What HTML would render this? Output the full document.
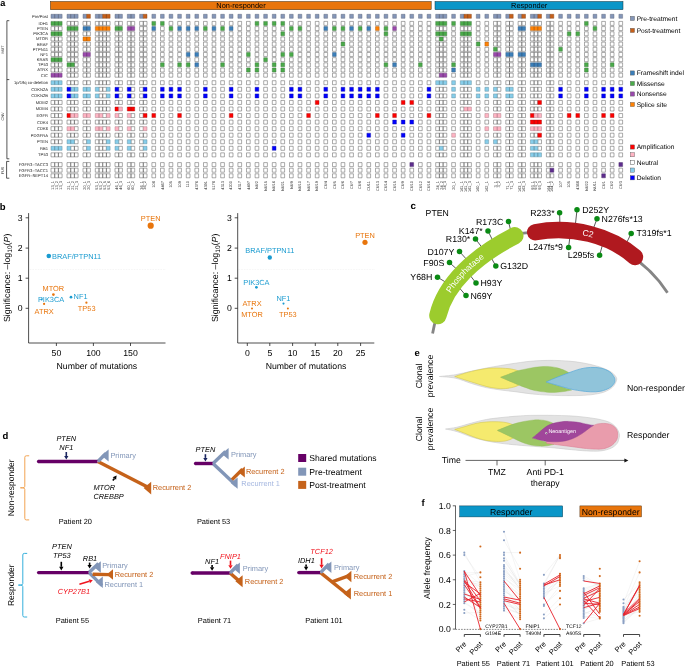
<!DOCTYPE html>
<html lang="en">
<head>
<meta charset="utf-8">
<title>Figure</title>
<style>
html,body{margin:0;padding:0;background:#fff;}
body{width:685px;height:666px;overflow:hidden;}
svg{display:block;font-family:"Liberation Sans",sans-serif;fill:#000;}
svg text{white-space:pre;}
</style>
</head>
<body>
<svg width="685" height="666" viewBox="0 0 685 666" text-rendering="geometricPrecision">
<rect x="0" y="0" width="685" height="666" fill="#fff"/>
<rect x="50.40" y="1.5" width="380.80" height="8.2" fill="#e8750c" stroke="#3a2a10" stroke-width="0.5"/>
<rect x="435.00" y="1.5" width="188.00" height="8.2" fill="#0a96c8" stroke="#10303a" stroke-width="0.5"/>
<text x="241.00" y="8.30" font-size="7.4" text-anchor="middle" fill="#000">Non-responder</text>
<text x="529.15" y="8.30" font-size="7.4" text-anchor="middle" fill="#000">Responder</text>
<text x="0.20" y="5.80" font-size="9.2" fill="#000" font-weight="bold">a</text>
<g stroke="#454545" stroke-width="0.45">
<path fill="#fff" d="M67,21.4h3.7v4.0h-3.7zM70.7,21.4h3.7v4.0h-3.7zM74.4,21.4h3.7v4.0h-3.7zM83,21.4h3.7v4.0h-3.7zM86.7,21.4h3.7v4.0h-3.7zM95.3,21.4h3.7v4.0h-3.7zM99,21.4h3.7v4.0h-3.7zM102.7,21.4h3.7v4.0h-3.7zM106.4,21.4h3.7v4.0h-3.7zM115,21.4h3.7v4.0h-3.7zM118.7,21.4h3.7v4.0h-3.7zM127.3,21.4h3.7v4.0h-3.7zM131,21.4h3.7v4.0h-3.7zM139.6,21.4h3.7v4.0h-3.7zM143.3,21.4h3.7v4.0h-3.7zM169.1,21.4h3.7v4.0h-3.7zM177.7,21.4h3.7v4.0h-3.7zM186.3,21.4h3.7v4.0h-3.7zM194.9,21.4h3.7v4.0h-3.7zM203.5,21.4h3.7v4.0h-3.7zM212.1,21.4h3.7v4.0h-3.7zM220.7,21.4h3.7v4.0h-3.7zM229.3,21.4h3.7v4.0h-3.7zM237.9,21.4h3.7v4.0h-3.7zM246.5,21.4h3.7v4.0h-3.7zM289.5,21.4h3.7v4.0h-3.7zM298.1,21.4h3.7v4.0h-3.7zM306.7,21.4h3.7v4.0h-3.7zM315.3,21.4h3.7v4.0h-3.7zM323.9,21.4h3.7v4.0h-3.7zM332.5,21.4h3.7v4.0h-3.7zM341.1,21.4h3.7v4.0h-3.7zM349.7,21.4h3.7v4.0h-3.7zM358.3,21.4h3.7v4.0h-3.7zM366.9,21.4h3.7v4.0h-3.7zM375.5,21.4h3.7v4.0h-3.7zM384.1,21.4h3.7v4.0h-3.7zM392.7,21.4h3.7v4.0h-3.7zM401.3,21.4h3.7v4.0h-3.7zM409.9,21.4h3.7v4.0h-3.7zM418.5,21.4h3.7v4.0h-3.7zM427.1,21.4h3.7v4.0h-3.7zM476.3,21.4h3.7v4.0h-3.7zM484.9,21.4h3.7v4.0h-3.7zM493.5,21.4h3.7v4.0h-3.7zM497.2,21.4h3.7v4.0h-3.7zM505.8,21.4h3.7v4.0h-3.7zM509.5,21.4h3.7v4.0h-3.7zM518.1,21.4h3.7v4.0h-3.7zM521.8,21.4h3.7v4.0h-3.7zM530.4,21.4h3.7v4.0h-3.7zM534.1,21.4h3.7v4.0h-3.7zM537.8,21.4h3.7v4.0h-3.7zM546.4,21.4h3.7v4.0h-3.7zM550.1,21.4h3.7v4.0h-3.7zM558.7,21.4h3.7v4.0h-3.7zM567.3,21.4h3.7v4.0h-3.7zM575.9,21.4h3.7v4.0h-3.7zM593.1,21.4h3.7v4.0h-3.7zM601.7,21.4h3.7v4.0h-3.7zM610.3,21.4h3.7v4.0h-3.7zM618.9,21.4h3.7v4.0h-3.7zM51,26.58h3.7v4.0h-3.7zM54.7,26.58h3.7v4.0h-3.7zM58.4,26.58h3.7v4.0h-3.7zM139.6,26.58h3.7v4.0h-3.7zM143.3,26.58h3.7v4.0h-3.7zM160.5,26.58h3.7v4.0h-3.7zM237.9,26.58h3.7v4.0h-3.7zM246.5,26.58h3.7v4.0h-3.7zM255.1,26.58h3.7v4.0h-3.7zM263.7,26.58h3.7v4.0h-3.7zM272.3,26.58h3.7v4.0h-3.7zM280.9,26.58h3.7v4.0h-3.7zM306.7,26.58h3.7v4.0h-3.7zM315.3,26.58h3.7v4.0h-3.7zM401.3,26.58h3.7v4.0h-3.7zM409.9,26.58h3.7v4.0h-3.7zM418.5,26.58h3.7v4.0h-3.7zM427.1,26.58h3.7v4.0h-3.7zM435.7,26.58h3.7v4.0h-3.7zM439.4,26.58h3.7v4.0h-3.7zM443.1,26.58h3.7v4.0h-3.7zM451.7,26.58h3.7v4.0h-3.7zM460.3,26.58h3.7v4.0h-3.7zM464,26.58h3.7v4.0h-3.7zM467.7,26.58h3.7v4.0h-3.7zM476.3,26.58h3.7v4.0h-3.7zM484.9,26.58h3.7v4.0h-3.7zM493.5,26.58h3.7v4.0h-3.7zM497.2,26.58h3.7v4.0h-3.7zM505.8,26.58h3.7v4.0h-3.7zM509.5,26.58h3.7v4.0h-3.7zM546.4,26.58h3.7v4.0h-3.7zM550.1,26.58h3.7v4.0h-3.7zM558.7,26.58h3.7v4.0h-3.7zM567.3,26.58h3.7v4.0h-3.7zM575.9,26.58h3.7v4.0h-3.7zM584.5,26.58h3.7v4.0h-3.7zM601.7,26.58h3.7v4.0h-3.7zM610.3,26.58h3.7v4.0h-3.7zM618.9,26.58h3.7v4.0h-3.7zM67,31.76h3.7v4.0h-3.7zM70.7,31.76h3.7v4.0h-3.7zM74.4,31.76h3.7v4.0h-3.7zM83,31.76h3.7v4.0h-3.7zM86.7,31.76h3.7v4.0h-3.7zM95.3,31.76h3.7v4.0h-3.7zM99,31.76h3.7v4.0h-3.7zM102.7,31.76h3.7v4.0h-3.7zM106.4,31.76h3.7v4.0h-3.7zM115,31.76h3.7v4.0h-3.7zM118.7,31.76h3.7v4.0h-3.7zM127.3,31.76h3.7v4.0h-3.7zM131,31.76h3.7v4.0h-3.7zM139.6,31.76h3.7v4.0h-3.7zM143.3,31.76h3.7v4.0h-3.7zM151.9,31.76h3.7v4.0h-3.7zM160.5,31.76h3.7v4.0h-3.7zM169.1,31.76h3.7v4.0h-3.7zM177.7,31.76h3.7v4.0h-3.7zM186.3,31.76h3.7v4.0h-3.7zM194.9,31.76h3.7v4.0h-3.7zM203.5,31.76h3.7v4.0h-3.7zM212.1,31.76h3.7v4.0h-3.7zM220.7,31.76h3.7v4.0h-3.7zM229.3,31.76h3.7v4.0h-3.7zM237.9,31.76h3.7v4.0h-3.7zM246.5,31.76h3.7v4.0h-3.7zM255.1,31.76h3.7v4.0h-3.7zM263.7,31.76h3.7v4.0h-3.7zM272.3,31.76h3.7v4.0h-3.7zM289.5,31.76h3.7v4.0h-3.7zM298.1,31.76h3.7v4.0h-3.7zM306.7,31.76h3.7v4.0h-3.7zM315.3,31.76h3.7v4.0h-3.7zM323.9,31.76h3.7v4.0h-3.7zM332.5,31.76h3.7v4.0h-3.7zM341.1,31.76h3.7v4.0h-3.7zM349.7,31.76h3.7v4.0h-3.7zM358.3,31.76h3.7v4.0h-3.7zM366.9,31.76h3.7v4.0h-3.7zM375.5,31.76h3.7v4.0h-3.7zM392.7,31.76h3.7v4.0h-3.7zM401.3,31.76h3.7v4.0h-3.7zM409.9,31.76h3.7v4.0h-3.7zM418.5,31.76h3.7v4.0h-3.7zM427.1,31.76h3.7v4.0h-3.7zM451.7,31.76h3.7v4.0h-3.7zM476.3,31.76h3.7v4.0h-3.7zM484.9,31.76h3.7v4.0h-3.7zM493.5,31.76h3.7v4.0h-3.7zM497.2,31.76h3.7v4.0h-3.7zM505.8,31.76h3.7v4.0h-3.7zM509.5,31.76h3.7v4.0h-3.7zM518.1,31.76h3.7v4.0h-3.7zM521.8,31.76h3.7v4.0h-3.7zM530.4,31.76h3.7v4.0h-3.7zM534.1,31.76h3.7v4.0h-3.7zM537.8,31.76h3.7v4.0h-3.7zM546.4,31.76h3.7v4.0h-3.7zM550.1,31.76h3.7v4.0h-3.7zM558.7,31.76h3.7v4.0h-3.7zM584.5,31.76h3.7v4.0h-3.7zM593.1,31.76h3.7v4.0h-3.7zM601.7,31.76h3.7v4.0h-3.7zM610.3,31.76h3.7v4.0h-3.7zM618.9,31.76h3.7v4.0h-3.7zM51,36.94h3.7v4.0h-3.7zM54.7,36.94h3.7v4.0h-3.7zM58.4,36.94h3.7v4.0h-3.7zM67,36.94h3.7v4.0h-3.7zM70.7,36.94h3.7v4.0h-3.7zM74.4,36.94h3.7v4.0h-3.7zM95.3,36.94h3.7v4.0h-3.7zM99,36.94h3.7v4.0h-3.7zM102.7,36.94h3.7v4.0h-3.7zM106.4,36.94h3.7v4.0h-3.7zM115,36.94h3.7v4.0h-3.7zM118.7,36.94h3.7v4.0h-3.7zM127.3,36.94h3.7v4.0h-3.7zM131,36.94h3.7v4.0h-3.7zM139.6,36.94h3.7v4.0h-3.7zM143.3,36.94h3.7v4.0h-3.7zM151.9,36.94h3.7v4.0h-3.7zM160.5,36.94h3.7v4.0h-3.7zM169.1,36.94h3.7v4.0h-3.7zM177.7,36.94h3.7v4.0h-3.7zM186.3,36.94h3.7v4.0h-3.7zM194.9,36.94h3.7v4.0h-3.7zM203.5,36.94h3.7v4.0h-3.7zM212.1,36.94h3.7v4.0h-3.7zM220.7,36.94h3.7v4.0h-3.7zM229.3,36.94h3.7v4.0h-3.7zM237.9,36.94h3.7v4.0h-3.7zM246.5,36.94h3.7v4.0h-3.7zM255.1,36.94h3.7v4.0h-3.7zM263.7,36.94h3.7v4.0h-3.7zM272.3,36.94h3.7v4.0h-3.7zM280.9,36.94h3.7v4.0h-3.7zM289.5,36.94h3.7v4.0h-3.7zM298.1,36.94h3.7v4.0h-3.7zM306.7,36.94h3.7v4.0h-3.7zM315.3,36.94h3.7v4.0h-3.7zM323.9,36.94h3.7v4.0h-3.7zM332.5,36.94h3.7v4.0h-3.7zM341.1,36.94h3.7v4.0h-3.7zM349.7,36.94h3.7v4.0h-3.7zM358.3,36.94h3.7v4.0h-3.7zM366.9,36.94h3.7v4.0h-3.7zM375.5,36.94h3.7v4.0h-3.7zM384.1,36.94h3.7v4.0h-3.7zM392.7,36.94h3.7v4.0h-3.7zM401.3,36.94h3.7v4.0h-3.7zM409.9,36.94h3.7v4.0h-3.7zM418.5,36.94h3.7v4.0h-3.7zM427.1,36.94h3.7v4.0h-3.7zM435.7,36.94h3.7v4.0h-3.7zM443.1,36.94h3.7v4.0h-3.7zM451.7,36.94h3.7v4.0h-3.7zM460.3,36.94h3.7v4.0h-3.7zM464,36.94h3.7v4.0h-3.7zM467.7,36.94h3.7v4.0h-3.7zM476.3,36.94h3.7v4.0h-3.7zM484.9,36.94h3.7v4.0h-3.7zM493.5,36.94h3.7v4.0h-3.7zM497.2,36.94h3.7v4.0h-3.7zM505.8,36.94h3.7v4.0h-3.7zM509.5,36.94h3.7v4.0h-3.7zM518.1,36.94h3.7v4.0h-3.7zM521.8,36.94h3.7v4.0h-3.7zM530.4,36.94h3.7v4.0h-3.7zM534.1,36.94h3.7v4.0h-3.7zM537.8,36.94h3.7v4.0h-3.7zM546.4,36.94h3.7v4.0h-3.7zM550.1,36.94h3.7v4.0h-3.7zM558.7,36.94h3.7v4.0h-3.7zM567.3,36.94h3.7v4.0h-3.7zM575.9,36.94h3.7v4.0h-3.7zM584.5,36.94h3.7v4.0h-3.7zM593.1,36.94h3.7v4.0h-3.7zM601.7,36.94h3.7v4.0h-3.7zM610.3,36.94h3.7v4.0h-3.7zM618.9,36.94h3.7v4.0h-3.7zM51,42.12h3.7v4.0h-3.7zM54.7,42.12h3.7v4.0h-3.7zM58.4,42.12h3.7v4.0h-3.7zM67,42.12h3.7v4.0h-3.7zM70.7,42.12h3.7v4.0h-3.7zM74.4,42.12h3.7v4.0h-3.7zM83,42.12h3.7v4.0h-3.7zM86.7,42.12h3.7v4.0h-3.7zM95.3,42.12h3.7v4.0h-3.7zM99,42.12h3.7v4.0h-3.7zM102.7,42.12h3.7v4.0h-3.7zM106.4,42.12h3.7v4.0h-3.7zM115,42.12h3.7v4.0h-3.7zM118.7,42.12h3.7v4.0h-3.7zM127.3,42.12h3.7v4.0h-3.7zM131,42.12h3.7v4.0h-3.7zM139.6,42.12h3.7v4.0h-3.7zM143.3,42.12h3.7v4.0h-3.7zM151.9,42.12h3.7v4.0h-3.7zM160.5,42.12h3.7v4.0h-3.7zM169.1,42.12h3.7v4.0h-3.7zM177.7,42.12h3.7v4.0h-3.7zM186.3,42.12h3.7v4.0h-3.7zM194.9,42.12h3.7v4.0h-3.7zM203.5,42.12h3.7v4.0h-3.7zM212.1,42.12h3.7v4.0h-3.7zM220.7,42.12h3.7v4.0h-3.7zM229.3,42.12h3.7v4.0h-3.7zM237.9,42.12h3.7v4.0h-3.7zM246.5,42.12h3.7v4.0h-3.7zM255.1,42.12h3.7v4.0h-3.7zM263.7,42.12h3.7v4.0h-3.7zM272.3,42.12h3.7v4.0h-3.7zM280.9,42.12h3.7v4.0h-3.7zM289.5,42.12h3.7v4.0h-3.7zM298.1,42.12h3.7v4.0h-3.7zM306.7,42.12h3.7v4.0h-3.7zM315.3,42.12h3.7v4.0h-3.7zM323.9,42.12h3.7v4.0h-3.7zM332.5,42.12h3.7v4.0h-3.7zM349.7,42.12h3.7v4.0h-3.7zM358.3,42.12h3.7v4.0h-3.7zM366.9,42.12h3.7v4.0h-3.7zM375.5,42.12h3.7v4.0h-3.7zM384.1,42.12h3.7v4.0h-3.7zM392.7,42.12h3.7v4.0h-3.7zM401.3,42.12h3.7v4.0h-3.7zM409.9,42.12h3.7v4.0h-3.7zM418.5,42.12h3.7v4.0h-3.7zM427.1,42.12h3.7v4.0h-3.7zM435.7,42.12h3.7v4.0h-3.7zM439.4,42.12h3.7v4.0h-3.7zM443.1,42.12h3.7v4.0h-3.7zM451.7,42.12h3.7v4.0h-3.7zM460.3,42.12h3.7v4.0h-3.7zM464,42.12h3.7v4.0h-3.7zM467.7,42.12h3.7v4.0h-3.7zM493.5,42.12h3.7v4.0h-3.7zM497.2,42.12h3.7v4.0h-3.7zM505.8,42.12h3.7v4.0h-3.7zM509.5,42.12h3.7v4.0h-3.7zM518.1,42.12h3.7v4.0h-3.7zM521.8,42.12h3.7v4.0h-3.7zM530.4,42.12h3.7v4.0h-3.7zM534.1,42.12h3.7v4.0h-3.7zM537.8,42.12h3.7v4.0h-3.7zM546.4,42.12h3.7v4.0h-3.7zM550.1,42.12h3.7v4.0h-3.7zM558.7,42.12h3.7v4.0h-3.7zM567.3,42.12h3.7v4.0h-3.7zM575.9,42.12h3.7v4.0h-3.7zM584.5,42.12h3.7v4.0h-3.7zM593.1,42.12h3.7v4.0h-3.7zM601.7,42.12h3.7v4.0h-3.7zM610.3,42.12h3.7v4.0h-3.7zM618.9,42.12h3.7v4.0h-3.7zM51,47.3h3.7v4.0h-3.7zM54.7,47.3h3.7v4.0h-3.7zM58.4,47.3h3.7v4.0h-3.7zM67,47.3h3.7v4.0h-3.7zM70.7,47.3h3.7v4.0h-3.7zM74.4,47.3h3.7v4.0h-3.7zM83,47.3h3.7v4.0h-3.7zM86.7,47.3h3.7v4.0h-3.7zM95.3,47.3h3.7v4.0h-3.7zM99,47.3h3.7v4.0h-3.7zM102.7,47.3h3.7v4.0h-3.7zM106.4,47.3h3.7v4.0h-3.7zM115,47.3h3.7v4.0h-3.7zM118.7,47.3h3.7v4.0h-3.7zM127.3,47.3h3.7v4.0h-3.7zM131,47.3h3.7v4.0h-3.7zM139.6,47.3h3.7v4.0h-3.7zM143.3,47.3h3.7v4.0h-3.7zM151.9,47.3h3.7v4.0h-3.7zM160.5,47.3h3.7v4.0h-3.7zM169.1,47.3h3.7v4.0h-3.7zM177.7,47.3h3.7v4.0h-3.7zM186.3,47.3h3.7v4.0h-3.7zM194.9,47.3h3.7v4.0h-3.7zM203.5,47.3h3.7v4.0h-3.7zM212.1,47.3h3.7v4.0h-3.7zM220.7,47.3h3.7v4.0h-3.7zM229.3,47.3h3.7v4.0h-3.7zM237.9,47.3h3.7v4.0h-3.7zM246.5,47.3h3.7v4.0h-3.7zM255.1,47.3h3.7v4.0h-3.7zM263.7,47.3h3.7v4.0h-3.7zM272.3,47.3h3.7v4.0h-3.7zM280.9,47.3h3.7v4.0h-3.7zM289.5,47.3h3.7v4.0h-3.7zM298.1,47.3h3.7v4.0h-3.7zM306.7,47.3h3.7v4.0h-3.7zM315.3,47.3h3.7v4.0h-3.7zM323.9,47.3h3.7v4.0h-3.7zM332.5,47.3h3.7v4.0h-3.7zM341.1,47.3h3.7v4.0h-3.7zM349.7,47.3h3.7v4.0h-3.7zM358.3,47.3h3.7v4.0h-3.7zM366.9,47.3h3.7v4.0h-3.7zM375.5,47.3h3.7v4.0h-3.7zM384.1,47.3h3.7v4.0h-3.7zM392.7,47.3h3.7v4.0h-3.7zM401.3,47.3h3.7v4.0h-3.7zM409.9,47.3h3.7v4.0h-3.7zM418.5,47.3h3.7v4.0h-3.7zM427.1,47.3h3.7v4.0h-3.7zM435.7,47.3h3.7v4.0h-3.7zM439.4,47.3h3.7v4.0h-3.7zM443.1,47.3h3.7v4.0h-3.7zM451.7,47.3h3.7v4.0h-3.7zM460.3,47.3h3.7v4.0h-3.7zM464,47.3h3.7v4.0h-3.7zM467.7,47.3h3.7v4.0h-3.7zM476.3,47.3h3.7v4.0h-3.7zM484.9,47.3h3.7v4.0h-3.7zM497.2,47.3h3.7v4.0h-3.7zM505.8,47.3h3.7v4.0h-3.7zM509.5,47.3h3.7v4.0h-3.7zM518.1,47.3h3.7v4.0h-3.7zM521.8,47.3h3.7v4.0h-3.7zM530.4,47.3h3.7v4.0h-3.7zM534.1,47.3h3.7v4.0h-3.7zM537.8,47.3h3.7v4.0h-3.7zM546.4,47.3h3.7v4.0h-3.7zM550.1,47.3h3.7v4.0h-3.7zM567.3,47.3h3.7v4.0h-3.7zM575.9,47.3h3.7v4.0h-3.7zM584.5,47.3h3.7v4.0h-3.7zM593.1,47.3h3.7v4.0h-3.7zM601.7,47.3h3.7v4.0h-3.7zM610.3,47.3h3.7v4.0h-3.7zM618.9,47.3h3.7v4.0h-3.7zM51,52.48h3.7v4.0h-3.7zM54.7,52.48h3.7v4.0h-3.7zM58.4,52.48h3.7v4.0h-3.7zM67,52.48h3.7v4.0h-3.7zM70.7,52.48h3.7v4.0h-3.7zM74.4,52.48h3.7v4.0h-3.7zM95.3,52.48h3.7v4.0h-3.7zM99,52.48h3.7v4.0h-3.7zM102.7,52.48h3.7v4.0h-3.7zM106.4,52.48h3.7v4.0h-3.7zM115,52.48h3.7v4.0h-3.7zM118.7,52.48h3.7v4.0h-3.7zM127.3,52.48h3.7v4.0h-3.7zM131,52.48h3.7v4.0h-3.7zM139.6,52.48h3.7v4.0h-3.7zM143.3,52.48h3.7v4.0h-3.7zM151.9,52.48h3.7v4.0h-3.7zM160.5,52.48h3.7v4.0h-3.7zM169.1,52.48h3.7v4.0h-3.7zM177.7,52.48h3.7v4.0h-3.7zM203.5,52.48h3.7v4.0h-3.7zM212.1,52.48h3.7v4.0h-3.7zM220.7,52.48h3.7v4.0h-3.7zM229.3,52.48h3.7v4.0h-3.7zM237.9,52.48h3.7v4.0h-3.7zM255.1,52.48h3.7v4.0h-3.7zM263.7,52.48h3.7v4.0h-3.7zM272.3,52.48h3.7v4.0h-3.7zM298.1,52.48h3.7v4.0h-3.7zM306.7,52.48h3.7v4.0h-3.7zM315.3,52.48h3.7v4.0h-3.7zM323.9,52.48h3.7v4.0h-3.7zM341.1,52.48h3.7v4.0h-3.7zM349.7,52.48h3.7v4.0h-3.7zM358.3,52.48h3.7v4.0h-3.7zM366.9,52.48h3.7v4.0h-3.7zM375.5,52.48h3.7v4.0h-3.7zM384.1,52.48h3.7v4.0h-3.7zM392.7,52.48h3.7v4.0h-3.7zM401.3,52.48h3.7v4.0h-3.7zM409.9,52.48h3.7v4.0h-3.7zM418.5,52.48h3.7v4.0h-3.7zM427.1,52.48h3.7v4.0h-3.7zM435.7,52.48h3.7v4.0h-3.7zM439.4,52.48h3.7v4.0h-3.7zM443.1,52.48h3.7v4.0h-3.7zM451.7,52.48h3.7v4.0h-3.7zM460.3,52.48h3.7v4.0h-3.7zM464,52.48h3.7v4.0h-3.7zM467.7,52.48h3.7v4.0h-3.7zM476.3,52.48h3.7v4.0h-3.7zM484.9,52.48h3.7v4.0h-3.7zM530.4,52.48h3.7v4.0h-3.7zM534.1,52.48h3.7v4.0h-3.7zM537.8,52.48h3.7v4.0h-3.7zM546.4,52.48h3.7v4.0h-3.7zM550.1,52.48h3.7v4.0h-3.7zM558.7,52.48h3.7v4.0h-3.7zM567.3,52.48h3.7v4.0h-3.7zM575.9,52.48h3.7v4.0h-3.7zM584.5,52.48h3.7v4.0h-3.7zM593.1,52.48h3.7v4.0h-3.7zM601.7,52.48h3.7v4.0h-3.7zM610.3,52.48h3.7v4.0h-3.7zM618.9,52.48h3.7v4.0h-3.7zM67,57.66h3.7v4.0h-3.7zM70.7,57.66h3.7v4.0h-3.7zM74.4,57.66h3.7v4.0h-3.7zM83,57.66h3.7v4.0h-3.7zM86.7,57.66h3.7v4.0h-3.7zM95.3,57.66h3.7v4.0h-3.7zM99,57.66h3.7v4.0h-3.7zM102.7,57.66h3.7v4.0h-3.7zM106.4,57.66h3.7v4.0h-3.7zM115,57.66h3.7v4.0h-3.7zM118.7,57.66h3.7v4.0h-3.7zM127.3,57.66h3.7v4.0h-3.7zM131,57.66h3.7v4.0h-3.7zM139.6,57.66h3.7v4.0h-3.7zM143.3,57.66h3.7v4.0h-3.7zM151.9,57.66h3.7v4.0h-3.7zM160.5,57.66h3.7v4.0h-3.7zM169.1,57.66h3.7v4.0h-3.7zM177.7,57.66h3.7v4.0h-3.7zM186.3,57.66h3.7v4.0h-3.7zM194.9,57.66h3.7v4.0h-3.7zM203.5,57.66h3.7v4.0h-3.7zM212.1,57.66h3.7v4.0h-3.7zM220.7,57.66h3.7v4.0h-3.7zM229.3,57.66h3.7v4.0h-3.7zM237.9,57.66h3.7v4.0h-3.7zM246.5,57.66h3.7v4.0h-3.7zM255.1,57.66h3.7v4.0h-3.7zM272.3,57.66h3.7v4.0h-3.7zM280.9,57.66h3.7v4.0h-3.7zM289.5,57.66h3.7v4.0h-3.7zM298.1,57.66h3.7v4.0h-3.7zM306.7,57.66h3.7v4.0h-3.7zM315.3,57.66h3.7v4.0h-3.7zM323.9,57.66h3.7v4.0h-3.7zM332.5,57.66h3.7v4.0h-3.7zM341.1,57.66h3.7v4.0h-3.7zM349.7,57.66h3.7v4.0h-3.7zM358.3,57.66h3.7v4.0h-3.7zM366.9,57.66h3.7v4.0h-3.7zM375.5,57.66h3.7v4.0h-3.7zM384.1,57.66h3.7v4.0h-3.7zM392.7,57.66h3.7v4.0h-3.7zM401.3,57.66h3.7v4.0h-3.7zM409.9,57.66h3.7v4.0h-3.7zM418.5,57.66h3.7v4.0h-3.7zM427.1,57.66h3.7v4.0h-3.7zM435.7,57.66h3.7v4.0h-3.7zM439.4,57.66h3.7v4.0h-3.7zM443.1,57.66h3.7v4.0h-3.7zM451.7,57.66h3.7v4.0h-3.7zM460.3,57.66h3.7v4.0h-3.7zM464,57.66h3.7v4.0h-3.7zM467.7,57.66h3.7v4.0h-3.7zM476.3,57.66h3.7v4.0h-3.7zM484.9,57.66h3.7v4.0h-3.7zM493.5,57.66h3.7v4.0h-3.7zM497.2,57.66h3.7v4.0h-3.7zM505.8,57.66h3.7v4.0h-3.7zM509.5,57.66h3.7v4.0h-3.7zM518.1,57.66h3.7v4.0h-3.7zM521.8,57.66h3.7v4.0h-3.7zM530.4,57.66h3.7v4.0h-3.7zM534.1,57.66h3.7v4.0h-3.7zM537.8,57.66h3.7v4.0h-3.7zM546.4,57.66h3.7v4.0h-3.7zM550.1,57.66h3.7v4.0h-3.7zM558.7,57.66h3.7v4.0h-3.7zM567.3,57.66h3.7v4.0h-3.7zM575.9,57.66h3.7v4.0h-3.7zM584.5,57.66h3.7v4.0h-3.7zM593.1,57.66h3.7v4.0h-3.7zM601.7,57.66h3.7v4.0h-3.7zM610.3,57.66h3.7v4.0h-3.7zM618.9,57.66h3.7v4.0h-3.7zM51,62.84h3.7v4.0h-3.7zM54.7,62.84h3.7v4.0h-3.7zM58.4,62.84h3.7v4.0h-3.7zM74.4,62.84h3.7v4.0h-3.7zM83,62.84h3.7v4.0h-3.7zM86.7,62.84h3.7v4.0h-3.7zM95.3,62.84h3.7v4.0h-3.7zM99,62.84h3.7v4.0h-3.7zM102.7,62.84h3.7v4.0h-3.7zM106.4,62.84h3.7v4.0h-3.7zM115,62.84h3.7v4.0h-3.7zM118.7,62.84h3.7v4.0h-3.7zM127.3,62.84h3.7v4.0h-3.7zM131,62.84h3.7v4.0h-3.7zM139.6,62.84h3.7v4.0h-3.7zM143.3,62.84h3.7v4.0h-3.7zM151.9,62.84h3.7v4.0h-3.7zM169.1,62.84h3.7v4.0h-3.7zM203.5,62.84h3.7v4.0h-3.7zM212.1,62.84h3.7v4.0h-3.7zM229.3,62.84h3.7v4.0h-3.7zM237.9,62.84h3.7v4.0h-3.7zM246.5,62.84h3.7v4.0h-3.7zM263.7,62.84h3.7v4.0h-3.7zM289.5,62.84h3.7v4.0h-3.7zM298.1,62.84h3.7v4.0h-3.7zM306.7,62.84h3.7v4.0h-3.7zM315.3,62.84h3.7v4.0h-3.7zM323.9,62.84h3.7v4.0h-3.7zM332.5,62.84h3.7v4.0h-3.7zM341.1,62.84h3.7v4.0h-3.7zM349.7,62.84h3.7v4.0h-3.7zM358.3,62.84h3.7v4.0h-3.7zM366.9,62.84h3.7v4.0h-3.7zM375.5,62.84h3.7v4.0h-3.7zM401.3,62.84h3.7v4.0h-3.7zM409.9,62.84h3.7v4.0h-3.7zM427.1,62.84h3.7v4.0h-3.7zM435.7,62.84h3.7v4.0h-3.7zM439.4,62.84h3.7v4.0h-3.7zM443.1,62.84h3.7v4.0h-3.7zM460.3,62.84h3.7v4.0h-3.7zM464,62.84h3.7v4.0h-3.7zM467.7,62.84h3.7v4.0h-3.7zM476.3,62.84h3.7v4.0h-3.7zM484.9,62.84h3.7v4.0h-3.7zM493.5,62.84h3.7v4.0h-3.7zM497.2,62.84h3.7v4.0h-3.7zM505.8,62.84h3.7v4.0h-3.7zM509.5,62.84h3.7v4.0h-3.7zM518.1,62.84h3.7v4.0h-3.7zM521.8,62.84h3.7v4.0h-3.7zM546.4,62.84h3.7v4.0h-3.7zM550.1,62.84h3.7v4.0h-3.7zM558.7,62.84h3.7v4.0h-3.7zM567.3,62.84h3.7v4.0h-3.7zM575.9,62.84h3.7v4.0h-3.7zM593.1,62.84h3.7v4.0h-3.7zM601.7,62.84h3.7v4.0h-3.7zM618.9,62.84h3.7v4.0h-3.7zM51,68.02h3.7v4.0h-3.7zM54.7,68.02h3.7v4.0h-3.7zM58.4,68.02h3.7v4.0h-3.7zM67,68.02h3.7v4.0h-3.7zM70.7,68.02h3.7v4.0h-3.7zM74.4,68.02h3.7v4.0h-3.7zM83,68.02h3.7v4.0h-3.7zM86.7,68.02h3.7v4.0h-3.7zM95.3,68.02h3.7v4.0h-3.7zM99,68.02h3.7v4.0h-3.7zM102.7,68.02h3.7v4.0h-3.7zM106.4,68.02h3.7v4.0h-3.7zM115,68.02h3.7v4.0h-3.7zM118.7,68.02h3.7v4.0h-3.7zM127.3,68.02h3.7v4.0h-3.7zM131,68.02h3.7v4.0h-3.7zM139.6,68.02h3.7v4.0h-3.7zM143.3,68.02h3.7v4.0h-3.7zM151.9,68.02h3.7v4.0h-3.7zM160.5,68.02h3.7v4.0h-3.7zM169.1,68.02h3.7v4.0h-3.7zM177.7,68.02h3.7v4.0h-3.7zM186.3,68.02h3.7v4.0h-3.7zM194.9,68.02h3.7v4.0h-3.7zM203.5,68.02h3.7v4.0h-3.7zM212.1,68.02h3.7v4.0h-3.7zM220.7,68.02h3.7v4.0h-3.7zM229.3,68.02h3.7v4.0h-3.7zM237.9,68.02h3.7v4.0h-3.7zM263.7,68.02h3.7v4.0h-3.7zM289.5,68.02h3.7v4.0h-3.7zM298.1,68.02h3.7v4.0h-3.7zM306.7,68.02h3.7v4.0h-3.7zM315.3,68.02h3.7v4.0h-3.7zM323.9,68.02h3.7v4.0h-3.7zM332.5,68.02h3.7v4.0h-3.7zM341.1,68.02h3.7v4.0h-3.7zM349.7,68.02h3.7v4.0h-3.7zM358.3,68.02h3.7v4.0h-3.7zM366.9,68.02h3.7v4.0h-3.7zM375.5,68.02h3.7v4.0h-3.7zM384.1,68.02h3.7v4.0h-3.7zM392.7,68.02h3.7v4.0h-3.7zM401.3,68.02h3.7v4.0h-3.7zM409.9,68.02h3.7v4.0h-3.7zM418.5,68.02h3.7v4.0h-3.7zM427.1,68.02h3.7v4.0h-3.7zM435.7,68.02h3.7v4.0h-3.7zM439.4,68.02h3.7v4.0h-3.7zM443.1,68.02h3.7v4.0h-3.7zM460.3,68.02h3.7v4.0h-3.7zM464,68.02h3.7v4.0h-3.7zM467.7,68.02h3.7v4.0h-3.7zM476.3,68.02h3.7v4.0h-3.7zM484.9,68.02h3.7v4.0h-3.7zM493.5,68.02h3.7v4.0h-3.7zM497.2,68.02h3.7v4.0h-3.7zM505.8,68.02h3.7v4.0h-3.7zM509.5,68.02h3.7v4.0h-3.7zM518.1,68.02h3.7v4.0h-3.7zM521.8,68.02h3.7v4.0h-3.7zM530.4,68.02h3.7v4.0h-3.7zM534.1,68.02h3.7v4.0h-3.7zM537.8,68.02h3.7v4.0h-3.7zM546.4,68.02h3.7v4.0h-3.7zM550.1,68.02h3.7v4.0h-3.7zM558.7,68.02h3.7v4.0h-3.7zM567.3,68.02h3.7v4.0h-3.7zM575.9,68.02h3.7v4.0h-3.7zM593.1,68.02h3.7v4.0h-3.7zM601.7,68.02h3.7v4.0h-3.7zM610.3,68.02h3.7v4.0h-3.7zM618.9,68.02h3.7v4.0h-3.7zM67,73.2h3.7v4.0h-3.7zM70.7,73.2h3.7v4.0h-3.7zM74.4,73.2h3.7v4.0h-3.7zM83,73.2h3.7v4.0h-3.7zM86.7,73.2h3.7v4.0h-3.7zM95.3,73.2h3.7v4.0h-3.7zM99,73.2h3.7v4.0h-3.7zM102.7,73.2h3.7v4.0h-3.7zM106.4,73.2h3.7v4.0h-3.7zM115,73.2h3.7v4.0h-3.7zM118.7,73.2h3.7v4.0h-3.7zM127.3,73.2h3.7v4.0h-3.7zM131,73.2h3.7v4.0h-3.7zM139.6,73.2h3.7v4.0h-3.7zM143.3,73.2h3.7v4.0h-3.7zM151.9,73.2h3.7v4.0h-3.7zM160.5,73.2h3.7v4.0h-3.7zM169.1,73.2h3.7v4.0h-3.7zM177.7,73.2h3.7v4.0h-3.7zM186.3,73.2h3.7v4.0h-3.7zM194.9,73.2h3.7v4.0h-3.7zM203.5,73.2h3.7v4.0h-3.7zM212.1,73.2h3.7v4.0h-3.7zM220.7,73.2h3.7v4.0h-3.7zM229.3,73.2h3.7v4.0h-3.7zM237.9,73.2h3.7v4.0h-3.7zM246.5,73.2h3.7v4.0h-3.7zM255.1,73.2h3.7v4.0h-3.7zM263.7,73.2h3.7v4.0h-3.7zM272.3,73.2h3.7v4.0h-3.7zM280.9,73.2h3.7v4.0h-3.7zM289.5,73.2h3.7v4.0h-3.7zM298.1,73.2h3.7v4.0h-3.7zM306.7,73.2h3.7v4.0h-3.7zM315.3,73.2h3.7v4.0h-3.7zM323.9,73.2h3.7v4.0h-3.7zM332.5,73.2h3.7v4.0h-3.7zM341.1,73.2h3.7v4.0h-3.7zM349.7,73.2h3.7v4.0h-3.7zM358.3,73.2h3.7v4.0h-3.7zM366.9,73.2h3.7v4.0h-3.7zM375.5,73.2h3.7v4.0h-3.7zM384.1,73.2h3.7v4.0h-3.7zM392.7,73.2h3.7v4.0h-3.7zM401.3,73.2h3.7v4.0h-3.7zM409.9,73.2h3.7v4.0h-3.7zM418.5,73.2h3.7v4.0h-3.7zM427.1,73.2h3.7v4.0h-3.7zM435.7,73.2h3.7v4.0h-3.7zM451.7,73.2h3.7v4.0h-3.7zM460.3,73.2h3.7v4.0h-3.7zM464,73.2h3.7v4.0h-3.7zM467.7,73.2h3.7v4.0h-3.7zM476.3,73.2h3.7v4.0h-3.7zM484.9,73.2h3.7v4.0h-3.7zM493.5,73.2h3.7v4.0h-3.7zM497.2,73.2h3.7v4.0h-3.7zM505.8,73.2h3.7v4.0h-3.7zM509.5,73.2h3.7v4.0h-3.7zM518.1,73.2h3.7v4.0h-3.7zM521.8,73.2h3.7v4.0h-3.7zM530.4,73.2h3.7v4.0h-3.7zM534.1,73.2h3.7v4.0h-3.7zM537.8,73.2h3.7v4.0h-3.7zM546.4,73.2h3.7v4.0h-3.7zM550.1,73.2h3.7v4.0h-3.7zM558.7,73.2h3.7v4.0h-3.7zM567.3,73.2h3.7v4.0h-3.7zM575.9,73.2h3.7v4.0h-3.7zM584.5,73.2h3.7v4.0h-3.7zM593.1,73.2h3.7v4.0h-3.7zM601.7,73.2h3.7v4.0h-3.7zM610.3,73.2h3.7v4.0h-3.7zM618.9,73.2h3.7v4.0h-3.7zM67,80.7h3.7v4.0h-3.7zM70.7,80.7h3.7v4.0h-3.7zM74.4,80.7h3.7v4.0h-3.7zM83,80.7h3.7v4.0h-3.7zM86.7,80.7h3.7v4.0h-3.7zM95.3,80.7h3.7v4.0h-3.7zM99,80.7h3.7v4.0h-3.7zM102.7,80.7h3.7v4.0h-3.7zM106.4,80.7h3.7v4.0h-3.7zM115,80.7h3.7v4.0h-3.7zM118.7,80.7h3.7v4.0h-3.7zM127.3,80.7h3.7v4.0h-3.7zM131,80.7h3.7v4.0h-3.7zM139.6,80.7h3.7v4.0h-3.7zM143.3,80.7h3.7v4.0h-3.7zM151.9,80.7h3.7v4.0h-3.7zM160.5,80.7h3.7v4.0h-3.7zM169.1,80.7h3.7v4.0h-3.7zM177.7,80.7h3.7v4.0h-3.7zM186.3,80.7h3.7v4.0h-3.7zM194.9,80.7h3.7v4.0h-3.7zM203.5,80.7h3.7v4.0h-3.7zM212.1,80.7h3.7v4.0h-3.7zM220.7,80.7h3.7v4.0h-3.7zM229.3,80.7h3.7v4.0h-3.7zM237.9,80.7h3.7v4.0h-3.7zM246.5,80.7h3.7v4.0h-3.7zM255.1,80.7h3.7v4.0h-3.7zM263.7,80.7h3.7v4.0h-3.7zM272.3,80.7h3.7v4.0h-3.7zM280.9,80.7h3.7v4.0h-3.7zM289.5,80.7h3.7v4.0h-3.7zM298.1,80.7h3.7v4.0h-3.7zM306.7,80.7h3.7v4.0h-3.7zM315.3,80.7h3.7v4.0h-3.7zM323.9,80.7h3.7v4.0h-3.7zM332.5,80.7h3.7v4.0h-3.7zM341.1,80.7h3.7v4.0h-3.7zM349.7,80.7h3.7v4.0h-3.7zM358.3,80.7h3.7v4.0h-3.7zM366.9,80.7h3.7v4.0h-3.7zM375.5,80.7h3.7v4.0h-3.7zM384.1,80.7h3.7v4.0h-3.7zM392.7,80.7h3.7v4.0h-3.7zM401.3,80.7h3.7v4.0h-3.7zM409.9,80.7h3.7v4.0h-3.7zM418.5,80.7h3.7v4.0h-3.7zM427.1,80.7h3.7v4.0h-3.7zM476.3,80.7h3.7v4.0h-3.7zM484.9,80.7h3.7v4.0h-3.7zM493.5,80.7h3.7v4.0h-3.7zM497.2,80.7h3.7v4.0h-3.7zM505.8,80.7h3.7v4.0h-3.7zM509.5,80.7h3.7v4.0h-3.7zM518.1,80.7h3.7v4.0h-3.7zM521.8,80.7h3.7v4.0h-3.7zM530.4,80.7h3.7v4.0h-3.7zM534.1,80.7h3.7v4.0h-3.7zM537.8,80.7h3.7v4.0h-3.7zM546.4,80.7h3.7v4.0h-3.7zM550.1,80.7h3.7v4.0h-3.7zM558.7,80.7h3.7v4.0h-3.7zM567.3,80.7h3.7v4.0h-3.7zM575.9,80.7h3.7v4.0h-3.7zM584.5,80.7h3.7v4.0h-3.7zM593.1,80.7h3.7v4.0h-3.7zM601.7,80.7h3.7v4.0h-3.7zM610.3,80.7h3.7v4.0h-3.7zM618.9,80.7h3.7v4.0h-3.7zM99,87.3h3.7v4.0h-3.7zM102.7,87.3h3.7v4.0h-3.7zM118.7,87.3h3.7v4.0h-3.7zM131,87.3h3.7v4.0h-3.7zM139.6,87.3h3.7v4.0h-3.7zM151.9,87.3h3.7v4.0h-3.7zM186.3,87.3h3.7v4.0h-3.7zM194.9,87.3h3.7v4.0h-3.7zM212.1,87.3h3.7v4.0h-3.7zM220.7,87.3h3.7v4.0h-3.7zM237.9,87.3h3.7v4.0h-3.7zM246.5,87.3h3.7v4.0h-3.7zM263.7,87.3h3.7v4.0h-3.7zM272.3,87.3h3.7v4.0h-3.7zM280.9,87.3h3.7v4.0h-3.7zM306.7,87.3h3.7v4.0h-3.7zM315.3,87.3h3.7v4.0h-3.7zM332.5,87.3h3.7v4.0h-3.7zM384.1,87.3h3.7v4.0h-3.7zM392.7,87.3h3.7v4.0h-3.7zM401.3,87.3h3.7v4.0h-3.7zM409.9,87.3h3.7v4.0h-3.7zM418.5,87.3h3.7v4.0h-3.7zM435.7,87.3h3.7v4.0h-3.7zM439.4,87.3h3.7v4.0h-3.7zM443.1,87.3h3.7v4.0h-3.7zM460.3,87.3h3.7v4.0h-3.7zM464,87.3h3.7v4.0h-3.7zM467.7,87.3h3.7v4.0h-3.7zM497.2,87.3h3.7v4.0h-3.7zM518.1,87.3h3.7v4.0h-3.7zM521.8,87.3h3.7v4.0h-3.7zM530.4,87.3h3.7v4.0h-3.7zM534.1,87.3h3.7v4.0h-3.7zM537.8,87.3h3.7v4.0h-3.7zM546.4,87.3h3.7v4.0h-3.7zM550.1,87.3h3.7v4.0h-3.7zM567.3,87.3h3.7v4.0h-3.7zM575.9,87.3h3.7v4.0h-3.7zM593.1,87.3h3.7v4.0h-3.7zM99,93.9h3.7v4.0h-3.7zM102.7,93.9h3.7v4.0h-3.7zM118.7,93.9h3.7v4.0h-3.7zM131,93.9h3.7v4.0h-3.7zM139.6,93.9h3.7v4.0h-3.7zM151.9,93.9h3.7v4.0h-3.7zM186.3,93.9h3.7v4.0h-3.7zM194.9,93.9h3.7v4.0h-3.7zM212.1,93.9h3.7v4.0h-3.7zM220.7,93.9h3.7v4.0h-3.7zM237.9,93.9h3.7v4.0h-3.7zM246.5,93.9h3.7v4.0h-3.7zM263.7,93.9h3.7v4.0h-3.7zM272.3,93.9h3.7v4.0h-3.7zM280.9,93.9h3.7v4.0h-3.7zM306.7,93.9h3.7v4.0h-3.7zM315.3,93.9h3.7v4.0h-3.7zM332.5,93.9h3.7v4.0h-3.7zM384.1,93.9h3.7v4.0h-3.7zM392.7,93.9h3.7v4.0h-3.7zM401.3,93.9h3.7v4.0h-3.7zM409.9,93.9h3.7v4.0h-3.7zM418.5,93.9h3.7v4.0h-3.7zM435.7,93.9h3.7v4.0h-3.7zM439.4,93.9h3.7v4.0h-3.7zM443.1,93.9h3.7v4.0h-3.7zM460.3,93.9h3.7v4.0h-3.7zM464,93.9h3.7v4.0h-3.7zM467.7,93.9h3.7v4.0h-3.7zM497.2,93.9h3.7v4.0h-3.7zM518.1,93.9h3.7v4.0h-3.7zM521.8,93.9h3.7v4.0h-3.7zM530.4,93.9h3.7v4.0h-3.7zM534.1,93.9h3.7v4.0h-3.7zM537.8,93.9h3.7v4.0h-3.7zM546.4,93.9h3.7v4.0h-3.7zM550.1,93.9h3.7v4.0h-3.7zM567.3,93.9h3.7v4.0h-3.7zM575.9,93.9h3.7v4.0h-3.7zM593.1,93.9h3.7v4.0h-3.7zM51,100.45h3.7v4.0h-3.7zM54.7,100.45h3.7v4.0h-3.7zM58.4,100.45h3.7v4.0h-3.7zM67,100.45h3.7v4.0h-3.7zM70.7,100.45h3.7v4.0h-3.7zM74.4,100.45h3.7v4.0h-3.7zM83,100.45h3.7v4.0h-3.7zM86.7,100.45h3.7v4.0h-3.7zM95.3,100.45h3.7v4.0h-3.7zM99,100.45h3.7v4.0h-3.7zM102.7,100.45h3.7v4.0h-3.7zM106.4,100.45h3.7v4.0h-3.7zM115,100.45h3.7v4.0h-3.7zM118.7,100.45h3.7v4.0h-3.7zM127.3,100.45h3.7v4.0h-3.7zM131,100.45h3.7v4.0h-3.7zM139.6,100.45h3.7v4.0h-3.7zM143.3,100.45h3.7v4.0h-3.7zM151.9,100.45h3.7v4.0h-3.7zM160.5,100.45h3.7v4.0h-3.7zM169.1,100.45h3.7v4.0h-3.7zM177.7,100.45h3.7v4.0h-3.7zM186.3,100.45h3.7v4.0h-3.7zM194.9,100.45h3.7v4.0h-3.7zM203.5,100.45h3.7v4.0h-3.7zM212.1,100.45h3.7v4.0h-3.7zM220.7,100.45h3.7v4.0h-3.7zM229.3,100.45h3.7v4.0h-3.7zM237.9,100.45h3.7v4.0h-3.7zM246.5,100.45h3.7v4.0h-3.7zM255.1,100.45h3.7v4.0h-3.7zM263.7,100.45h3.7v4.0h-3.7zM272.3,100.45h3.7v4.0h-3.7zM280.9,100.45h3.7v4.0h-3.7zM289.5,100.45h3.7v4.0h-3.7zM298.1,100.45h3.7v4.0h-3.7zM306.7,100.45h3.7v4.0h-3.7zM323.9,100.45h3.7v4.0h-3.7zM332.5,100.45h3.7v4.0h-3.7zM341.1,100.45h3.7v4.0h-3.7zM349.7,100.45h3.7v4.0h-3.7zM358.3,100.45h3.7v4.0h-3.7zM366.9,100.45h3.7v4.0h-3.7zM375.5,100.45h3.7v4.0h-3.7zM384.1,100.45h3.7v4.0h-3.7zM392.7,100.45h3.7v4.0h-3.7zM418.5,100.45h3.7v4.0h-3.7zM427.1,100.45h3.7v4.0h-3.7zM435.7,100.45h3.7v4.0h-3.7zM439.4,100.45h3.7v4.0h-3.7zM443.1,100.45h3.7v4.0h-3.7zM451.7,100.45h3.7v4.0h-3.7zM460.3,100.45h3.7v4.0h-3.7zM464,100.45h3.7v4.0h-3.7zM467.7,100.45h3.7v4.0h-3.7zM476.3,100.45h3.7v4.0h-3.7zM484.9,100.45h3.7v4.0h-3.7zM493.5,100.45h3.7v4.0h-3.7zM497.2,100.45h3.7v4.0h-3.7zM505.8,100.45h3.7v4.0h-3.7zM509.5,100.45h3.7v4.0h-3.7zM518.1,100.45h3.7v4.0h-3.7zM521.8,100.45h3.7v4.0h-3.7zM530.4,100.45h3.7v4.0h-3.7zM534.1,100.45h3.7v4.0h-3.7zM546.4,100.45h3.7v4.0h-3.7zM550.1,100.45h3.7v4.0h-3.7zM558.7,100.45h3.7v4.0h-3.7zM567.3,100.45h3.7v4.0h-3.7zM575.9,100.45h3.7v4.0h-3.7zM584.5,100.45h3.7v4.0h-3.7zM593.1,100.45h3.7v4.0h-3.7zM601.7,100.45h3.7v4.0h-3.7zM610.3,100.45h3.7v4.0h-3.7zM618.9,100.45h3.7v4.0h-3.7zM51,107h3.7v4.0h-3.7zM54.7,107h3.7v4.0h-3.7zM58.4,107h3.7v4.0h-3.7zM67,107h3.7v4.0h-3.7zM70.7,107h3.7v4.0h-3.7zM74.4,107h3.7v4.0h-3.7zM83,107h3.7v4.0h-3.7zM86.7,107h3.7v4.0h-3.7zM95.3,107h3.7v4.0h-3.7zM99,107h3.7v4.0h-3.7zM102.7,107h3.7v4.0h-3.7zM106.4,107h3.7v4.0h-3.7zM139.6,107h3.7v4.0h-3.7zM143.3,107h3.7v4.0h-3.7zM151.9,107h3.7v4.0h-3.7zM160.5,107h3.7v4.0h-3.7zM169.1,107h3.7v4.0h-3.7zM177.7,107h3.7v4.0h-3.7zM186.3,107h3.7v4.0h-3.7zM194.9,107h3.7v4.0h-3.7zM203.5,107h3.7v4.0h-3.7zM212.1,107h3.7v4.0h-3.7zM220.7,107h3.7v4.0h-3.7zM229.3,107h3.7v4.0h-3.7zM237.9,107h3.7v4.0h-3.7zM246.5,107h3.7v4.0h-3.7zM255.1,107h3.7v4.0h-3.7zM263.7,107h3.7v4.0h-3.7zM272.3,107h3.7v4.0h-3.7zM280.9,107h3.7v4.0h-3.7zM289.5,107h3.7v4.0h-3.7zM298.1,107h3.7v4.0h-3.7zM306.7,107h3.7v4.0h-3.7zM315.3,107h3.7v4.0h-3.7zM323.9,107h3.7v4.0h-3.7zM332.5,107h3.7v4.0h-3.7zM341.1,107h3.7v4.0h-3.7zM349.7,107h3.7v4.0h-3.7zM358.3,107h3.7v4.0h-3.7zM366.9,107h3.7v4.0h-3.7zM375.5,107h3.7v4.0h-3.7zM384.1,107h3.7v4.0h-3.7zM392.7,107h3.7v4.0h-3.7zM401.3,107h3.7v4.0h-3.7zM409.9,107h3.7v4.0h-3.7zM418.5,107h3.7v4.0h-3.7zM427.1,107h3.7v4.0h-3.7zM435.7,107h3.7v4.0h-3.7zM439.4,107h3.7v4.0h-3.7zM443.1,107h3.7v4.0h-3.7zM451.7,107h3.7v4.0h-3.7zM460.3,107h3.7v4.0h-3.7zM476.3,107h3.7v4.0h-3.7zM484.9,107h3.7v4.0h-3.7zM493.5,107h3.7v4.0h-3.7zM497.2,107h3.7v4.0h-3.7zM505.8,107h3.7v4.0h-3.7zM509.5,107h3.7v4.0h-3.7zM518.1,107h3.7v4.0h-3.7zM521.8,107h3.7v4.0h-3.7zM530.4,107h3.7v4.0h-3.7zM534.1,107h3.7v4.0h-3.7zM537.8,107h3.7v4.0h-3.7zM546.4,107h3.7v4.0h-3.7zM550.1,107h3.7v4.0h-3.7zM558.7,107h3.7v4.0h-3.7zM567.3,107h3.7v4.0h-3.7zM575.9,107h3.7v4.0h-3.7zM584.5,107h3.7v4.0h-3.7zM593.1,107h3.7v4.0h-3.7zM601.7,107h3.7v4.0h-3.7zM610.3,107h3.7v4.0h-3.7zM618.9,107h3.7v4.0h-3.7zM51,113.55h3.7v4.0h-3.7zM54.7,113.55h3.7v4.0h-3.7zM58.4,113.55h3.7v4.0h-3.7zM102.7,113.55h3.7v4.0h-3.7zM118.7,113.55h3.7v4.0h-3.7zM131,113.55h3.7v4.0h-3.7zM139.6,113.55h3.7v4.0h-3.7zM160.5,113.55h3.7v4.0h-3.7zM169.1,113.55h3.7v4.0h-3.7zM186.3,113.55h3.7v4.0h-3.7zM194.9,113.55h3.7v4.0h-3.7zM203.5,113.55h3.7v4.0h-3.7zM212.1,113.55h3.7v4.0h-3.7zM220.7,113.55h3.7v4.0h-3.7zM237.9,113.55h3.7v4.0h-3.7zM246.5,113.55h3.7v4.0h-3.7zM255.1,113.55h3.7v4.0h-3.7zM263.7,113.55h3.7v4.0h-3.7zM272.3,113.55h3.7v4.0h-3.7zM280.9,113.55h3.7v4.0h-3.7zM289.5,113.55h3.7v4.0h-3.7zM298.1,113.55h3.7v4.0h-3.7zM315.3,113.55h3.7v4.0h-3.7zM323.9,113.55h3.7v4.0h-3.7zM332.5,113.55h3.7v4.0h-3.7zM341.1,113.55h3.7v4.0h-3.7zM349.7,113.55h3.7v4.0h-3.7zM358.3,113.55h3.7v4.0h-3.7zM366.9,113.55h3.7v4.0h-3.7zM384.1,113.55h3.7v4.0h-3.7zM401.3,113.55h3.7v4.0h-3.7zM409.9,113.55h3.7v4.0h-3.7zM418.5,113.55h3.7v4.0h-3.7zM435.7,113.55h3.7v4.0h-3.7zM439.4,113.55h3.7v4.0h-3.7zM443.1,113.55h3.7v4.0h-3.7zM451.7,113.55h3.7v4.0h-3.7zM460.3,113.55h3.7v4.0h-3.7zM464,113.55h3.7v4.0h-3.7zM467.7,113.55h3.7v4.0h-3.7zM476.3,113.55h3.7v4.0h-3.7zM505.8,113.55h3.7v4.0h-3.7zM509.5,113.55h3.7v4.0h-3.7zM518.1,113.55h3.7v4.0h-3.7zM521.8,113.55h3.7v4.0h-3.7zM546.4,113.55h3.7v4.0h-3.7zM550.1,113.55h3.7v4.0h-3.7zM558.7,113.55h3.7v4.0h-3.7zM584.5,113.55h3.7v4.0h-3.7zM593.1,113.55h3.7v4.0h-3.7zM618.9,113.55h3.7v4.0h-3.7zM51,120.1h3.7v4.0h-3.7zM54.7,120.1h3.7v4.0h-3.7zM58.4,120.1h3.7v4.0h-3.7zM67,120.1h3.7v4.0h-3.7zM70.7,120.1h3.7v4.0h-3.7zM74.4,120.1h3.7v4.0h-3.7zM83,120.1h3.7v4.0h-3.7zM86.7,120.1h3.7v4.0h-3.7zM95.3,120.1h3.7v4.0h-3.7zM99,120.1h3.7v4.0h-3.7zM102.7,120.1h3.7v4.0h-3.7zM106.4,120.1h3.7v4.0h-3.7zM115,120.1h3.7v4.0h-3.7zM118.7,120.1h3.7v4.0h-3.7zM127.3,120.1h3.7v4.0h-3.7zM131,120.1h3.7v4.0h-3.7zM139.6,120.1h3.7v4.0h-3.7zM143.3,120.1h3.7v4.0h-3.7zM151.9,120.1h3.7v4.0h-3.7zM160.5,120.1h3.7v4.0h-3.7zM169.1,120.1h3.7v4.0h-3.7zM177.7,120.1h3.7v4.0h-3.7zM186.3,120.1h3.7v4.0h-3.7zM194.9,120.1h3.7v4.0h-3.7zM203.5,120.1h3.7v4.0h-3.7zM212.1,120.1h3.7v4.0h-3.7zM220.7,120.1h3.7v4.0h-3.7zM229.3,120.1h3.7v4.0h-3.7zM237.9,120.1h3.7v4.0h-3.7zM246.5,120.1h3.7v4.0h-3.7zM255.1,120.1h3.7v4.0h-3.7zM263.7,120.1h3.7v4.0h-3.7zM272.3,120.1h3.7v4.0h-3.7zM280.9,120.1h3.7v4.0h-3.7zM289.5,120.1h3.7v4.0h-3.7zM298.1,120.1h3.7v4.0h-3.7zM306.7,120.1h3.7v4.0h-3.7zM315.3,120.1h3.7v4.0h-3.7zM323.9,120.1h3.7v4.0h-3.7zM332.5,120.1h3.7v4.0h-3.7zM341.1,120.1h3.7v4.0h-3.7zM349.7,120.1h3.7v4.0h-3.7zM358.3,120.1h3.7v4.0h-3.7zM366.9,120.1h3.7v4.0h-3.7zM375.5,120.1h3.7v4.0h-3.7zM384.1,120.1h3.7v4.0h-3.7zM418.5,120.1h3.7v4.0h-3.7zM427.1,120.1h3.7v4.0h-3.7zM435.7,120.1h3.7v4.0h-3.7zM439.4,120.1h3.7v4.0h-3.7zM443.1,120.1h3.7v4.0h-3.7zM451.7,120.1h3.7v4.0h-3.7zM460.3,120.1h3.7v4.0h-3.7zM464,120.1h3.7v4.0h-3.7zM467.7,120.1h3.7v4.0h-3.7zM476.3,120.1h3.7v4.0h-3.7zM484.9,120.1h3.7v4.0h-3.7zM493.5,120.1h3.7v4.0h-3.7zM497.2,120.1h3.7v4.0h-3.7zM505.8,120.1h3.7v4.0h-3.7zM509.5,120.1h3.7v4.0h-3.7zM518.1,120.1h3.7v4.0h-3.7zM521.8,120.1h3.7v4.0h-3.7zM546.4,120.1h3.7v4.0h-3.7zM550.1,120.1h3.7v4.0h-3.7zM558.7,120.1h3.7v4.0h-3.7zM567.3,120.1h3.7v4.0h-3.7zM575.9,120.1h3.7v4.0h-3.7zM584.5,120.1h3.7v4.0h-3.7zM593.1,120.1h3.7v4.0h-3.7zM601.7,120.1h3.7v4.0h-3.7zM610.3,120.1h3.7v4.0h-3.7zM618.9,120.1h3.7v4.0h-3.7zM51,126.65h3.7v4.0h-3.7zM54.7,126.65h3.7v4.0h-3.7zM58.4,126.65h3.7v4.0h-3.7zM74.4,126.65h3.7v4.0h-3.7zM83,126.65h3.7v4.0h-3.7zM86.7,126.65h3.7v4.0h-3.7zM102.7,126.65h3.7v4.0h-3.7zM118.7,126.65h3.7v4.0h-3.7zM131,126.65h3.7v4.0h-3.7zM139.6,126.65h3.7v4.0h-3.7zM151.9,126.65h3.7v4.0h-3.7zM160.5,126.65h3.7v4.0h-3.7zM169.1,126.65h3.7v4.0h-3.7zM177.7,126.65h3.7v4.0h-3.7zM186.3,126.65h3.7v4.0h-3.7zM194.9,126.65h3.7v4.0h-3.7zM203.5,126.65h3.7v4.0h-3.7zM212.1,126.65h3.7v4.0h-3.7zM220.7,126.65h3.7v4.0h-3.7zM229.3,126.65h3.7v4.0h-3.7zM237.9,126.65h3.7v4.0h-3.7zM246.5,126.65h3.7v4.0h-3.7zM255.1,126.65h3.7v4.0h-3.7zM263.7,126.65h3.7v4.0h-3.7zM272.3,126.65h3.7v4.0h-3.7zM280.9,126.65h3.7v4.0h-3.7zM289.5,126.65h3.7v4.0h-3.7zM298.1,126.65h3.7v4.0h-3.7zM306.7,126.65h3.7v4.0h-3.7zM315.3,126.65h3.7v4.0h-3.7zM323.9,126.65h3.7v4.0h-3.7zM332.5,126.65h3.7v4.0h-3.7zM341.1,126.65h3.7v4.0h-3.7zM349.7,126.65h3.7v4.0h-3.7zM358.3,126.65h3.7v4.0h-3.7zM366.9,126.65h3.7v4.0h-3.7zM375.5,126.65h3.7v4.0h-3.7zM384.1,126.65h3.7v4.0h-3.7zM392.7,126.65h3.7v4.0h-3.7zM401.3,126.65h3.7v4.0h-3.7zM409.9,126.65h3.7v4.0h-3.7zM418.5,126.65h3.7v4.0h-3.7zM427.1,126.65h3.7v4.0h-3.7zM435.7,126.65h3.7v4.0h-3.7zM439.4,126.65h3.7v4.0h-3.7zM443.1,126.65h3.7v4.0h-3.7zM451.7,126.65h3.7v4.0h-3.7zM460.3,126.65h3.7v4.0h-3.7zM464,126.65h3.7v4.0h-3.7zM467.7,126.65h3.7v4.0h-3.7zM476.3,126.65h3.7v4.0h-3.7zM505.8,126.65h3.7v4.0h-3.7zM509.5,126.65h3.7v4.0h-3.7zM518.1,126.65h3.7v4.0h-3.7zM521.8,126.65h3.7v4.0h-3.7zM546.4,126.65h3.7v4.0h-3.7zM550.1,126.65h3.7v4.0h-3.7zM558.7,126.65h3.7v4.0h-3.7zM567.3,126.65h3.7v4.0h-3.7zM575.9,126.65h3.7v4.0h-3.7zM584.5,126.65h3.7v4.0h-3.7zM593.1,126.65h3.7v4.0h-3.7zM601.7,126.65h3.7v4.0h-3.7zM610.3,126.65h3.7v4.0h-3.7zM618.9,126.65h3.7v4.0h-3.7zM51,133.2h3.7v4.0h-3.7zM54.7,133.2h3.7v4.0h-3.7zM58.4,133.2h3.7v4.0h-3.7zM67,133.2h3.7v4.0h-3.7zM70.7,133.2h3.7v4.0h-3.7zM74.4,133.2h3.7v4.0h-3.7zM83,133.2h3.7v4.0h-3.7zM86.7,133.2h3.7v4.0h-3.7zM95.3,133.2h3.7v4.0h-3.7zM99,133.2h3.7v4.0h-3.7zM102.7,133.2h3.7v4.0h-3.7zM106.4,133.2h3.7v4.0h-3.7zM115,133.2h3.7v4.0h-3.7zM118.7,133.2h3.7v4.0h-3.7zM127.3,133.2h3.7v4.0h-3.7zM131,133.2h3.7v4.0h-3.7zM139.6,133.2h3.7v4.0h-3.7zM143.3,133.2h3.7v4.0h-3.7zM151.9,133.2h3.7v4.0h-3.7zM160.5,133.2h3.7v4.0h-3.7zM169.1,133.2h3.7v4.0h-3.7zM177.7,133.2h3.7v4.0h-3.7zM186.3,133.2h3.7v4.0h-3.7zM194.9,133.2h3.7v4.0h-3.7zM203.5,133.2h3.7v4.0h-3.7zM212.1,133.2h3.7v4.0h-3.7zM220.7,133.2h3.7v4.0h-3.7zM229.3,133.2h3.7v4.0h-3.7zM237.9,133.2h3.7v4.0h-3.7zM246.5,133.2h3.7v4.0h-3.7zM255.1,133.2h3.7v4.0h-3.7zM263.7,133.2h3.7v4.0h-3.7zM272.3,133.2h3.7v4.0h-3.7zM280.9,133.2h3.7v4.0h-3.7zM289.5,133.2h3.7v4.0h-3.7zM298.1,133.2h3.7v4.0h-3.7zM306.7,133.2h3.7v4.0h-3.7zM315.3,133.2h3.7v4.0h-3.7zM323.9,133.2h3.7v4.0h-3.7zM332.5,133.2h3.7v4.0h-3.7zM341.1,133.2h3.7v4.0h-3.7zM349.7,133.2h3.7v4.0h-3.7zM358.3,133.2h3.7v4.0h-3.7zM375.5,133.2h3.7v4.0h-3.7zM384.1,133.2h3.7v4.0h-3.7zM392.7,133.2h3.7v4.0h-3.7zM409.9,133.2h3.7v4.0h-3.7zM418.5,133.2h3.7v4.0h-3.7zM427.1,133.2h3.7v4.0h-3.7zM435.7,133.2h3.7v4.0h-3.7zM439.4,133.2h3.7v4.0h-3.7zM443.1,133.2h3.7v4.0h-3.7zM460.3,133.2h3.7v4.0h-3.7zM464,133.2h3.7v4.0h-3.7zM467.7,133.2h3.7v4.0h-3.7zM476.3,133.2h3.7v4.0h-3.7zM484.9,133.2h3.7v4.0h-3.7zM493.5,133.2h3.7v4.0h-3.7zM497.2,133.2h3.7v4.0h-3.7zM505.8,133.2h3.7v4.0h-3.7zM509.5,133.2h3.7v4.0h-3.7zM518.1,133.2h3.7v4.0h-3.7zM521.8,133.2h3.7v4.0h-3.7zM530.4,133.2h3.7v4.0h-3.7zM534.1,133.2h3.7v4.0h-3.7zM546.4,133.2h3.7v4.0h-3.7zM550.1,133.2h3.7v4.0h-3.7zM558.7,133.2h3.7v4.0h-3.7zM567.3,133.2h3.7v4.0h-3.7zM575.9,133.2h3.7v4.0h-3.7zM584.5,133.2h3.7v4.0h-3.7zM593.1,133.2h3.7v4.0h-3.7zM601.7,133.2h3.7v4.0h-3.7zM610.3,133.2h3.7v4.0h-3.7zM618.9,133.2h3.7v4.0h-3.7zM51,139.75h3.7v4.0h-3.7zM54.7,139.75h3.7v4.0h-3.7zM58.4,139.75h3.7v4.0h-3.7zM74.4,139.75h3.7v4.0h-3.7zM83,139.75h3.7v4.0h-3.7zM95.3,139.75h3.7v4.0h-3.7zM99,139.75h3.7v4.0h-3.7zM102.7,139.75h3.7v4.0h-3.7zM118.7,139.75h3.7v4.0h-3.7zM131,139.75h3.7v4.0h-3.7zM139.6,139.75h3.7v4.0h-3.7zM151.9,139.75h3.7v4.0h-3.7zM160.5,139.75h3.7v4.0h-3.7zM169.1,139.75h3.7v4.0h-3.7zM177.7,139.75h3.7v4.0h-3.7zM186.3,139.75h3.7v4.0h-3.7zM194.9,139.75h3.7v4.0h-3.7zM203.5,139.75h3.7v4.0h-3.7zM212.1,139.75h3.7v4.0h-3.7zM220.7,139.75h3.7v4.0h-3.7zM229.3,139.75h3.7v4.0h-3.7zM237.9,139.75h3.7v4.0h-3.7zM246.5,139.75h3.7v4.0h-3.7zM255.1,139.75h3.7v4.0h-3.7zM263.7,139.75h3.7v4.0h-3.7zM272.3,139.75h3.7v4.0h-3.7zM280.9,139.75h3.7v4.0h-3.7zM289.5,139.75h3.7v4.0h-3.7zM298.1,139.75h3.7v4.0h-3.7zM306.7,139.75h3.7v4.0h-3.7zM315.3,139.75h3.7v4.0h-3.7zM323.9,139.75h3.7v4.0h-3.7zM332.5,139.75h3.7v4.0h-3.7zM341.1,139.75h3.7v4.0h-3.7zM349.7,139.75h3.7v4.0h-3.7zM358.3,139.75h3.7v4.0h-3.7zM366.9,139.75h3.7v4.0h-3.7zM375.5,139.75h3.7v4.0h-3.7zM384.1,139.75h3.7v4.0h-3.7zM392.7,139.75h3.7v4.0h-3.7zM401.3,139.75h3.7v4.0h-3.7zM409.9,139.75h3.7v4.0h-3.7zM418.5,139.75h3.7v4.0h-3.7zM427.1,139.75h3.7v4.0h-3.7zM435.7,139.75h3.7v4.0h-3.7zM439.4,139.75h3.7v4.0h-3.7zM443.1,139.75h3.7v4.0h-3.7zM451.7,139.75h3.7v4.0h-3.7zM460.3,139.75h3.7v4.0h-3.7zM464,139.75h3.7v4.0h-3.7zM467.7,139.75h3.7v4.0h-3.7zM476.3,139.75h3.7v4.0h-3.7zM497.2,139.75h3.7v4.0h-3.7zM505.8,139.75h3.7v4.0h-3.7zM509.5,139.75h3.7v4.0h-3.7zM518.1,139.75h3.7v4.0h-3.7zM521.8,139.75h3.7v4.0h-3.7zM537.8,139.75h3.7v4.0h-3.7zM546.4,139.75h3.7v4.0h-3.7zM550.1,139.75h3.7v4.0h-3.7zM558.7,139.75h3.7v4.0h-3.7zM567.3,139.75h3.7v4.0h-3.7zM575.9,139.75h3.7v4.0h-3.7zM584.5,139.75h3.7v4.0h-3.7zM593.1,139.75h3.7v4.0h-3.7zM601.7,139.75h3.7v4.0h-3.7zM610.3,139.75h3.7v4.0h-3.7zM618.9,139.75h3.7v4.0h-3.7zM70.7,146.3h3.7v4.0h-3.7zM74.4,146.3h3.7v4.0h-3.7zM83,146.3h3.7v4.0h-3.7zM95.3,146.3h3.7v4.0h-3.7zM99,146.3h3.7v4.0h-3.7zM102.7,146.3h3.7v4.0h-3.7zM118.7,146.3h3.7v4.0h-3.7zM131,146.3h3.7v4.0h-3.7zM139.6,146.3h3.7v4.0h-3.7zM151.9,146.3h3.7v4.0h-3.7zM160.5,146.3h3.7v4.0h-3.7zM169.1,146.3h3.7v4.0h-3.7zM177.7,146.3h3.7v4.0h-3.7zM186.3,146.3h3.7v4.0h-3.7zM194.9,146.3h3.7v4.0h-3.7zM203.5,146.3h3.7v4.0h-3.7zM212.1,146.3h3.7v4.0h-3.7zM220.7,146.3h3.7v4.0h-3.7zM229.3,146.3h3.7v4.0h-3.7zM237.9,146.3h3.7v4.0h-3.7zM246.5,146.3h3.7v4.0h-3.7zM255.1,146.3h3.7v4.0h-3.7zM263.7,146.3h3.7v4.0h-3.7zM280.9,146.3h3.7v4.0h-3.7zM289.5,146.3h3.7v4.0h-3.7zM298.1,146.3h3.7v4.0h-3.7zM306.7,146.3h3.7v4.0h-3.7zM315.3,146.3h3.7v4.0h-3.7zM323.9,146.3h3.7v4.0h-3.7zM332.5,146.3h3.7v4.0h-3.7zM341.1,146.3h3.7v4.0h-3.7zM349.7,146.3h3.7v4.0h-3.7zM358.3,146.3h3.7v4.0h-3.7zM366.9,146.3h3.7v4.0h-3.7zM375.5,146.3h3.7v4.0h-3.7zM384.1,146.3h3.7v4.0h-3.7zM392.7,146.3h3.7v4.0h-3.7zM401.3,146.3h3.7v4.0h-3.7zM409.9,146.3h3.7v4.0h-3.7zM418.5,146.3h3.7v4.0h-3.7zM427.1,146.3h3.7v4.0h-3.7zM435.7,146.3h3.7v4.0h-3.7zM443.1,146.3h3.7v4.0h-3.7zM451.7,146.3h3.7v4.0h-3.7zM460.3,146.3h3.7v4.0h-3.7zM464,146.3h3.7v4.0h-3.7zM467.7,146.3h3.7v4.0h-3.7zM476.3,146.3h3.7v4.0h-3.7zM484.9,146.3h3.7v4.0h-3.7zM493.5,146.3h3.7v4.0h-3.7zM497.2,146.3h3.7v4.0h-3.7zM505.8,146.3h3.7v4.0h-3.7zM509.5,146.3h3.7v4.0h-3.7zM518.1,146.3h3.7v4.0h-3.7zM521.8,146.3h3.7v4.0h-3.7zM537.8,146.3h3.7v4.0h-3.7zM546.4,146.3h3.7v4.0h-3.7zM550.1,146.3h3.7v4.0h-3.7zM558.7,146.3h3.7v4.0h-3.7zM567.3,146.3h3.7v4.0h-3.7zM575.9,146.3h3.7v4.0h-3.7zM584.5,146.3h3.7v4.0h-3.7zM593.1,146.3h3.7v4.0h-3.7zM601.7,146.3h3.7v4.0h-3.7zM610.3,146.3h3.7v4.0h-3.7zM618.9,146.3h3.7v4.0h-3.7zM51,152.85h3.7v4.0h-3.7zM54.7,152.85h3.7v4.0h-3.7zM58.4,152.85h3.7v4.0h-3.7zM67,152.85h3.7v4.0h-3.7zM70.7,152.85h3.7v4.0h-3.7zM74.4,152.85h3.7v4.0h-3.7zM83,152.85h3.7v4.0h-3.7zM86.7,152.85h3.7v4.0h-3.7zM95.3,152.85h3.7v4.0h-3.7zM99,152.85h3.7v4.0h-3.7zM102.7,152.85h3.7v4.0h-3.7zM106.4,152.85h3.7v4.0h-3.7zM115,152.85h3.7v4.0h-3.7zM118.7,152.85h3.7v4.0h-3.7zM127.3,152.85h3.7v4.0h-3.7zM131,152.85h3.7v4.0h-3.7zM139.6,152.85h3.7v4.0h-3.7zM143.3,152.85h3.7v4.0h-3.7zM151.9,152.85h3.7v4.0h-3.7zM160.5,152.85h3.7v4.0h-3.7zM169.1,152.85h3.7v4.0h-3.7zM177.7,152.85h3.7v4.0h-3.7zM186.3,152.85h3.7v4.0h-3.7zM194.9,152.85h3.7v4.0h-3.7zM203.5,152.85h3.7v4.0h-3.7zM212.1,152.85h3.7v4.0h-3.7zM220.7,152.85h3.7v4.0h-3.7zM229.3,152.85h3.7v4.0h-3.7zM237.9,152.85h3.7v4.0h-3.7zM246.5,152.85h3.7v4.0h-3.7zM255.1,152.85h3.7v4.0h-3.7zM263.7,152.85h3.7v4.0h-3.7zM272.3,152.85h3.7v4.0h-3.7zM280.9,152.85h3.7v4.0h-3.7zM289.5,152.85h3.7v4.0h-3.7zM298.1,152.85h3.7v4.0h-3.7zM306.7,152.85h3.7v4.0h-3.7zM315.3,152.85h3.7v4.0h-3.7zM323.9,152.85h3.7v4.0h-3.7zM332.5,152.85h3.7v4.0h-3.7zM341.1,152.85h3.7v4.0h-3.7zM349.7,152.85h3.7v4.0h-3.7zM358.3,152.85h3.7v4.0h-3.7zM366.9,152.85h3.7v4.0h-3.7zM375.5,152.85h3.7v4.0h-3.7zM384.1,152.85h3.7v4.0h-3.7zM392.7,152.85h3.7v4.0h-3.7zM401.3,152.85h3.7v4.0h-3.7zM409.9,152.85h3.7v4.0h-3.7zM418.5,152.85h3.7v4.0h-3.7zM427.1,152.85h3.7v4.0h-3.7zM435.7,152.85h3.7v4.0h-3.7zM439.4,152.85h3.7v4.0h-3.7zM443.1,152.85h3.7v4.0h-3.7zM451.7,152.85h3.7v4.0h-3.7zM460.3,152.85h3.7v4.0h-3.7zM464,152.85h3.7v4.0h-3.7zM467.7,152.85h3.7v4.0h-3.7zM476.3,152.85h3.7v4.0h-3.7zM484.9,152.85h3.7v4.0h-3.7zM493.5,152.85h3.7v4.0h-3.7zM497.2,152.85h3.7v4.0h-3.7zM505.8,152.85h3.7v4.0h-3.7zM509.5,152.85h3.7v4.0h-3.7zM518.1,152.85h3.7v4.0h-3.7zM521.8,152.85h3.7v4.0h-3.7zM546.4,152.85h3.7v4.0h-3.7zM550.1,152.85h3.7v4.0h-3.7zM558.7,152.85h3.7v4.0h-3.7zM567.3,152.85h3.7v4.0h-3.7zM575.9,152.85h3.7v4.0h-3.7zM584.5,152.85h3.7v4.0h-3.7zM593.1,152.85h3.7v4.0h-3.7zM601.7,152.85h3.7v4.0h-3.7zM610.3,152.85h3.7v4.0h-3.7zM618.9,152.85h3.7v4.0h-3.7zM51,162.6h3.7v4.0h-3.7zM54.7,162.6h3.7v4.0h-3.7zM58.4,162.6h3.7v4.0h-3.7zM67,162.6h3.7v4.0h-3.7zM70.7,162.6h3.7v4.0h-3.7zM74.4,162.6h3.7v4.0h-3.7zM83,162.6h3.7v4.0h-3.7zM86.7,162.6h3.7v4.0h-3.7zM95.3,162.6h3.7v4.0h-3.7zM99,162.6h3.7v4.0h-3.7zM102.7,162.6h3.7v4.0h-3.7zM106.4,162.6h3.7v4.0h-3.7zM115,162.6h3.7v4.0h-3.7zM118.7,162.6h3.7v4.0h-3.7zM127.3,162.6h3.7v4.0h-3.7zM131,162.6h3.7v4.0h-3.7zM139.6,162.6h3.7v4.0h-3.7zM143.3,162.6h3.7v4.0h-3.7zM151.9,162.6h3.7v4.0h-3.7zM160.5,162.6h3.7v4.0h-3.7zM169.1,162.6h3.7v4.0h-3.7zM177.7,162.6h3.7v4.0h-3.7zM186.3,162.6h3.7v4.0h-3.7zM194.9,162.6h3.7v4.0h-3.7zM203.5,162.6h3.7v4.0h-3.7zM212.1,162.6h3.7v4.0h-3.7zM220.7,162.6h3.7v4.0h-3.7zM229.3,162.6h3.7v4.0h-3.7zM237.9,162.6h3.7v4.0h-3.7zM246.5,162.6h3.7v4.0h-3.7zM255.1,162.6h3.7v4.0h-3.7zM263.7,162.6h3.7v4.0h-3.7zM272.3,162.6h3.7v4.0h-3.7zM280.9,162.6h3.7v4.0h-3.7zM289.5,162.6h3.7v4.0h-3.7zM298.1,162.6h3.7v4.0h-3.7zM306.7,162.6h3.7v4.0h-3.7zM315.3,162.6h3.7v4.0h-3.7zM323.9,162.6h3.7v4.0h-3.7zM332.5,162.6h3.7v4.0h-3.7zM341.1,162.6h3.7v4.0h-3.7zM349.7,162.6h3.7v4.0h-3.7zM358.3,162.6h3.7v4.0h-3.7zM366.9,162.6h3.7v4.0h-3.7zM375.5,162.6h3.7v4.0h-3.7zM384.1,162.6h3.7v4.0h-3.7zM392.7,162.6h3.7v4.0h-3.7zM401.3,162.6h3.7v4.0h-3.7zM418.5,162.6h3.7v4.0h-3.7zM427.1,162.6h3.7v4.0h-3.7zM435.7,162.6h3.7v4.0h-3.7zM439.4,162.6h3.7v4.0h-3.7zM443.1,162.6h3.7v4.0h-3.7zM451.7,162.6h3.7v4.0h-3.7zM460.3,162.6h3.7v4.0h-3.7zM464,162.6h3.7v4.0h-3.7zM467.7,162.6h3.7v4.0h-3.7zM476.3,162.6h3.7v4.0h-3.7zM484.9,162.6h3.7v4.0h-3.7zM493.5,162.6h3.7v4.0h-3.7zM497.2,162.6h3.7v4.0h-3.7zM505.8,162.6h3.7v4.0h-3.7zM509.5,162.6h3.7v4.0h-3.7zM518.1,162.6h3.7v4.0h-3.7zM521.8,162.6h3.7v4.0h-3.7zM530.4,162.6h3.7v4.0h-3.7zM534.1,162.6h3.7v4.0h-3.7zM537.8,162.6h3.7v4.0h-3.7zM546.4,162.6h3.7v4.0h-3.7zM550.1,162.6h3.7v4.0h-3.7zM558.7,162.6h3.7v4.0h-3.7zM567.3,162.6h3.7v4.0h-3.7zM575.9,162.6h3.7v4.0h-3.7zM584.5,162.6h3.7v4.0h-3.7zM593.1,162.6h3.7v4.0h-3.7zM601.7,162.6h3.7v4.0h-3.7zM610.3,162.6h3.7v4.0h-3.7zM51,168.2h3.7v4.0h-3.7zM54.7,168.2h3.7v4.0h-3.7zM58.4,168.2h3.7v4.0h-3.7zM67,168.2h3.7v4.0h-3.7zM70.7,168.2h3.7v4.0h-3.7zM74.4,168.2h3.7v4.0h-3.7zM83,168.2h3.7v4.0h-3.7zM86.7,168.2h3.7v4.0h-3.7zM95.3,168.2h3.7v4.0h-3.7zM99,168.2h3.7v4.0h-3.7zM102.7,168.2h3.7v4.0h-3.7zM106.4,168.2h3.7v4.0h-3.7zM115,168.2h3.7v4.0h-3.7zM118.7,168.2h3.7v4.0h-3.7zM127.3,168.2h3.7v4.0h-3.7zM131,168.2h3.7v4.0h-3.7zM139.6,168.2h3.7v4.0h-3.7zM143.3,168.2h3.7v4.0h-3.7zM151.9,168.2h3.7v4.0h-3.7zM160.5,168.2h3.7v4.0h-3.7zM169.1,168.2h3.7v4.0h-3.7zM177.7,168.2h3.7v4.0h-3.7zM186.3,168.2h3.7v4.0h-3.7zM194.9,168.2h3.7v4.0h-3.7zM203.5,168.2h3.7v4.0h-3.7zM212.1,168.2h3.7v4.0h-3.7zM220.7,168.2h3.7v4.0h-3.7zM229.3,168.2h3.7v4.0h-3.7zM237.9,168.2h3.7v4.0h-3.7zM246.5,168.2h3.7v4.0h-3.7zM255.1,168.2h3.7v4.0h-3.7zM263.7,168.2h3.7v4.0h-3.7zM272.3,168.2h3.7v4.0h-3.7zM280.9,168.2h3.7v4.0h-3.7zM289.5,168.2h3.7v4.0h-3.7zM298.1,168.2h3.7v4.0h-3.7zM306.7,168.2h3.7v4.0h-3.7zM315.3,168.2h3.7v4.0h-3.7zM323.9,168.2h3.7v4.0h-3.7zM332.5,168.2h3.7v4.0h-3.7zM341.1,168.2h3.7v4.0h-3.7zM349.7,168.2h3.7v4.0h-3.7zM358.3,168.2h3.7v4.0h-3.7zM366.9,168.2h3.7v4.0h-3.7zM375.5,168.2h3.7v4.0h-3.7zM384.1,168.2h3.7v4.0h-3.7zM392.7,168.2h3.7v4.0h-3.7zM401.3,168.2h3.7v4.0h-3.7zM409.9,168.2h3.7v4.0h-3.7zM418.5,168.2h3.7v4.0h-3.7zM427.1,168.2h3.7v4.0h-3.7zM435.7,168.2h3.7v4.0h-3.7zM439.4,168.2h3.7v4.0h-3.7zM443.1,168.2h3.7v4.0h-3.7zM451.7,168.2h3.7v4.0h-3.7zM460.3,168.2h3.7v4.0h-3.7zM464,168.2h3.7v4.0h-3.7zM467.7,168.2h3.7v4.0h-3.7zM476.3,168.2h3.7v4.0h-3.7zM484.9,168.2h3.7v4.0h-3.7zM493.5,168.2h3.7v4.0h-3.7zM497.2,168.2h3.7v4.0h-3.7zM505.8,168.2h3.7v4.0h-3.7zM509.5,168.2h3.7v4.0h-3.7zM518.1,168.2h3.7v4.0h-3.7zM521.8,168.2h3.7v4.0h-3.7zM530.4,168.2h3.7v4.0h-3.7zM534.1,168.2h3.7v4.0h-3.7zM537.8,168.2h3.7v4.0h-3.7zM546.4,168.2h3.7v4.0h-3.7zM558.7,168.2h3.7v4.0h-3.7zM567.3,168.2h3.7v4.0h-3.7zM575.9,168.2h3.7v4.0h-3.7zM584.5,168.2h3.7v4.0h-3.7zM593.1,168.2h3.7v4.0h-3.7zM601.7,168.2h3.7v4.0h-3.7zM610.3,168.2h3.7v4.0h-3.7zM618.9,168.2h3.7v4.0h-3.7zM51,173.8h3.7v4.0h-3.7zM54.7,173.8h3.7v4.0h-3.7zM58.4,173.8h3.7v4.0h-3.7zM67,173.8h3.7v4.0h-3.7zM70.7,173.8h3.7v4.0h-3.7zM74.4,173.8h3.7v4.0h-3.7zM83,173.8h3.7v4.0h-3.7zM86.7,173.8h3.7v4.0h-3.7zM95.3,173.8h3.7v4.0h-3.7zM99,173.8h3.7v4.0h-3.7zM102.7,173.8h3.7v4.0h-3.7zM106.4,173.8h3.7v4.0h-3.7zM115,173.8h3.7v4.0h-3.7zM118.7,173.8h3.7v4.0h-3.7zM127.3,173.8h3.7v4.0h-3.7zM131,173.8h3.7v4.0h-3.7zM139.6,173.8h3.7v4.0h-3.7zM143.3,173.8h3.7v4.0h-3.7zM151.9,173.8h3.7v4.0h-3.7zM160.5,173.8h3.7v4.0h-3.7zM169.1,173.8h3.7v4.0h-3.7zM177.7,173.8h3.7v4.0h-3.7zM186.3,173.8h3.7v4.0h-3.7zM194.9,173.8h3.7v4.0h-3.7zM203.5,173.8h3.7v4.0h-3.7zM212.1,173.8h3.7v4.0h-3.7zM220.7,173.8h3.7v4.0h-3.7zM229.3,173.8h3.7v4.0h-3.7zM237.9,173.8h3.7v4.0h-3.7zM246.5,173.8h3.7v4.0h-3.7zM255.1,173.8h3.7v4.0h-3.7zM263.7,173.8h3.7v4.0h-3.7zM272.3,173.8h3.7v4.0h-3.7zM280.9,173.8h3.7v4.0h-3.7zM289.5,173.8h3.7v4.0h-3.7zM298.1,173.8h3.7v4.0h-3.7zM306.7,173.8h3.7v4.0h-3.7zM315.3,173.8h3.7v4.0h-3.7zM323.9,173.8h3.7v4.0h-3.7zM332.5,173.8h3.7v4.0h-3.7zM341.1,173.8h3.7v4.0h-3.7zM349.7,173.8h3.7v4.0h-3.7zM358.3,173.8h3.7v4.0h-3.7zM366.9,173.8h3.7v4.0h-3.7zM375.5,173.8h3.7v4.0h-3.7zM384.1,173.8h3.7v4.0h-3.7zM392.7,173.8h3.7v4.0h-3.7zM401.3,173.8h3.7v4.0h-3.7zM409.9,173.8h3.7v4.0h-3.7zM418.5,173.8h3.7v4.0h-3.7zM427.1,173.8h3.7v4.0h-3.7zM435.7,173.8h3.7v4.0h-3.7zM439.4,173.8h3.7v4.0h-3.7zM443.1,173.8h3.7v4.0h-3.7zM451.7,173.8h3.7v4.0h-3.7zM460.3,173.8h3.7v4.0h-3.7zM464,173.8h3.7v4.0h-3.7zM467.7,173.8h3.7v4.0h-3.7zM476.3,173.8h3.7v4.0h-3.7zM484.9,173.8h3.7v4.0h-3.7zM493.5,173.8h3.7v4.0h-3.7zM497.2,173.8h3.7v4.0h-3.7zM505.8,173.8h3.7v4.0h-3.7zM509.5,173.8h3.7v4.0h-3.7zM518.1,173.8h3.7v4.0h-3.7zM521.8,173.8h3.7v4.0h-3.7zM530.4,173.8h3.7v4.0h-3.7zM534.1,173.8h3.7v4.0h-3.7zM537.8,173.8h3.7v4.0h-3.7zM546.4,173.8h3.7v4.0h-3.7zM550.1,173.8h3.7v4.0h-3.7zM558.7,173.8h3.7v4.0h-3.7zM567.3,173.8h3.7v4.0h-3.7zM575.9,173.8h3.7v4.0h-3.7zM584.5,173.8h3.7v4.0h-3.7zM593.1,173.8h3.7v4.0h-3.7zM610.3,173.8h3.7v4.0h-3.7zM618.9,173.8h3.7v4.0h-3.7z"/>
<path fill="#8496b8" stroke="#5d687c" d="M51,14.3h3.7v4.0h-3.7zM54.7,14.3h3.7v4.0h-3.7zM58.4,14.3h3.7v4.0h-3.7zM67,14.3h3.7v4.0h-3.7zM70.7,14.3h3.7v4.0h-3.7zM74.4,14.3h3.7v4.0h-3.7zM83,14.3h3.7v4.0h-3.7zM95.3,14.3h3.7v4.0h-3.7zM99,14.3h3.7v4.0h-3.7zM115,14.3h3.7v4.0h-3.7zM118.7,14.3h3.7v4.0h-3.7zM127.3,14.3h3.7v4.0h-3.7zM131,14.3h3.7v4.0h-3.7zM139.6,14.3h3.7v4.0h-3.7zM151.9,14.3h3.7v4.0h-3.7zM160.5,14.3h3.7v4.0h-3.7zM169.1,14.3h3.7v4.0h-3.7zM177.7,14.3h3.7v4.0h-3.7zM186.3,14.3h3.7v4.0h-3.7zM194.9,14.3h3.7v4.0h-3.7zM203.5,14.3h3.7v4.0h-3.7zM212.1,14.3h3.7v4.0h-3.7zM220.7,14.3h3.7v4.0h-3.7zM229.3,14.3h3.7v4.0h-3.7zM237.9,14.3h3.7v4.0h-3.7zM246.5,14.3h3.7v4.0h-3.7zM255.1,14.3h3.7v4.0h-3.7zM263.7,14.3h3.7v4.0h-3.7zM272.3,14.3h3.7v4.0h-3.7zM280.9,14.3h3.7v4.0h-3.7zM289.5,14.3h3.7v4.0h-3.7zM298.1,14.3h3.7v4.0h-3.7zM306.7,14.3h3.7v4.0h-3.7zM315.3,14.3h3.7v4.0h-3.7zM323.9,14.3h3.7v4.0h-3.7zM332.5,14.3h3.7v4.0h-3.7zM341.1,14.3h3.7v4.0h-3.7zM349.7,14.3h3.7v4.0h-3.7zM358.3,14.3h3.7v4.0h-3.7zM366.9,14.3h3.7v4.0h-3.7zM375.5,14.3h3.7v4.0h-3.7zM384.1,14.3h3.7v4.0h-3.7zM392.7,14.3h3.7v4.0h-3.7zM401.3,14.3h3.7v4.0h-3.7zM409.9,14.3h3.7v4.0h-3.7zM418.5,14.3h3.7v4.0h-3.7zM427.1,14.3h3.7v4.0h-3.7zM435.7,14.3h3.7v4.0h-3.7zM439.4,14.3h3.7v4.0h-3.7zM443.1,14.3h3.7v4.0h-3.7zM451.7,14.3h3.7v4.0h-3.7zM460.3,14.3h3.7v4.0h-3.7zM476.3,14.3h3.7v4.0h-3.7zM484.9,14.3h3.7v4.0h-3.7zM493.5,14.3h3.7v4.0h-3.7zM497.2,14.3h3.7v4.0h-3.7zM505.8,14.3h3.7v4.0h-3.7zM518.1,14.3h3.7v4.0h-3.7zM530.4,14.3h3.7v4.0h-3.7zM534.1,14.3h3.7v4.0h-3.7zM546.4,14.3h3.7v4.0h-3.7zM558.7,14.3h3.7v4.0h-3.7zM567.3,14.3h3.7v4.0h-3.7zM575.9,14.3h3.7v4.0h-3.7zM584.5,14.3h3.7v4.0h-3.7zM593.1,14.3h3.7v4.0h-3.7zM601.7,14.3h3.7v4.0h-3.7zM610.3,14.3h3.7v4.0h-3.7zM618.9,14.3h3.7v4.0h-3.7z"/>
<path fill="#c7601a" stroke="#844820" d="M86.7,14.3h3.7v4.0h-3.7zM102.7,14.3h3.7v4.0h-3.7zM106.4,14.3h3.7v4.0h-3.7zM143.3,14.3h3.7v4.0h-3.7zM464,14.3h3.7v4.0h-3.7zM467.7,14.3h3.7v4.0h-3.7zM509.5,14.3h3.7v4.0h-3.7zM521.8,14.3h3.7v4.0h-3.7zM537.8,14.3h3.7v4.0h-3.7zM550.1,14.3h3.7v4.0h-3.7z"/>
<path fill="#4aab4a" stroke="#3c743c" d="M51,21.4h3.7v4.0h-3.7zM54.7,21.4h3.7v4.0h-3.7zM58.4,21.4h3.7v4.0h-3.7zM151.9,21.4h3.7v4.0h-3.7zM160.5,21.4h3.7v4.0h-3.7zM255.1,21.4h3.7v4.0h-3.7zM263.7,21.4h3.7v4.0h-3.7zM272.3,21.4h3.7v4.0h-3.7zM280.9,21.4h3.7v4.0h-3.7zM435.7,21.4h3.7v4.0h-3.7zM439.4,21.4h3.7v4.0h-3.7zM443.1,21.4h3.7v4.0h-3.7zM451.7,21.4h3.7v4.0h-3.7zM460.3,21.4h3.7v4.0h-3.7zM464,21.4h3.7v4.0h-3.7zM467.7,21.4h3.7v4.0h-3.7zM584.5,21.4h3.7v4.0h-3.7zM67,26.58h3.7v4.0h-3.7zM70.7,26.58h3.7v4.0h-3.7zM74.4,26.58h3.7v4.0h-3.7zM115,26.58h3.7v4.0h-3.7zM118.7,26.58h3.7v4.0h-3.7zM169.1,26.58h3.7v4.0h-3.7zM203.5,26.58h3.7v4.0h-3.7zM220.7,26.58h3.7v4.0h-3.7zM289.5,26.58h3.7v4.0h-3.7zM298.1,26.58h3.7v4.0h-3.7zM332.5,26.58h3.7v4.0h-3.7zM341.1,26.58h3.7v4.0h-3.7zM358.3,26.58h3.7v4.0h-3.7zM384.1,26.58h3.7v4.0h-3.7zM593.1,26.58h3.7v4.0h-3.7zM51,31.76h3.7v4.0h-3.7zM54.7,31.76h3.7v4.0h-3.7zM58.4,31.76h3.7v4.0h-3.7zM280.9,31.76h3.7v4.0h-3.7zM384.1,31.76h3.7v4.0h-3.7zM435.7,31.76h3.7v4.0h-3.7zM439.4,31.76h3.7v4.0h-3.7zM443.1,31.76h3.7v4.0h-3.7zM460.3,31.76h3.7v4.0h-3.7zM464,31.76h3.7v4.0h-3.7zM467.7,31.76h3.7v4.0h-3.7zM567.3,31.76h3.7v4.0h-3.7zM575.9,31.76h3.7v4.0h-3.7zM439.4,36.94h3.7v4.0h-3.7zM341.1,42.12h3.7v4.0h-3.7zM476.3,42.12h3.7v4.0h-3.7zM493.5,47.3h3.7v4.0h-3.7zM558.7,47.3h3.7v4.0h-3.7zM246.5,52.48h3.7v4.0h-3.7zM280.9,52.48h3.7v4.0h-3.7zM289.5,52.48h3.7v4.0h-3.7zM51,57.66h3.7v4.0h-3.7zM54.7,57.66h3.7v4.0h-3.7zM58.4,57.66h3.7v4.0h-3.7zM263.7,57.66h3.7v4.0h-3.7zM67,62.84h3.7v4.0h-3.7zM70.7,62.84h3.7v4.0h-3.7zM160.5,62.84h3.7v4.0h-3.7zM177.7,62.84h3.7v4.0h-3.7zM186.3,62.84h3.7v4.0h-3.7zM220.7,62.84h3.7v4.0h-3.7zM255.1,62.84h3.7v4.0h-3.7zM272.3,62.84h3.7v4.0h-3.7zM280.9,62.84h3.7v4.0h-3.7zM384.1,62.84h3.7v4.0h-3.7zM418.5,62.84h3.7v4.0h-3.7zM451.7,62.84h3.7v4.0h-3.7zM584.5,62.84h3.7v4.0h-3.7zM610.3,62.84h3.7v4.0h-3.7zM246.5,68.02h3.7v4.0h-3.7zM255.1,68.02h3.7v4.0h-3.7zM272.3,68.02h3.7v4.0h-3.7zM280.9,68.02h3.7v4.0h-3.7zM584.5,68.02h3.7v4.0h-3.7z"/>
<path fill="#3b7fba" stroke="#335a7d" d="M83,26.58h3.7v4.0h-3.7zM86.7,26.58h3.7v4.0h-3.7zM151.9,26.58h3.7v4.0h-3.7zM177.7,26.58h3.7v4.0h-3.7zM186.3,26.58h3.7v4.0h-3.7zM194.9,26.58h3.7v4.0h-3.7zM212.1,26.58h3.7v4.0h-3.7zM229.3,26.58h3.7v4.0h-3.7zM323.9,26.58h3.7v4.0h-3.7zM349.7,26.58h3.7v4.0h-3.7zM366.9,26.58h3.7v4.0h-3.7zM518.1,26.58h3.7v4.0h-3.7zM521.8,26.58h3.7v4.0h-3.7zM186.3,52.48h3.7v4.0h-3.7zM194.9,52.48h3.7v4.0h-3.7zM332.5,52.48h3.7v4.0h-3.7zM505.8,52.48h3.7v4.0h-3.7zM509.5,52.48h3.7v4.0h-3.7zM518.1,52.48h3.7v4.0h-3.7zM521.8,52.48h3.7v4.0h-3.7zM194.9,62.84h3.7v4.0h-3.7zM392.7,62.84h3.7v4.0h-3.7zM530.4,62.84h3.7v4.0h-3.7zM534.1,62.84h3.7v4.0h-3.7zM537.8,62.84h3.7v4.0h-3.7zM451.7,68.02h3.7v4.0h-3.7z"/>
<path fill="#ff8205" stroke="#a55c14" d="M95.3,26.58h3.7v4.0h-3.7zM99,26.58h3.7v4.0h-3.7zM102.7,26.58h3.7v4.0h-3.7zM106.4,26.58h3.7v4.0h-3.7zM375.5,26.58h3.7v4.0h-3.7zM530.4,26.58h3.7v4.0h-3.7zM534.1,26.58h3.7v4.0h-3.7zM537.8,26.58h3.7v4.0h-3.7zM83,36.94h3.7v4.0h-3.7zM86.7,36.94h3.7v4.0h-3.7zM484.9,42.12h3.7v4.0h-3.7z"/>
<path fill="#9a49ac" stroke="#6a3b75" d="M127.3,26.58h3.7v4.0h-3.7zM131,26.58h3.7v4.0h-3.7zM392.7,26.58h3.7v4.0h-3.7zM83,52.48h3.7v4.0h-3.7zM86.7,52.48h3.7v4.0h-3.7zM493.5,52.48h3.7v4.0h-3.7zM497.2,52.48h3.7v4.0h-3.7zM51,73.2h3.7v4.0h-3.7zM54.7,73.2h3.7v4.0h-3.7zM58.4,73.2h3.7v4.0h-3.7zM439.4,73.2h3.7v4.0h-3.7zM443.1,73.2h3.7v4.0h-3.7z"/>
<path fill="#87ceeb" stroke="#5f8899" d="M51,80.7h3.7v4.0h-3.7zM54.7,80.7h3.7v4.0h-3.7zM58.4,80.7h3.7v4.0h-3.7zM435.7,80.7h3.7v4.0h-3.7zM439.4,80.7h3.7v4.0h-3.7zM443.1,80.7h3.7v4.0h-3.7zM451.7,80.7h3.7v4.0h-3.7zM460.3,80.7h3.7v4.0h-3.7zM464,80.7h3.7v4.0h-3.7zM467.7,80.7h3.7v4.0h-3.7zM51,87.3h3.7v4.0h-3.7zM54.7,87.3h3.7v4.0h-3.7zM58.4,87.3h3.7v4.0h-3.7zM70.7,87.3h3.7v4.0h-3.7zM74.4,87.3h3.7v4.0h-3.7zM83,87.3h3.7v4.0h-3.7zM86.7,87.3h3.7v4.0h-3.7zM95.3,87.3h3.7v4.0h-3.7zM106.4,87.3h3.7v4.0h-3.7zM451.7,87.3h3.7v4.0h-3.7zM476.3,87.3h3.7v4.0h-3.7zM484.9,87.3h3.7v4.0h-3.7zM493.5,87.3h3.7v4.0h-3.7zM505.8,87.3h3.7v4.0h-3.7zM509.5,87.3h3.7v4.0h-3.7zM51,93.9h3.7v4.0h-3.7zM54.7,93.9h3.7v4.0h-3.7zM58.4,93.9h3.7v4.0h-3.7zM70.7,93.9h3.7v4.0h-3.7zM74.4,93.9h3.7v4.0h-3.7zM83,93.9h3.7v4.0h-3.7zM86.7,93.9h3.7v4.0h-3.7zM95.3,93.9h3.7v4.0h-3.7zM106.4,93.9h3.7v4.0h-3.7zM451.7,93.9h3.7v4.0h-3.7zM476.3,93.9h3.7v4.0h-3.7zM484.9,93.9h3.7v4.0h-3.7zM493.5,93.9h3.7v4.0h-3.7zM505.8,93.9h3.7v4.0h-3.7zM509.5,93.9h3.7v4.0h-3.7zM67,139.75h3.7v4.0h-3.7zM70.7,139.75h3.7v4.0h-3.7zM86.7,139.75h3.7v4.0h-3.7zM106.4,139.75h3.7v4.0h-3.7zM115,139.75h3.7v4.0h-3.7zM127.3,139.75h3.7v4.0h-3.7zM143.3,139.75h3.7v4.0h-3.7zM484.9,139.75h3.7v4.0h-3.7zM493.5,139.75h3.7v4.0h-3.7zM530.4,139.75h3.7v4.0h-3.7zM534.1,139.75h3.7v4.0h-3.7zM51,146.3h3.7v4.0h-3.7zM54.7,146.3h3.7v4.0h-3.7zM58.4,146.3h3.7v4.0h-3.7zM67,146.3h3.7v4.0h-3.7zM86.7,146.3h3.7v4.0h-3.7zM106.4,146.3h3.7v4.0h-3.7zM115,146.3h3.7v4.0h-3.7zM127.3,146.3h3.7v4.0h-3.7zM143.3,146.3h3.7v4.0h-3.7zM439.4,146.3h3.7v4.0h-3.7zM530.4,146.3h3.7v4.0h-3.7zM534.1,146.3h3.7v4.0h-3.7zM530.4,152.85h3.7v4.0h-3.7zM534.1,152.85h3.7v4.0h-3.7zM537.8,152.85h3.7v4.0h-3.7z"/>
<path fill="#0000ff" stroke="#1111a5" d="M67,87.3h3.7v4.0h-3.7zM115,87.3h3.7v4.0h-3.7zM127.3,87.3h3.7v4.0h-3.7zM143.3,87.3h3.7v4.0h-3.7zM160.5,87.3h3.7v4.0h-3.7zM169.1,87.3h3.7v4.0h-3.7zM177.7,87.3h3.7v4.0h-3.7zM203.5,87.3h3.7v4.0h-3.7zM229.3,87.3h3.7v4.0h-3.7zM255.1,87.3h3.7v4.0h-3.7zM289.5,87.3h3.7v4.0h-3.7zM298.1,87.3h3.7v4.0h-3.7zM323.9,87.3h3.7v4.0h-3.7zM341.1,87.3h3.7v4.0h-3.7zM349.7,87.3h3.7v4.0h-3.7zM358.3,87.3h3.7v4.0h-3.7zM366.9,87.3h3.7v4.0h-3.7zM375.5,87.3h3.7v4.0h-3.7zM427.1,87.3h3.7v4.0h-3.7zM558.7,87.3h3.7v4.0h-3.7zM584.5,87.3h3.7v4.0h-3.7zM601.7,87.3h3.7v4.0h-3.7zM610.3,87.3h3.7v4.0h-3.7zM618.9,87.3h3.7v4.0h-3.7zM67,93.9h3.7v4.0h-3.7zM115,93.9h3.7v4.0h-3.7zM127.3,93.9h3.7v4.0h-3.7zM143.3,93.9h3.7v4.0h-3.7zM160.5,93.9h3.7v4.0h-3.7zM169.1,93.9h3.7v4.0h-3.7zM177.7,93.9h3.7v4.0h-3.7zM203.5,93.9h3.7v4.0h-3.7zM229.3,93.9h3.7v4.0h-3.7zM255.1,93.9h3.7v4.0h-3.7zM289.5,93.9h3.7v4.0h-3.7zM298.1,93.9h3.7v4.0h-3.7zM323.9,93.9h3.7v4.0h-3.7zM341.1,93.9h3.7v4.0h-3.7zM349.7,93.9h3.7v4.0h-3.7zM358.3,93.9h3.7v4.0h-3.7zM366.9,93.9h3.7v4.0h-3.7zM375.5,93.9h3.7v4.0h-3.7zM427.1,93.9h3.7v4.0h-3.7zM558.7,93.9h3.7v4.0h-3.7zM584.5,93.9h3.7v4.0h-3.7zM601.7,93.9h3.7v4.0h-3.7zM610.3,93.9h3.7v4.0h-3.7zM618.9,93.9h3.7v4.0h-3.7zM392.7,120.1h3.7v4.0h-3.7zM401.3,120.1h3.7v4.0h-3.7zM409.9,120.1h3.7v4.0h-3.7zM366.9,133.2h3.7v4.0h-3.7zM401.3,133.2h3.7v4.0h-3.7zM272.3,146.3h3.7v4.0h-3.7z"/>
<path fill="#ff0000" stroke="#a51111" d="M315.3,100.45h3.7v4.0h-3.7zM401.3,100.45h3.7v4.0h-3.7zM409.9,100.45h3.7v4.0h-3.7zM537.8,100.45h3.7v4.0h-3.7zM115,107h3.7v4.0h-3.7zM127.3,107h3.7v4.0h-3.7zM131,107h3.7v4.0h-3.7zM67,113.55h3.7v4.0h-3.7zM143.3,113.55h3.7v4.0h-3.7zM151.9,113.55h3.7v4.0h-3.7zM177.7,113.55h3.7v4.0h-3.7zM229.3,113.55h3.7v4.0h-3.7zM306.7,113.55h3.7v4.0h-3.7zM375.5,113.55h3.7v4.0h-3.7zM392.7,113.55h3.7v4.0h-3.7zM427.1,113.55h3.7v4.0h-3.7zM530.4,113.55h3.7v4.0h-3.7zM567.3,113.55h3.7v4.0h-3.7zM575.9,113.55h3.7v4.0h-3.7zM601.7,113.55h3.7v4.0h-3.7zM610.3,113.55h3.7v4.0h-3.7zM530.4,120.1h3.7v4.0h-3.7zM534.1,120.1h3.7v4.0h-3.7zM537.8,120.1h3.7v4.0h-3.7zM537.8,133.2h3.7v4.0h-3.7z"/>
<path fill="#ffb4c3" stroke="#a57982" d="M118.7,107h3.7v4.0h-3.7zM464,107h3.7v4.0h-3.7zM467.7,107h3.7v4.0h-3.7zM70.7,113.55h3.7v4.0h-3.7zM74.4,113.55h3.7v4.0h-3.7zM83,113.55h3.7v4.0h-3.7zM86.7,113.55h3.7v4.0h-3.7zM95.3,113.55h3.7v4.0h-3.7zM99,113.55h3.7v4.0h-3.7zM106.4,113.55h3.7v4.0h-3.7zM115,113.55h3.7v4.0h-3.7zM127.3,113.55h3.7v4.0h-3.7zM484.9,113.55h3.7v4.0h-3.7zM493.5,113.55h3.7v4.0h-3.7zM497.2,113.55h3.7v4.0h-3.7zM534.1,113.55h3.7v4.0h-3.7zM537.8,113.55h3.7v4.0h-3.7zM67,126.65h3.7v4.0h-3.7zM70.7,126.65h3.7v4.0h-3.7zM95.3,126.65h3.7v4.0h-3.7zM99,126.65h3.7v4.0h-3.7zM106.4,126.65h3.7v4.0h-3.7zM115,126.65h3.7v4.0h-3.7zM127.3,126.65h3.7v4.0h-3.7zM143.3,126.65h3.7v4.0h-3.7zM484.9,126.65h3.7v4.0h-3.7zM493.5,126.65h3.7v4.0h-3.7zM497.2,126.65h3.7v4.0h-3.7zM530.4,126.65h3.7v4.0h-3.7zM534.1,126.65h3.7v4.0h-3.7zM537.8,126.65h3.7v4.0h-3.7zM451.7,133.2h3.7v4.0h-3.7z"/>
<path fill="#5e2d8f" stroke="#472b64" d="M409.9,162.6h3.7v4.0h-3.7zM618.9,162.6h3.7v4.0h-3.7zM550.1,168.2h3.7v4.0h-3.7zM601.7,173.8h3.7v4.0h-3.7z"/>
</g>
<g font-size="4.15" text-anchor="end" fill="#1a1a1a">
<text x="48.0" y="17.75">Pre/Post</text>
<text x="48.0" y="24.85">IDH1</text>
<text x="48.0" y="30.03">PTEN</text>
<text x="48.0" y="35.21">PIK3CA</text>
<text x="48.0" y="40.39">MTOR</text>
<text x="48.0" y="45.57">BRAF</text>
<text x="48.0" y="50.75">PTPN11</text>
<text x="48.0" y="55.93">NF1</text>
<text x="48.0" y="61.11">KRAS</text>
<text x="48.0" y="66.29">TP53</text>
<text x="48.0" y="71.47">ATRX</text>
<text x="48.0" y="76.65">CIC</text>
<text x="48.0" y="84.15">1p/19q co-deletion</text>
<text x="48.0" y="90.75">CDKN2A</text>
<text x="48.0" y="97.35">CDKN2B</text>
<text x="48.0" y="103.90">MDM2</text>
<text x="48.0" y="110.45">MDM4</text>
<text x="48.0" y="117.00">EGFR</text>
<text x="48.0" y="123.55">CDK4</text>
<text x="48.0" y="130.10">CDK6</text>
<text x="48.0" y="136.65">PDGFRA</text>
<text x="48.0" y="143.20">PTEN</text>
<text x="48.0" y="149.75">RB1</text>
<text x="48.0" y="156.30">TP53</text>
<text x="48.0" y="166.05">FGFR3–TACC3</text>
<text x="48.0" y="171.65">FGFR3–TACC1</text>
<text x="48.0" y="177.25">EGFR–SEPT14</text>
</g>
<g font-size="3.85" text-anchor="end" fill="#2a2a2a">
<text transform="translate(54.15,181.2) rotate(-90)">13_1</text>
<text transform="translate(57.85,181.2) rotate(-90)">13_2</text>
<text transform="translate(61.55,181.2) rotate(-90)">13_3</text>
<text transform="translate(70.15,181.2) rotate(-90)">21_1</text>
<text transform="translate(73.85,181.2) rotate(-90)">21_2</text>
<text transform="translate(77.55,181.2) rotate(-90)">21_3</text>
<text transform="translate(86.15,181.2) rotate(-90)">20_1</text>
<text transform="translate(89.85,181.2) rotate(-90)">20_3</text>
<text transform="translate(98.45,181.2) rotate(-90)">53_1</text>
<text transform="translate(102.15,181.2) rotate(-90)">53_2</text>
<text transform="translate(105.85,181.2) rotate(-90)">53_5</text>
<text transform="translate(109.55,181.2) rotate(-90)">53_6</text>
<text transform="translate(118.15,181.2) rotate(-90)">46_1</text>
<text transform="translate(121.85,181.2) rotate(-90)">46_3</text>
<text transform="translate(130.45,181.2) rotate(-90)">60_1</text>
<text transform="translate(134.15,181.2) rotate(-90)">60_2</text>
<text transform="translate(142.75,181.2) rotate(-90)">36_1</text>
<text transform="translate(146.45,181.2) rotate(-90)">36_2</text>
<text transform="translate(155.05,181.2) rotate(-90)">108</text>
<text transform="translate(163.65,181.2) rotate(-90)">4467</text>
<text transform="translate(172.25,181.2) rotate(-90)">105</text>
<text transform="translate(180.85,181.2) rotate(-90)">109</text>
<text transform="translate(189.45,181.2) rotate(-90)">110</text>
<text transform="translate(198.05,181.2) rotate(-90)">4376</text>
<text transform="translate(206.65,181.2) rotate(-90)">4391</text>
<text transform="translate(215.25,181.2) rotate(-90)">5178</text>
<text transform="translate(223.85,181.2) rotate(-90)">4313</text>
<text transform="translate(232.45,181.2) rotate(-90)">4200</text>
<text transform="translate(241.05,181.2) rotate(-90)">4317</text>
<text transform="translate(249.65,181.2) rotate(-90)">4497</text>
<text transform="translate(258.25,181.2) rotate(-90)">NU2</text>
<text transform="translate(266.85,181.2) rotate(-90)">NU15</text>
<text transform="translate(275.45,181.2) rotate(-90)">NU16</text>
<text transform="translate(284.05,181.2) rotate(-90)">NU21</text>
<text transform="translate(292.65,181.2) rotate(-90)">NU9</text>
<text transform="translate(301.25,181.2) rotate(-90)">NU10</text>
<text transform="translate(309.85,181.2) rotate(-90)">NU17</text>
<text transform="translate(318.45,181.2) rotate(-90)">NU19</text>
<text transform="translate(327.05,181.2) rotate(-90)">CU4</text>
<text transform="translate(335.65,181.2) rotate(-90)">CU5</text>
<text transform="translate(344.25,181.2) rotate(-90)">CU6</text>
<text transform="translate(352.85,181.2) rotate(-90)">CU7</text>
<text transform="translate(361.45,181.2) rotate(-90)">CU8</text>
<text transform="translate(370.05,181.2) rotate(-90)">CU11</text>
<text transform="translate(378.65,181.2) rotate(-90)">CU13</text>
<text transform="translate(387.25,181.2) rotate(-90)">CU14</text>
<text transform="translate(395.85,181.2) rotate(-90)">CU15</text>
<text transform="translate(404.45,181.2) rotate(-90)">CU9</text>
<text transform="translate(413.05,181.2) rotate(-90)">CU10</text>
<text transform="translate(421.65,181.2) rotate(-90)">CU12</text>
<text transform="translate(430.25,181.2) rotate(-90)">CU16</text>
<text transform="translate(438.85,181.2) rotate(-90)">24_1</text>
<text transform="translate(442.55,181.2) rotate(-90)">24_2</text>
<text transform="translate(446.25,181.2) rotate(-90)">24_3</text>
<text transform="translate(454.85,181.2) rotate(-90)">20_1</text>
<text transform="translate(463.45,181.2) rotate(-90)">161_1</text>
<text transform="translate(467.15,181.2) rotate(-90)">161_2</text>
<text transform="translate(470.85,181.2) rotate(-90)">161_3</text>
<text transform="translate(479.45,181.2) rotate(-90)">160_1</text>
<text transform="translate(488.05,181.2) rotate(-90)">162_1</text>
<text transform="translate(496.65,181.2) rotate(-90)">3_1</text>
<text transform="translate(500.35,181.2) rotate(-90)">3_2</text>
<text transform="translate(508.95,181.2) rotate(-90)">71_1</text>
<text transform="translate(512.65,181.2) rotate(-90)">71_3</text>
<text transform="translate(521.25,181.2) rotate(-90)">163_1</text>
<text transform="translate(524.95,181.2) rotate(-90)">163_3</text>
<text transform="translate(533.55,181.2) rotate(-90)">93_1</text>
<text transform="translate(537.25,181.2) rotate(-90)">93_2</text>
<text transform="translate(540.95,181.2) rotate(-90)">93_3</text>
<text transform="translate(549.55,181.2) rotate(-90)">164_1</text>
<text transform="translate(553.25,181.2) rotate(-90)">164_2</text>
<text transform="translate(561.85,181.2) rotate(-90)">107</text>
<text transform="translate(570.45,181.2) rotate(-90)">105</text>
<text transform="translate(579.05,181.2) rotate(-90)">4368</text>
<text transform="translate(587.65,181.2) rotate(-90)">NU22</text>
<text transform="translate(596.25,181.2) rotate(-90)">NU11</text>
<text transform="translate(604.85,181.2) rotate(-90)">CU1</text>
<text transform="translate(613.45,181.2) rotate(-90)">CU2</text>
<text transform="translate(622.05,181.2) rotate(-90)">CU3</text>
</g>
<path d="M9.3,20.7 H6.9 V158.8 H9.3 M6.9,79.6 H9.3" stroke="#2a2a2a" stroke-width="0.8" fill="none"/>
<path d="M9.3,161.4 H6.6 V178.2 H9.3" stroke="#2a2a2a" stroke-width="0.8" fill="none"/>
<text transform="translate(4.2,49.5) rotate(-90)" font-size="3.8" text-anchor="middle" fill="#2a2a2a">MUT</text>
<text transform="translate(4.2,116.5) rotate(-90)" font-size="3.8" text-anchor="middle" fill="#2a2a2a">CNV</text>
<text transform="translate(4.2,170.5) rotate(-90)" font-size="3.8" text-anchor="middle" fill="#2a2a2a">FUS</text>
<rect x="630.3" y="16.30" width="4.2" height="4.2" fill="#8496b8" stroke="#555" stroke-width="0.4"/>
<text x="636.70" y="20.80" font-size="6.65" fill="#000">Pre-treatment</text>
<rect x="630.3" y="28.30" width="4.2" height="4.2" fill="#c7601a" stroke="#555" stroke-width="0.4"/>
<text x="636.70" y="32.80" font-size="6.65" fill="#000">Post-treatment</text>
<rect x="630.3" y="70.90" width="4.2" height="4.2" fill="#3b7fba" stroke="#555" stroke-width="0.4"/>
<text x="636.70" y="75.40" font-size="6.65" fill="#000">Frameshift indel</text>
<rect x="630.3" y="81.40" width="4.2" height="4.2" fill="#4aab4a" stroke="#555" stroke-width="0.4"/>
<text x="636.70" y="85.90" font-size="6.65" fill="#000">Missense</text>
<rect x="630.3" y="91.90" width="4.2" height="4.2" fill="#9a49ac" stroke="#555" stroke-width="0.4"/>
<text x="636.70" y="96.40" font-size="6.65" fill="#000">Nonsense</text>
<rect x="630.3" y="102.40" width="4.2" height="4.2" fill="#ff8205" stroke="#555" stroke-width="0.4"/>
<text x="636.70" y="106.90" font-size="6.65" fill="#000">Splice site</text>
<rect x="630.3" y="144.90" width="4.2" height="4.2" fill="#ff0000" stroke="#555" stroke-width="0.4"/>
<text x="636.70" y="149.40" font-size="6.65" fill="#000">Amplification</text>
<rect x="630.3" y="152.60" width="4.2" height="4.2" fill="#ffb4c3" stroke="#555" stroke-width="0.4"/>
<rect x="630.3" y="160.30" width="4.2" height="4.2" fill="#ffffff" stroke="#333" stroke-width="0.4"/>
<text x="636.70" y="164.80" font-size="6.65" fill="#000">Neutral</text>
<rect x="630.3" y="168.00" width="4.2" height="4.2" fill="#87ceeb" stroke="#555" stroke-width="0.4"/>
<rect x="630.3" y="175.70" width="4.2" height="4.2" fill="#0000ff" stroke="#555" stroke-width="0.4"/>
<text x="636.70" y="180.20" font-size="6.65" fill="#000">Deletion</text>
<text x="-0.30" y="209.60" font-size="9.5" font-weight="bold">b</text>
<line x1="28.6" y1="269.5" x2="165.5" y2="269.5" stroke="#e2e2e2" stroke-width="0.5" stroke-dasharray="0.6 1"/>
<path d="M28.6,213.1 V343.0 H165.5" stroke="#222" stroke-width="0.8" fill="none"/>
<line x1="25.6" y1="217.8" x2="28.6" y2="217.8" stroke="#222" stroke-width="0.8" fill="none"/>
<text x="22.70" y="220.85" font-size="8.7" text-anchor="end">3</text>
<line x1="25.6" y1="248.1" x2="28.6" y2="248.1" stroke="#222" stroke-width="0.8" fill="none"/>
<text x="22.70" y="251.15" font-size="8.7" text-anchor="end">2</text>
<line x1="25.6" y1="278.2" x2="28.6" y2="278.2" stroke="#222" stroke-width="0.8" fill="none"/>
<text x="22.70" y="281.25" font-size="8.7" text-anchor="end">1</text>
<line x1="25.6" y1="308.3" x2="28.6" y2="308.3" stroke="#222" stroke-width="0.8" fill="none"/>
<text x="22.70" y="311.35" font-size="8.7" text-anchor="end">0</text>
<line x1="56.4" y1="343.0" x2="56.4" y2="346.0" stroke="#222" stroke-width="0.8" fill="none"/>
<text x="56.40" y="356.30" font-size="8.7" text-anchor="middle">50</text>
<line x1="93.4" y1="343.0" x2="93.4" y2="346.0" stroke="#222" stroke-width="0.8" fill="none"/>
<text x="93.40" y="356.30" font-size="8.7" text-anchor="middle">100</text>
<line x1="130.5" y1="343.0" x2="130.5" y2="346.0" stroke="#222" stroke-width="0.8" fill="none"/>
<text x="130.50" y="356.30" font-size="8.7" text-anchor="middle">150</text>
<text x="96.90" y="368.80" font-size="8.7" text-anchor="middle">Number of mutations</text>
<text transform="translate(9.9,277.8) rotate(-90)" font-size="8.85" text-anchor="middle">Significance: –log<tspan font-size="6.6" dy="1.6">10</tspan><tspan dy="-1.6">(</tspan><tspan font-style="italic">P</tspan>)</text>
<circle cx="150.7" cy="225.7" r="3.1" fill="#e8750c"/>
<text x="150.70" y="221.05" font-size="7.4" text-anchor="middle" fill="#e8750c">PTEN</text>
<circle cx="48.8" cy="256.0" r="2.3" fill="#1a9bd0"/>
<text x="52.00" y="258.65" font-size="7.4" text-anchor="start" fill="#1a9bd0">BRAF/PTPN11</text>
<circle cx="53.4" cy="294.6" r="1.35" fill="#e8750c"/>
<text x="53.40" y="291.35" font-size="7.4" text-anchor="middle" fill="#e8750c">MTOR</text>
<circle cx="41.6" cy="299.6" r="1.0" fill="#1a9bd0"/>
<text x="51.10" y="302.25" font-size="7.4" text-anchor="middle" fill="#1a9bd0">PIK3CA</text>
<circle cx="71.0" cy="297.2" r="1.35" fill="#1a9bd0"/>
<text x="73.60" y="299.35" font-size="7.4" text-anchor="start" fill="#1a9bd0">NF1</text>
<circle cx="86.4" cy="302.7" r="1.1" fill="#e8750c"/>
<text x="86.70" y="311.35" font-size="7.4" text-anchor="middle" fill="#e8750c">TP53</text>
<circle cx="44.1" cy="303.9" r="1.1" fill="#e8750c"/>
<text x="44.10" y="313.55" font-size="7.4" text-anchor="middle" fill="#e8750c">ATRX</text>
<line x1="237.7" y1="269.5" x2="374.3" y2="269.5" stroke="#e2e2e2" stroke-width="0.5" stroke-dasharray="0.6 1"/>
<path d="M237.7,213.1 V343.0 H374.3" stroke="#222" stroke-width="0.8" fill="none"/>
<line x1="234.7" y1="217.8" x2="237.7" y2="217.8" stroke="#222" stroke-width="0.8" fill="none"/>
<text x="231.80" y="220.85" font-size="8.7" text-anchor="end">3</text>
<line x1="234.7" y1="248.1" x2="237.7" y2="248.1" stroke="#222" stroke-width="0.8" fill="none"/>
<text x="231.80" y="251.15" font-size="8.7" text-anchor="end">2</text>
<line x1="234.7" y1="278.2" x2="237.7" y2="278.2" stroke="#222" stroke-width="0.8" fill="none"/>
<text x="231.80" y="281.25" font-size="8.7" text-anchor="end">1</text>
<line x1="234.7" y1="308.3" x2="237.7" y2="308.3" stroke="#222" stroke-width="0.8" fill="none"/>
<text x="231.80" y="311.35" font-size="8.7" text-anchor="end">0</text>
<line x1="247.3" y1="343.0" x2="247.3" y2="346.0" stroke="#222" stroke-width="0.8" fill="none"/>
<text x="247.30" y="356.30" font-size="8.7" text-anchor="middle">0</text>
<line x1="269.8" y1="343.0" x2="269.8" y2="346.0" stroke="#222" stroke-width="0.8" fill="none"/>
<text x="269.80" y="356.30" font-size="8.7" text-anchor="middle">5</text>
<line x1="292.6" y1="343.0" x2="292.6" y2="346.0" stroke="#222" stroke-width="0.8" fill="none"/>
<text x="292.60" y="356.30" font-size="8.7" text-anchor="middle">10</text>
<line x1="315.3" y1="343.0" x2="315.3" y2="346.0" stroke="#222" stroke-width="0.8" fill="none"/>
<text x="315.30" y="356.30" font-size="8.7" text-anchor="middle">15</text>
<line x1="337.8" y1="343.0" x2="337.8" y2="346.0" stroke="#222" stroke-width="0.8" fill="none"/>
<text x="337.80" y="356.30" font-size="8.7" text-anchor="middle">20</text>
<line x1="360.6" y1="343.0" x2="360.6" y2="346.0" stroke="#222" stroke-width="0.8" fill="none"/>
<text x="360.60" y="356.30" font-size="8.7" text-anchor="middle">25</text>
<text x="306.00" y="368.80" font-size="8.7" text-anchor="middle">Number of mutations</text>
<text transform="translate(218.1,277.8) rotate(-90)" font-size="8.85" text-anchor="middle">Significance: –log<tspan font-size="6.6" dy="1.6">10</tspan><tspan dy="-1.6">(</tspan><tspan font-style="italic">P</tspan>)</text>
<circle cx="365.0" cy="242.3" r="2.6" fill="#e8750c"/>
<text x="365.00" y="238.25" font-size="7.4" text-anchor="middle" fill="#e8750c">PTEN</text>
<circle cx="269.8" cy="257.5" r="2.2" fill="#1a9bd0"/>
<text x="269.80" y="253.45" font-size="7.4" text-anchor="middle" fill="#1a9bd0">BRAF/PTPN11</text>
<circle cx="256.4" cy="287.3" r="1.4" fill="#1a9bd0"/>
<text x="256.40" y="284.65" font-size="7.4" text-anchor="middle" fill="#1a9bd0">PIK3CA</text>
<circle cx="283.5" cy="303.6" r="1.05" fill="#1a9bd0"/>
<text x="283.50" y="301.05" font-size="7.4" text-anchor="middle" fill="#1a9bd0">NF1</text>
<circle cx="252.0" cy="308.6" r="1.0" fill="#e8750c"/>
<text x="252.00" y="306.25" font-size="7.4" text-anchor="middle" fill="#e8750c">ATRX</text>
<circle cx="252.0" cy="308.6" r="0.0" fill="#e8750c"/>
<text x="252.00" y="317.35" font-size="7.4" text-anchor="middle" fill="#e8750c">MTOR</text>
<circle cx="287.9" cy="308.6" r="1.0" fill="#e8750c"/>
<text x="287.90" y="317.35" font-size="7.4" text-anchor="middle" fill="#e8750c">TP53</text>
<text x="410.60" y="208.60" font-size="9.8" font-weight="bold">c</text>
<text x="425.60" y="215.70" font-size="8.7">PTEN</text>
<path d="M432.6,333.5 C440,290 475,236 526,232.8 C590,228.5 640,250 667.5,292.8" stroke="#858585" stroke-width="2.8" fill="none"/>
<line x1="437.5" y1="277.2" x2="452" y2="286" stroke="#222" stroke-width="0.75"/>
<line x1="449.5" y1="262.6" x2="461" y2="273" stroke="#222" stroke-width="0.75"/>
<line x1="459.5" y1="251.6" x2="469" y2="262" stroke="#222" stroke-width="0.75"/>
<line x1="475.5" y1="239.0" x2="484" y2="250" stroke="#222" stroke-width="0.75"/>
<line x1="488.0" y1="231.0" x2="494" y2="243" stroke="#222" stroke-width="0.75"/>
<line x1="508.5" y1="221.6" x2="512" y2="236" stroke="#222" stroke-width="0.75"/>
<line x1="495.8" y1="266.0" x2="488" y2="252" stroke="#222" stroke-width="0.75"/>
<line x1="476.0" y1="283.0" x2="466" y2="270" stroke="#222" stroke-width="0.75"/>
<line x1="466.0" y1="295.6" x2="456" y2="284" stroke="#222" stroke-width="0.75"/>
<line x1="559.6" y1="212.8" x2="560" y2="228" stroke="#222" stroke-width="0.75"/>
<line x1="577.0" y1="209.8" x2="575" y2="228" stroke="#222" stroke-width="0.75"/>
<line x1="597.0" y1="218.8" x2="592" y2="232" stroke="#222" stroke-width="0.75"/>
<line x1="631.2" y1="233.4" x2="625" y2="246" stroke="#222" stroke-width="0.75"/>
<line x1="568.6" y1="247.4" x2="570" y2="236" stroke="#222" stroke-width="0.75"/>
<line x1="599.6" y1="255.2" x2="603" y2="243" stroke="#222" stroke-width="0.75"/>
<path id="phos" d="M437.9,315.6 C445.3,284 475,256 514.8,235.8" stroke="#9ccc2d" stroke-width="17.4" stroke-linecap="round" fill="none"/>
<path id="c2" d="M535.2,232.2 C572,225.5 610,235 635,257" stroke="#b0191f" stroke-width="16.4" stroke-linecap="round" fill="none"/>
<text font-size="8.6" fill="#fff"><textPath href="#phos" startOffset="45%" text-anchor="middle"><tspan dy="3">Phosphatase</tspan></textPath></text>
<text font-size="8.6" fill="#fff"><textPath href="#c2" startOffset="50%" text-anchor="middle"><tspan dy="3">C2</tspan></textPath></text>
<circle cx="437.5" cy="277.2" r="2.75" fill="#0a8a14"/>
<text x="432.30" y="280.10" font-size="8.8" text-anchor="end">Y68H</text>
<circle cx="449.5" cy="262.6" r="2.75" fill="#0a8a14"/>
<text x="444.30" y="265.50" font-size="8.8" text-anchor="end">F90S</text>
<circle cx="459.5" cy="251.6" r="2.75" fill="#0a8a14"/>
<text x="454.30" y="254.50" font-size="8.8" text-anchor="end">D107Y</text>
<circle cx="475.5" cy="239.0" r="2.75" fill="#0a8a14"/>
<text x="470.30" y="241.90" font-size="8.8" text-anchor="end">R130*</text>
<circle cx="488.0" cy="231.0" r="2.75" fill="#0a8a14"/>
<text x="482.80" y="233.90" font-size="8.8" text-anchor="end">K147*</text>
<circle cx="508.5" cy="221.6" r="2.75" fill="#0a8a14"/>
<text x="503.30" y="224.50" font-size="8.8" text-anchor="end">R173C</text>
<circle cx="495.8" cy="266.0" r="2.75" fill="#0a8a14"/>
<text x="500.20" y="268.90" font-size="8.8" text-anchor="start">G132D</text>
<circle cx="476.0" cy="283.0" r="2.75" fill="#0a8a14"/>
<text x="480.40" y="285.90" font-size="8.8" text-anchor="start">H93Y</text>
<circle cx="466.0" cy="295.6" r="2.75" fill="#0a8a14"/>
<text x="470.40" y="298.50" font-size="8.8" text-anchor="start">N69Y</text>
<circle cx="559.6" cy="212.8" r="2.75" fill="#0a8a14"/>
<text x="554.60" y="215.70" font-size="8.8" text-anchor="end">R233*</text>
<circle cx="577.0" cy="209.8" r="2.75" fill="#0a8a14"/>
<text x="582.20" y="212.70" font-size="8.8" text-anchor="start">D252Y</text>
<circle cx="597.0" cy="218.8" r="2.75" fill="#0a8a14"/>
<text x="601.60" y="221.70" font-size="8.8" text-anchor="start">N276fs*13</text>
<circle cx="631.2" cy="233.4" r="2.75" fill="#0a8a14"/>
<text x="636.40" y="236.30" font-size="8.8" text-anchor="start">T319fs*1</text>
<circle cx="568.6" cy="247.4" r="2.75" fill="#0a8a14"/>
<text x="563.00" y="250.30" font-size="8.8" text-anchor="end">L247fs*9</text>
<circle cx="599.6" cy="255.2" r="2.75" fill="#0a8a14"/>
<text x="594.20" y="258.10" font-size="8.8" text-anchor="end">L295fs</text>
<text x="2.40" y="439.00" font-size="9.5" font-weight="bold">d</text>
<path d="M29.2,455.8 H26.3 Q24.8,455.8 24.8,457.3 V486.3 Q24.8,487.8 22.5,487.8 H20.4 H22.5 Q24.8,487.8 24.8,489.3 V518.4 Q24.8,519.9 26.3,519.9 H29.2" stroke="#f2a352" stroke-width="1" fill="none"/>
<path d="M27.2,553.4 H24.3 Q22.8,553.4 22.8,554.9 V583.6 Q22.8,585.1 20.5,585.1 H18.4 H20.5 Q22.8,585.1 22.8,586.6 V615.5 Q22.8,617 24.3,617 H27.2" stroke="#35b0dc" stroke-width="1" fill="none"/>
<text transform="translate(13.90,487.80) rotate(-90)" font-size="8.5" text-anchor="middle">Non-responder</text>
<text transform="translate(13.70,585.30) rotate(-90)" font-size="8.5" text-anchor="middle">Responder</text>
<line x1="97.80" y1="461.50" x2="150.00" y2="488.30" stroke="#c5621a" stroke-width="3.4" stroke-linecap="butt"/>
<line x1="97.80" y1="461.50" x2="106.00" y2="453.50" stroke="#8296b8" stroke-width="3.4" stroke-linecap="butt"/>
<line x1="38.60" y1="461.50" x2="97.40" y2="461.50" stroke="#660066" stroke-width="3.4"/><circle cx="38.60" cy="461.50" r="1.7" fill="#660066"/>
<path d="M108.60,449.60 L108.60,461.60 L101.40,455.60 Z" fill="#8296b8"/>
<path d="M151.20,481.80 L151.20,494.40 L143.64,488.10 Z" fill="#c5621a"/>
<text x="66.30" y="441.35" font-size="7.4" text-anchor="middle" fill="#000" font-style="italic">PTEN</text>
<text x="66.30" y="450.25" font-size="7.4" text-anchor="middle" fill="#000" font-style="italic">NF1</text>
<line x1="66.30" y1="452.00" x2="66.30" y2="456.00" stroke="#1a2560" stroke-width="1.6"/><path d="M66.30,459.60 L64.14,456.00 L68.46,456.00 Z" fill="#1a2560"/>
<text x="104.20" y="489.65" font-size="7.4" text-anchor="middle" fill="#000" font-style="italic">MTOR</text>
<text x="108.60" y="498.65" font-size="7.4" text-anchor="middle" fill="#000" font-style="italic">CREBBP</text>
<line x1="112.80" y1="480.60" x2="114.42" y2="478.47" stroke="#000" stroke-width="1.6"/><path d="M116.60,475.60 L116.14,479.77 L112.70,477.16 Z" fill="#000"/>
<text x="110.40" y="458.35" font-size="7.4" fill="#8296b8">Primary</text>
<text x="152.70" y="490.45" font-size="7.4" fill="#c5621a">Recurrent 2</text>
<text x="75.30" y="524.00" font-size="7.4" text-anchor="middle">Patient 20</text>
<line x1="213.00" y1="463.50" x2="236.00" y2="485.30" stroke="#8296b8" stroke-width="3.4" stroke-linecap="butt"/>
<line x1="232.00" y1="479.60" x2="242.50" y2="469.20" stroke="#c5621a" stroke-width="3.4" stroke-linecap="butt"/>
<line x1="213.00" y1="463.50" x2="225.50" y2="451.50" stroke="#8296b8" stroke-width="3.4" stroke-linecap="butt"/>
<line x1="195.60" y1="463.50" x2="212.60" y2="463.50" stroke="#660066" stroke-width="3.4"/><circle cx="195.60" cy="463.50" r="1.7" fill="#660066"/>
<path d="M228.60,448.00 L228.60,459.60 L221.64,453.80 Z" fill="#8296b8"/>
<path d="M237.60,477.40 L237.60,488.80 L230.76,483.10 Z" fill="#8296b8"/>
<path d="M244.80,466.50 L244.80,477.60 L238.14,472.05 Z" fill="#c5621a"/>
<text x="205.40" y="452.45" font-size="7.4" text-anchor="middle" fill="#000" font-style="italic">PTEN</text>
<line x1="205.40" y1="454.20" x2="205.40" y2="457.90" stroke="#1a2560" stroke-width="1.6"/><path d="M205.40,461.50 L203.24,457.90 L207.56,457.90 Z" fill="#1a2560"/>
<text x="231.00" y="456.85" font-size="7.4" fill="#8296b8">Primary</text>
<text x="245.90" y="474.35" font-size="7.4" fill="#c5621a">Recurrent 2</text>
<text x="241.30" y="486.05" font-size="7.4" fill="#a6b8e0">Recurrent 1</text>
<text x="213.60" y="524.00" font-size="7.4" text-anchor="middle">Patient 53</text>
<rect x="298.2" y="454.00" width="8" height="8" fill="#660066"/>
<text x="309.30" y="461.00" font-size="8.6">Shared mutations</text>
<rect x="298.2" y="467.70" width="8" height="8" fill="#8296b8"/>
<text x="309.30" y="474.70" font-size="8.6">Pre-treatment</text>
<rect x="298.2" y="480.90" width="8" height="8" fill="#c5621a"/>
<text x="309.30" y="487.90" font-size="8.6">Post-treatment</text>
<line x1="89.00" y1="572.60" x2="102.00" y2="585.40" stroke="#8296b8" stroke-width="3.4" stroke-linecap="butt"/>
<line x1="89.00" y1="572.60" x2="98.50" y2="563.50" stroke="#8296b8" stroke-width="3.4" stroke-linecap="butt"/>
<line x1="92.60" y1="574.20" x2="109.50" y2="574.60" stroke="#c5621a" stroke-width="3.4" stroke-linecap="butt"/>
<line x1="38.60" y1="572.60" x2="88.60" y2="572.60" stroke="#660066" stroke-width="3.4"/><circle cx="38.60" cy="572.60" r="1.7" fill="#660066"/>
<path d="M100.80,561.30 L100.80,572.80 L93.90,567.05 Z" fill="#8296b8"/>
<path d="M102.80,576.60 L102.80,588.00 L95.96,582.30 Z" fill="#8296b8"/>
<path d="M113.00,569.20 L113.00,579.80 L106.64,574.50 Z" fill="#c5621a"/>
<text x="61.90" y="549.25" font-size="7.4" text-anchor="middle" fill="#000" font-style="italic">PTEN</text>
<text x="61.90" y="558.35" font-size="7.4" text-anchor="middle" fill="#000" font-style="italic">TP53</text>
<line x1="61.30" y1="561.80" x2="61.30" y2="566.80" stroke="#000" stroke-width="1.6"/><path d="M61.30,570.40 L59.14,566.80 L63.46,566.80 Z" fill="#000"/>
<text x="90.00" y="560.95" font-size="7.4" text-anchor="middle" fill="#000" font-style="italic">RB1</text>
<line x1="89.60" y1="562.60" x2="89.60" y2="565.00" stroke="#000" stroke-width="1.6"/><path d="M89.60,568.60 L87.44,565.00 L91.76,565.00 Z" fill="#000"/>
<text x="73.90" y="593.95" font-size="7.4" text-anchor="middle" fill="#f0141e" font-style="italic">CYP27B1</text>
<line x1="79.40" y1="584.20" x2="89.35" y2="581.23" stroke="#f0141e" stroke-width="1.6"/><path d="M92.80,580.20 L89.97,583.30 L88.73,579.16 Z" fill="#f0141e"/>
<text x="102.20" y="568.25" font-size="7.4" fill="#8296b8">Primary</text>
<text x="114.70" y="577.05" font-size="7.4" fill="#c5621a">Recurrent 2</text>
<text x="104.50" y="586.95" font-size="7.4" fill="#8296b8">Recurrent 1</text>
<text x="72.40" y="622.80" font-size="7.4" text-anchor="middle">Patient 55</text>
<line x1="230.00" y1="573.00" x2="241.00" y2="582.60" stroke="#c5621a" stroke-width="3.4" stroke-linecap="butt"/>
<line x1="230.00" y1="573.00" x2="238.00" y2="565.00" stroke="#8296b8" stroke-width="3.4" stroke-linecap="butt"/>
<line x1="192.20" y1="573.00" x2="229.60" y2="573.00" stroke="#660066" stroke-width="3.4"/><circle cx="192.20" cy="573.00" r="1.7" fill="#660066"/>
<path d="M239.90,562.50 L239.90,574.00 L233.00,568.25 Z" fill="#8296b8"/>
<path d="M242.60,575.20 L242.60,587.20 L235.40,581.20 Z" fill="#c5621a"/>
<text x="212.10" y="563.85" font-size="7.4" text-anchor="middle" fill="#000" font-style="italic">NF1</text>
<line x1="212.10" y1="565.00" x2="212.10" y2="567.20" stroke="#000" stroke-width="1.6"/><path d="M212.10,570.80 L209.94,567.20 L214.26,567.20 Z" fill="#000"/>
<text x="230.50" y="558.95" font-size="7.4" text-anchor="middle" fill="#f0141e" font-style="italic">FNIP1</text>
<line x1="230.50" y1="560.60" x2="230.50" y2="565.20" stroke="#f0141e" stroke-width="1.6"/><path d="M230.50,568.80 L228.34,565.20 L232.66,565.20 Z" fill="#f0141e"/>
<text x="242.80" y="570.65" font-size="7.4" fill="#8296b8">Primary</text>
<text x="244.80" y="584.35" font-size="7.4" fill="#c5621a">Recurrent 2</text>
<text x="214.50" y="622.80" font-size="7.4" text-anchor="middle">Patient 71</text>
<line x1="320.50" y1="572.60" x2="349.50" y2="596.00" stroke="#c5621a" stroke-width="3.4" stroke-linecap="butt"/>
<line x1="332.00" y1="581.80" x2="348.50" y2="575.80" stroke="#c5621a" stroke-width="3.4" stroke-linecap="butt"/>
<line x1="320.50" y1="572.60" x2="329.00" y2="564.00" stroke="#8296b8" stroke-width="3.4" stroke-linecap="butt"/>
<line x1="298.80" y1="572.60" x2="320.10" y2="572.60" stroke="#660066" stroke-width="3.4"/><circle cx="298.80" cy="572.60" r="1.7" fill="#660066"/>
<path d="M331.40,561.40 L331.40,573.00 L324.44,567.20 Z" fill="#8296b8"/>
<path d="M351.40,570.80 L351.40,582.20 L344.56,576.50 Z" fill="#c5621a"/>
<path d="M350.90,587.40 L350.90,599.60 L343.58,593.50 Z" fill="#c5621a"/>
<text x="306.40" y="562.65" font-size="7.4" text-anchor="middle" fill="#000" font-style="italic">IDH1</text>
<line x1="306.10" y1="564.40" x2="306.10" y2="566.80" stroke="#000" stroke-width="1.6"/><path d="M306.10,570.40 L303.94,566.80 L308.26,566.80 Z" fill="#000"/>
<text x="321.60" y="553.95" font-size="7.4" text-anchor="middle" fill="#f0141e" font-style="italic">TCF12</text>
<line x1="321.60" y1="558.20" x2="321.60" y2="564.80" stroke="#f0141e" stroke-width="1.6"/><path d="M321.60,568.40 L319.44,564.80 L323.76,564.80 Z" fill="#f0141e"/>
<text x="333.90" y="570.05" font-size="7.4" fill="#8296b8">Primary</text>
<text x="353.70" y="579.35" font-size="7.4" fill="#c5621a">Recurrent 2</text>
<text x="353.70" y="596.25" font-size="7.4" fill="#c5621a">Recurrent 1</text>
<text x="324.00" y="622.80" font-size="7.4" text-anchor="middle">Patient 101</text>
<text x="414.60" y="356.20" font-size="9.5" font-weight="bold">e</text>
<path d="M439.4,376.5C442.1,376.2 450.0,375.6 455.4,374.7C460.8,373.8 466.4,372.2 471.5,371.1C476.6,370.0 481.2,369.0 486.1,368.1C491.0,367.2 495.6,366.4 500.7,365.5C505.8,364.6 511.9,363.7 516.8,363.0C521.7,362.3 525.8,361.7 530.0,361.3C534.2,360.9 538.0,360.6 542.0,360.5C546.0,360.4 549.7,360.3 554.2,360.4C558.7,360.5 563.9,360.7 568.8,361.1C573.7,361.5 578.5,362.1 583.4,363.0C588.3,363.9 593.6,365.0 598.0,366.4C602.4,367.8 606.8,369.5 609.7,371.1C612.6,372.7 614.4,374.7 615.5,376.2C616.6,377.7 617.1,378.4 616.6,380.2C616.1,382.0 614.7,385.1 612.6,387.1C610.5,389.1 607.4,390.9 603.8,392.2C600.1,393.5 595.3,394.2 590.7,394.8C586.1,395.4 581.0,395.5 576.1,395.6C571.2,395.7 566.4,395.7 561.5,395.6C556.6,395.5 551.8,395.4 546.9,395.1C542.0,394.8 537.3,394.5 532.3,394.0C527.3,393.5 522.1,392.6 516.8,391.9C511.5,391.2 505.8,390.7 500.7,390.0C495.6,389.3 491.0,388.7 486.1,387.6C481.2,386.5 476.6,385.1 471.5,383.5C466.4,381.9 460.8,379.4 455.4,378.2C450.0,377.0 442.1,376.8 439.4,376.5Z" fill="#e3e3e3" stroke="#c2c2c2" stroke-width="0.5" stroke-linejoin="round"/>
<path d="M454.7,376.5C456.1,376.1 460.2,374.7 463.0,373.8C465.8,372.9 467.6,372.3 471.5,371.4C475.4,370.5 482.0,369.2 486.1,368.6C490.2,368.0 492.7,368.0 496.3,368.0C499.9,368.0 504.9,368.3 508.0,368.6C511.1,368.9 512.9,369.3 514.6,369.7C516.3,370.1 517.8,370.8 518.4,371.0C515.4,372.1 503.6,376.2 500.7,377.3C503.8,378.6 516.1,383.6 519.2,384.9C518.3,385.3 516.1,386.5 513.8,387.1C511.4,387.7 508.0,388.4 505.1,388.6C502.2,388.8 499.5,388.7 496.3,388.3C493.1,387.9 490.2,387.4 486.1,386.4C482.0,385.3 475.4,383.2 471.5,382.0C467.6,380.8 465.8,380.2 463.0,379.3C460.2,378.4 456.1,377.0 454.7,376.5Z" fill="#f5ea6e" stroke="#d2c444" stroke-width="0.55" stroke-linejoin="round"/>
<path d="M500.7,377.3C501.9,376.8 505.3,375.5 508.0,374.5C510.7,373.5 514.0,372.0 516.8,371.1C519.6,370.2 522.0,369.8 525.0,369.2C528.0,368.6 531.4,367.8 535.0,367.3C538.6,366.8 543.2,366.3 546.9,366.4C550.6,366.5 554.2,367.1 557.1,367.8C560.0,368.5 562.3,369.4 564.4,370.3C566.5,371.2 568.6,372.7 569.5,373.2C565.6,374.7 550.1,380.5 546.2,382.0C550.5,383.3 567.5,388.7 571.7,390.0C570.7,390.2 568.3,390.8 565.9,391.2C563.5,391.6 560.3,392.0 557.1,392.2C553.9,392.4 550.6,392.5 546.9,392.2C543.2,391.9 538.6,391.4 535.0,390.6C531.4,389.8 528.0,388.5 525.0,387.4C522.0,386.3 519.6,385.4 516.8,384.2C514.0,383.0 510.7,381.5 508.0,380.4C505.3,379.2 501.9,377.8 500.7,377.3Z" fill="#9cc663" stroke="#8fbc56" stroke-width="0.4" stroke-linejoin="round"/>
<path d="M546.2,382.0C547.5,381.4 550.4,379.9 554.2,378.4C558.0,376.9 564.4,374.4 568.8,372.8C573.2,371.2 576.9,369.8 580.5,368.9C584.1,368.0 587.3,367.5 590.7,367.4C594.1,367.3 597.7,367.4 600.9,368.1C604.1,368.8 607.5,370.3 609.7,371.8C611.9,373.3 613.1,375.5 614.0,376.9C614.9,378.3 614.9,379.2 614.9,380.3C614.9,381.4 614.9,382.2 614.0,383.5C613.1,384.8 611.9,386.5 609.7,387.8C607.5,389.1 604.1,390.5 600.9,391.2C597.7,391.9 594.1,391.9 590.7,391.8C587.3,391.7 584.1,391.3 580.5,390.8C576.9,390.3 573.2,389.7 568.8,388.6C564.4,387.5 558.0,385.5 554.2,384.4C550.4,383.3 547.5,382.4 546.2,382.0Z" fill="#90c4da" stroke="#55a8d8" stroke-width="0.7" stroke-linejoin="round"/>
<path d="M445.5,429.0C447.4,428.7 452.6,428.2 456.9,427.2C461.2,426.2 466.6,424.4 471.5,423.1C476.4,421.8 481.2,420.4 486.1,419.5C491.0,418.6 495.6,418.2 500.7,417.6C505.8,417.0 511.9,416.5 516.8,416.1C521.7,415.7 525.8,415.5 530.0,415.4C534.2,415.3 538.0,415.3 542.0,415.3C546.0,415.3 549.7,415.3 554.2,415.4C558.7,415.5 563.9,415.5 568.8,415.8C573.7,416.1 578.5,416.4 583.4,417.0C588.3,417.6 593.6,418.2 598.0,419.1C602.4,420.0 606.7,421.0 609.7,422.4C612.7,423.8 614.6,425.7 616.2,427.5C617.8,429.3 618.7,431.7 619.2,433.4C619.7,435.1 619.6,436.0 619.2,437.7C618.8,439.4 618.4,441.9 617.0,443.6C615.6,445.4 613.8,447.0 611.1,448.2C608.4,449.4 605.0,450.4 600.9,450.9C596.8,451.3 591.2,451.1 586.3,450.9C581.4,450.7 577.1,450.2 571.7,449.7C566.4,449.2 560.0,448.4 554.2,447.9C548.4,447.4 543.2,447.1 537.0,446.6C530.8,446.1 522.8,445.6 516.8,445.0C510.7,444.4 505.8,444.0 500.7,443.3C495.6,442.6 491.0,441.9 486.1,440.9C481.2,439.8 476.4,438.6 471.5,437.0C466.6,435.4 461.2,432.9 456.9,431.6C452.6,430.3 447.4,429.4 445.5,429.0Z" fill="#e3e3e3" stroke="#c2c2c2" stroke-width="0.5" stroke-linejoin="round"/>
<path d="M454.7,429.4C456.3,429.0 460.7,427.8 464.2,426.8C467.7,425.8 472.2,424.2 475.9,423.4C479.5,422.6 482.7,422.3 486.1,422.0C489.5,421.7 493.1,421.6 496.3,421.7C499.5,421.8 502.7,422.0 505.1,422.4C507.5,422.8 509.6,423.5 510.9,423.9C512.2,424.3 512.7,424.8 513.1,425.0C510.5,425.9 500.1,429.5 497.5,430.4C500.2,431.6 511.1,436.5 513.8,437.7C513.3,437.9 512.3,438.6 510.9,439.2C509.4,439.8 507.5,440.6 505.1,441.0C502.7,441.4 499.5,441.5 496.3,441.4C493.1,441.3 489.5,441.0 486.1,440.4C482.7,439.8 479.5,438.9 475.9,437.7C472.2,436.5 467.7,434.5 464.2,433.1C460.7,431.7 456.3,430.0 454.7,429.4Z" fill="#f5ea6e" stroke="#d2c444" stroke-width="0.55" stroke-linejoin="round"/>
<path d="M497.5,430.4C499.2,429.7 504.8,427.3 508.0,426.1C511.2,424.9 513.9,423.9 516.8,423.1C519.7,422.3 522.7,421.7 525.3,421.2C527.9,420.7 529.9,420.4 532.3,420.2C534.7,420.0 537.2,419.8 539.6,419.9C542.0,420.0 544.8,420.4 546.9,420.9C549.0,421.4 550.9,422.3 552.0,422.8C553.1,423.3 553.5,423.8 553.8,424.0C550.2,426.3 535.9,435.7 532.3,438.0C535.9,439.1 550.6,443.2 554.2,444.3C553.0,444.6 549.3,445.5 546.9,445.8C544.5,446.1 542.0,446.2 539.6,446.1C537.2,446.0 534.7,445.7 532.3,445.3C529.9,444.9 527.9,444.4 525.3,443.5C522.7,442.6 519.7,441.2 516.8,439.9C513.9,438.6 511.2,437.1 508.0,435.5C504.8,433.9 499.2,431.2 497.5,430.4Z" fill="#9cc663" stroke="#8fbc56" stroke-width="0.4" stroke-linejoin="round"/>
<path d="M546.9,443.3C548.1,443.5 550.6,443.8 554.2,444.3C557.9,444.8 563.9,445.6 568.8,446.2C573.7,446.8 579.0,447.7 583.4,448.2C587.8,448.7 591.7,449.0 595.1,449.1C598.5,449.2 601.1,449.2 603.8,448.7C606.5,448.1 609.0,447.1 611.1,445.8C613.2,444.5 615.1,442.4 616.2,440.7C617.3,439.0 617.6,437.2 617.7,435.5C617.8,433.8 617.6,431.9 617.0,430.4C616.4,428.9 615.3,427.4 614.1,426.4C612.9,425.4 611.4,424.7 609.7,424.2C608.0,423.7 605.8,423.4 603.8,423.4C601.8,423.3 599.7,423.6 598.0,423.9C596.3,424.2 594.3,425.1 593.6,425.3C592.9,425.8 590.9,427.0 589.2,428.2C587.5,429.4 585.6,431.1 583.4,432.6C581.2,434.1 578.5,435.8 576.1,437.0C573.7,438.2 571.2,439.2 568.8,439.9C566.4,440.6 563.9,441.1 561.5,441.4C559.1,441.7 556.6,441.8 554.2,441.8C551.8,441.8 548.1,441.1 546.9,441.4C545.7,441.6 546.9,443.0 546.9,443.3Z" fill="#e99cac" stroke="#dc8096" stroke-width="0.6" stroke-linejoin="round"/>
<path d="M532.3,438.0C533.5,437.0 537.2,433.9 539.6,431.9C542.0,429.9 544.5,427.6 546.9,426.1C549.3,424.6 551.8,423.8 554.2,423.1C556.6,422.4 559.1,422.0 561.5,421.7C563.9,421.4 566.4,421.3 568.8,421.4C571.2,421.4 573.7,421.7 576.1,422.0C578.5,422.3 581.0,422.9 583.4,423.4C585.8,423.9 589.0,424.6 590.7,424.9C592.4,425.2 593.1,425.2 593.6,425.3C592.9,425.8 590.9,427.0 589.2,428.2C587.5,429.4 585.6,431.1 583.4,432.6C581.2,434.1 578.5,435.8 576.1,437.0C573.7,438.2 571.2,439.2 568.8,439.9C566.4,440.6 563.9,441.1 561.5,441.4C559.1,441.7 556.6,441.8 554.2,441.8C551.8,441.8 549.3,441.7 546.9,441.4C544.5,441.1 542.0,440.5 539.6,439.9C537.2,439.3 533.5,438.3 532.3,438.0Z" fill="#a0469a" stroke="#933a8e" stroke-width="0.4" stroke-linejoin="round"/>
<circle cx="546.3" cy="433.2" r="1.05" fill="#fff"/><circle cx="546.3" cy="433.2" r="0.5" fill="#222"/>
<text x="548.40" y="432.60" font-size="5.4" fill="#fff">Neoantigen</text>
<text transform="translate(422.40,376.00) rotate(-90)" font-size="8.7" text-anchor="middle">Clonal</text>
<text transform="translate(432.90,376.00) rotate(-90)" font-size="8.7" text-anchor="middle">prevalence</text>
<text transform="translate(422.40,429.00) rotate(-90)" font-size="8.7" text-anchor="middle">Clonal</text>
<text transform="translate(432.90,429.00) rotate(-90)" font-size="8.7" text-anchor="middle">prevalence</text>
<text x="627.00" y="390.60" font-size="8.7">Non-responder</text>
<text x="627.00" y="438.40" font-size="8.7">Responder</text>
<text x="441.80" y="463.40" font-size="8.7">Time</text>
<path d="M465.5,460.4 H625.5 M497,460.4 V465.4 M545.2,460.4 V465.4" stroke="#222" stroke-width="0.7" fill="none"/>
<path d="M628.4,460.4 L624.4,458.4 L624.4,462.4 Z" fill="#111"/>
<text x="497.00" y="474.80" font-size="8.7" text-anchor="middle">TMZ</text>
<text x="545.20" y="474.80" font-size="8.7" text-anchor="middle">Anti PD-1</text>
<text x="545.20" y="485.90" font-size="8.7" text-anchor="middle">therapy</text>
<text x="421.40" y="505.80" font-size="9.5" font-weight="bold">f</text>
<rect x="459.7" y="505.9" width="103.0" height="11.0" fill="#0a96c8" stroke="#0a3548" stroke-width="0.45"/>
<rect x="579.9" y="505.9" width="61.6" height="11.0" fill="#e8750c" stroke="#4a2a08" stroke-width="0.45"/>
<text x="511.20" y="514.50" font-size="8.7" text-anchor="middle">Responder</text>
<text x="610.70" y="514.50" font-size="8.7" text-anchor="middle">Non-responder</text>
<line x1="464.3" y1="552.65" x2="480.40000000000003" y2="582.25" stroke="#cfcfcf" stroke-width="0.3" stroke-opacity="0.7"/>
<line x1="464.3" y1="555.12" x2="480.40000000000003" y2="577.31" stroke="#cfcfcf" stroke-width="0.3" stroke-opacity="0.7"/>
<line x1="464.3" y1="571.15" x2="480.40000000000003" y2="584.26" stroke="#cfcfcf" stroke-width="0.3" stroke-opacity="0.7"/>
<line x1="464.3" y1="572.93" x2="480.40000000000003" y2="572.38" stroke="#cfcfcf" stroke-width="0.3" stroke-opacity="0.7"/>
<line x1="464.3" y1="574.71" x2="480.40000000000003" y2="590.29" stroke="#cfcfcf" stroke-width="0.3" stroke-opacity="0.7"/>
<line x1="464.3" y1="576.49" x2="480.40000000000003" y2="572.38" stroke="#cfcfcf" stroke-width="0.3" stroke-opacity="0.7"/>
<line x1="464.3" y1="578.27" x2="480.40000000000003" y2="586.27" stroke="#cfcfcf" stroke-width="0.3" stroke-opacity="0.7"/>
<line x1="464.3" y1="580.05" x2="480.40000000000003" y2="582.25" stroke="#cfcfcf" stroke-width="0.3" stroke-opacity="0.7"/>
<line x1="464.3" y1="581.84" x2="480.40000000000003" y2="584.26" stroke="#cfcfcf" stroke-width="0.3" stroke-opacity="0.7"/>
<line x1="464.3" y1="583.62" x2="480.40000000000003" y2="586.27" stroke="#cfcfcf" stroke-width="0.3" stroke-opacity="0.7"/>
<line x1="464.3" y1="585.40" x2="480.40000000000003" y2="598.34" stroke="#cfcfcf" stroke-width="0.3" stroke-opacity="0.7"/>
<line x1="464.3" y1="587.18" x2="480.40000000000003" y2="604.38" stroke="#cfcfcf" stroke-width="0.3" stroke-opacity="0.7"/>
<line x1="464.3" y1="588.96" x2="480.40000000000003" y2="600.35" stroke="#cfcfcf" stroke-width="0.3" stroke-opacity="0.7"/>
<line x1="464.3" y1="590.74" x2="480.40000000000003" y2="608.40" stroke="#cfcfcf" stroke-width="0.3" stroke-opacity="0.7"/>
<line x1="464.3" y1="592.52" x2="480.40000000000003" y2="604.38" stroke="#cfcfcf" stroke-width="0.3" stroke-opacity="0.7"/>
<line x1="464.3" y1="594.30" x2="480.40000000000003" y2="602.36" stroke="#cfcfcf" stroke-width="0.3" stroke-opacity="0.7"/>
<line x1="464.3" y1="596.08" x2="480.40000000000003" y2="608.40" stroke="#cfcfcf" stroke-width="0.3" stroke-opacity="0.7"/>
<line x1="464.3" y1="597.86" x2="480.40000000000003" y2="606.39" stroke="#cfcfcf" stroke-width="0.3" stroke-opacity="0.7"/>
<line x1="464.3" y1="599.64" x2="480.40000000000003" y2="606.39" stroke="#cfcfcf" stroke-width="0.3" stroke-opacity="0.7"/>
<line x1="464.3" y1="601.43" x2="480.40000000000003" y2="614.43" stroke="#cfcfcf" stroke-width="0.3" stroke-opacity="0.7"/>
<line x1="464.3" y1="603.21" x2="480.40000000000003" y2="612.42" stroke="#cfcfcf" stroke-width="0.3" stroke-opacity="0.7"/>
<line x1="464.3" y1="609.74" x2="480.40000000000003" y2="620.47" stroke="#cfcfcf" stroke-width="0.3" stroke-opacity="0.7"/>
<line x1="464.3" y1="613.07" x2="480.40000000000003" y2="612.42" stroke="#cfcfcf" stroke-width="0.3" stroke-opacity="0.7"/>
<line x1="464.3" y1="578.27" x2="480.40000000000003" y2="620.47" stroke="#cfcfcf" stroke-width="0.3" stroke-opacity="0.7"/>
<line x1="504.0" y1="531.69" x2="520.1" y2="579.78" stroke="#cfcfcf" stroke-width="0.3" stroke-opacity="0.7"/>
<line x1="504.0" y1="540.32" x2="520.1" y2="568.68" stroke="#cfcfcf" stroke-width="0.3" stroke-opacity="0.7"/>
<line x1="504.0" y1="552.65" x2="520.1" y2="552.65" stroke="#cfcfcf" stroke-width="0.3" stroke-opacity="0.7"/>
<line x1="504.0" y1="555.12" x2="520.1" y2="583.54" stroke="#cfcfcf" stroke-width="0.3" stroke-opacity="0.7"/>
<line x1="504.0" y1="558.20" x2="520.1" y2="585.42" stroke="#cfcfcf" stroke-width="0.3" stroke-opacity="0.7"/>
<line x1="504.0" y1="560.67" x2="520.1" y2="583.54" stroke="#cfcfcf" stroke-width="0.3" stroke-opacity="0.7"/>
<line x1="504.0" y1="564.98" x2="520.1" y2="583.54" stroke="#cfcfcf" stroke-width="0.3" stroke-opacity="0.7"/>
<line x1="504.0" y1="566.83" x2="520.1" y2="589.17" stroke="#cfcfcf" stroke-width="0.3" stroke-opacity="0.7"/>
<line x1="504.0" y1="568.68" x2="520.1" y2="589.17" stroke="#cfcfcf" stroke-width="0.3" stroke-opacity="0.7"/>
<line x1="504.0" y1="571.15" x2="520.1" y2="583.54" stroke="#cfcfcf" stroke-width="0.3" stroke-opacity="0.7"/>
<line x1="504.0" y1="573.00" x2="520.1" y2="585.42" stroke="#cfcfcf" stroke-width="0.3" stroke-opacity="0.7"/>
<line x1="504.0" y1="574.85" x2="520.1" y2="587.30" stroke="#cfcfcf" stroke-width="0.3" stroke-opacity="0.7"/>
<line x1="504.0" y1="576.73" x2="520.1" y2="592.93" stroke="#cfcfcf" stroke-width="0.3" stroke-opacity="0.7"/>
<line x1="504.0" y1="578.61" x2="520.1" y2="589.17" stroke="#cfcfcf" stroke-width="0.3" stroke-opacity="0.7"/>
<line x1="504.0" y1="580.49" x2="520.1" y2="596.69" stroke="#cfcfcf" stroke-width="0.3" stroke-opacity="0.7"/>
<line x1="504.0" y1="582.38" x2="520.1" y2="594.81" stroke="#cfcfcf" stroke-width="0.3" stroke-opacity="0.7"/>
<line x1="504.0" y1="584.26" x2="520.1" y2="600.45" stroke="#cfcfcf" stroke-width="0.3" stroke-opacity="0.7"/>
<line x1="504.0" y1="586.14" x2="520.1" y2="606.08" stroke="#cfcfcf" stroke-width="0.3" stroke-opacity="0.7"/>
<line x1="504.0" y1="588.02" x2="520.1" y2="607.96" stroke="#cfcfcf" stroke-width="0.3" stroke-opacity="0.7"/>
<line x1="504.0" y1="589.90" x2="520.1" y2="604.21" stroke="#cfcfcf" stroke-width="0.3" stroke-opacity="0.7"/>
<line x1="504.0" y1="591.79" x2="520.1" y2="598.57" stroke="#cfcfcf" stroke-width="0.3" stroke-opacity="0.7"/>
<line x1="504.0" y1="593.67" x2="520.1" y2="609.84" stroke="#cfcfcf" stroke-width="0.3" stroke-opacity="0.7"/>
<line x1="504.0" y1="595.55" x2="520.1" y2="609.84" stroke="#cfcfcf" stroke-width="0.3" stroke-opacity="0.7"/>
<line x1="504.0" y1="597.43" x2="520.1" y2="615.48" stroke="#cfcfcf" stroke-width="0.3" stroke-opacity="0.7"/>
<line x1="504.0" y1="599.31" x2="520.1" y2="615.48" stroke="#cfcfcf" stroke-width="0.3" stroke-opacity="0.7"/>
<line x1="504.0" y1="601.20" x2="520.1" y2="609.84" stroke="#cfcfcf" stroke-width="0.3" stroke-opacity="0.7"/>
<line x1="504.0" y1="603.08" x2="520.1" y2="611.72" stroke="#cfcfcf" stroke-width="0.3" stroke-opacity="0.7"/>
<line x1="504.0" y1="604.96" x2="520.1" y2="609.84" stroke="#cfcfcf" stroke-width="0.3" stroke-opacity="0.7"/>
<line x1="504.0" y1="606.84" x2="520.1" y2="613.60" stroke="#cfcfcf" stroke-width="0.3" stroke-opacity="0.7"/>
<line x1="504.0" y1="608.72" x2="520.1" y2="613.60" stroke="#cfcfcf" stroke-width="0.3" stroke-opacity="0.7"/>
<line x1="504.0" y1="610.61" x2="520.1" y2="619.24" stroke="#cfcfcf" stroke-width="0.3" stroke-opacity="0.7"/>
<line x1="543.9" y1="574.85" x2="560.0" y2="555.12" stroke="#cfcfcf" stroke-width="0.3" stroke-opacity="0.7"/>
<line x1="543.9" y1="583.48" x2="560.0" y2="555.12" stroke="#cfcfcf" stroke-width="0.3" stroke-opacity="0.7"/>
<line x1="543.9" y1="585.12" x2="560.0" y2="555.12" stroke="#cfcfcf" stroke-width="0.3" stroke-opacity="0.7"/>
<line x1="543.9" y1="586.77" x2="560.0" y2="577.31" stroke="#cfcfcf" stroke-width="0.3" stroke-opacity="0.7"/>
<line x1="543.9" y1="588.41" x2="560.0" y2="575.59" stroke="#cfcfcf" stroke-width="0.3" stroke-opacity="0.7"/>
<line x1="543.9" y1="590.06" x2="560.0" y2="575.59" stroke="#cfcfcf" stroke-width="0.3" stroke-opacity="0.7"/>
<line x1="543.9" y1="591.70" x2="560.0" y2="580.77" stroke="#cfcfcf" stroke-width="0.3" stroke-opacity="0.7"/>
<line x1="543.9" y1="593.34" x2="560.0" y2="585.95" stroke="#cfcfcf" stroke-width="0.3" stroke-opacity="0.7"/>
<line x1="543.9" y1="594.99" x2="560.0" y2="575.59" stroke="#cfcfcf" stroke-width="0.3" stroke-opacity="0.7"/>
<line x1="543.9" y1="596.63" x2="560.0" y2="579.04" stroke="#cfcfcf" stroke-width="0.3" stroke-opacity="0.7"/>
<line x1="543.9" y1="598.27" x2="560.0" y2="579.04" stroke="#cfcfcf" stroke-width="0.3" stroke-opacity="0.7"/>
<line x1="543.9" y1="604.44" x2="560.0" y2="590.88" stroke="#cfcfcf" stroke-width="0.3" stroke-opacity="0.7"/>
<line x1="543.9" y1="605.92" x2="560.0" y2="585.95" stroke="#cfcfcf" stroke-width="0.3" stroke-opacity="0.7"/>
<line x1="543.9" y1="614.55" x2="560.0" y2="598.27" stroke="#cfcfcf" stroke-width="0.3" stroke-opacity="0.7"/>
<line x1="543.9" y1="618.37" x2="560.0" y2="604.44" stroke="#cfcfcf" stroke-width="0.3" stroke-opacity="0.7"/>
<line x1="583.7" y1="576.08" x2="599.8000000000001" y2="585.15" stroke="#cfcfcf" stroke-width="0.3" stroke-opacity="0.7"/>
<line x1="583.7" y1="577.93" x2="599.8000000000001" y2="586.82" stroke="#cfcfcf" stroke-width="0.3" stroke-opacity="0.7"/>
<line x1="583.7" y1="580.27" x2="599.8000000000001" y2="585.15" stroke="#cfcfcf" stroke-width="0.3" stroke-opacity="0.7"/>
<line x1="583.7" y1="588.41" x2="599.8000000000001" y2="583.48" stroke="#cfcfcf" stroke-width="0.3" stroke-opacity="0.7"/>
<line x1="583.7" y1="589.97" x2="599.8000000000001" y2="583.48" stroke="#cfcfcf" stroke-width="0.3" stroke-opacity="0.7"/>
<line x1="583.7" y1="591.53" x2="599.8000000000001" y2="585.15" stroke="#cfcfcf" stroke-width="0.3" stroke-opacity="0.7"/>
<line x1="583.7" y1="593.08" x2="599.8000000000001" y2="590.15" stroke="#cfcfcf" stroke-width="0.3" stroke-opacity="0.7"/>
<line x1="583.7" y1="594.64" x2="599.8000000000001" y2="585.15" stroke="#cfcfcf" stroke-width="0.3" stroke-opacity="0.7"/>
<line x1="583.7" y1="596.20" x2="599.8000000000001" y2="590.15" stroke="#cfcfcf" stroke-width="0.3" stroke-opacity="0.7"/>
<line x1="583.7" y1="597.76" x2="599.8000000000001" y2="590.15" stroke="#cfcfcf" stroke-width="0.3" stroke-opacity="0.7"/>
<line x1="583.7" y1="599.31" x2="599.8000000000001" y2="588.48" stroke="#cfcfcf" stroke-width="0.3" stroke-opacity="0.7"/>
<line x1="583.7" y1="600.87" x2="599.8000000000001" y2="591.82" stroke="#cfcfcf" stroke-width="0.3" stroke-opacity="0.7"/>
<line x1="583.7" y1="602.43" x2="599.8000000000001" y2="603.50" stroke="#cfcfcf" stroke-width="0.3" stroke-opacity="0.7"/>
<line x1="583.7" y1="603.99" x2="599.8000000000001" y2="593.49" stroke="#cfcfcf" stroke-width="0.3" stroke-opacity="0.7"/>
<line x1="583.7" y1="605.54" x2="599.8000000000001" y2="601.83" stroke="#cfcfcf" stroke-width="0.3" stroke-opacity="0.7"/>
<line x1="583.7" y1="607.10" x2="599.8000000000001" y2="603.50" stroke="#cfcfcf" stroke-width="0.3" stroke-opacity="0.7"/>
<line x1="583.7" y1="608.66" x2="599.8000000000001" y2="605.17" stroke="#cfcfcf" stroke-width="0.3" stroke-opacity="0.7"/>
<line x1="583.7" y1="610.22" x2="599.8000000000001" y2="600.16" stroke="#cfcfcf" stroke-width="0.3" stroke-opacity="0.7"/>
<line x1="583.7" y1="611.77" x2="599.8000000000001" y2="617.14" stroke="#cfcfcf" stroke-width="0.3" stroke-opacity="0.7"/>
<line x1="583.7" y1="613.33" x2="599.8000000000001" y2="608.50" stroke="#cfcfcf" stroke-width="0.3" stroke-opacity="0.7"/>
<line x1="583.7" y1="614.89" x2="599.8000000000001" y2="605.17" stroke="#cfcfcf" stroke-width="0.3" stroke-opacity="0.7"/>
<line x1="583.7" y1="616.45" x2="599.8000000000001" y2="618.50" stroke="#cfcfcf" stroke-width="0.3" stroke-opacity="0.7"/>
<line x1="583.7" y1="618.00" x2="599.8000000000001" y2="611.84" stroke="#cfcfcf" stroke-width="0.3" stroke-opacity="0.7"/>
<line x1="583.7" y1="623.18" x2="599.8000000000001" y2="618.50" stroke="#cfcfcf" stroke-width="0.3" stroke-opacity="0.7"/>
<line x1="623.5" y1="599.51" x2="639.6" y2="583.99" stroke="#cfcfcf" stroke-width="0.3" stroke-opacity="0.7"/>
<line x1="623.5" y1="603.21" x2="639.6" y2="561.29" stroke="#cfcfcf" stroke-width="0.3" stroke-opacity="0.7"/>
<line x1="623.5" y1="606.91" x2="639.6" y2="587.47" stroke="#cfcfcf" stroke-width="0.3" stroke-opacity="0.7"/>
<line x1="623.5" y1="607.99" x2="639.6" y2="572.38" stroke="#cfcfcf" stroke-width="0.3" stroke-opacity="0.7"/>
<line x1="623.5" y1="609.08" x2="639.6" y2="587.47" stroke="#cfcfcf" stroke-width="0.3" stroke-opacity="0.7"/>
<line x1="623.5" y1="610.16" x2="639.6" y2="587.47" stroke="#cfcfcf" stroke-width="0.3" stroke-opacity="0.7"/>
<line x1="623.5" y1="611.25" x2="639.6" y2="585.73" stroke="#cfcfcf" stroke-width="0.3" stroke-opacity="0.7"/>
<line x1="623.5" y1="612.33" x2="639.6" y2="590.95" stroke="#cfcfcf" stroke-width="0.3" stroke-opacity="0.7"/>
<line x1="623.5" y1="613.42" x2="639.6" y2="589.21" stroke="#cfcfcf" stroke-width="0.3" stroke-opacity="0.7"/>
<line x1="623.5" y1="614.50" x2="639.6" y2="594.43" stroke="#cfcfcf" stroke-width="0.3" stroke-opacity="0.7"/>
<line x1="623.5" y1="615.59" x2="639.6" y2="599.65" stroke="#cfcfcf" stroke-width="0.3" stroke-opacity="0.7"/>
<line x1="623.5" y1="616.67" x2="639.6" y2="599.65" stroke="#cfcfcf" stroke-width="0.3" stroke-opacity="0.7"/>
<line x1="623.5" y1="617.76" x2="639.6" y2="594.43" stroke="#cfcfcf" stroke-width="0.3" stroke-opacity="0.7"/>
<line x1="623.5" y1="618.84" x2="639.6" y2="597.91" stroke="#cfcfcf" stroke-width="0.3" stroke-opacity="0.7"/>
<line x1="623.5" y1="619.93" x2="639.6" y2="608.36" stroke="#cfcfcf" stroke-width="0.3" stroke-opacity="0.7"/>
<line x1="623.5" y1="621.01" x2="639.6" y2="603.13" stroke="#cfcfcf" stroke-width="0.3" stroke-opacity="0.7"/>
<line x1="623.5" y1="622.10" x2="639.6" y2="608.36" stroke="#cfcfcf" stroke-width="0.3" stroke-opacity="0.7"/>
<line x1="623.5" y1="623.18" x2="639.6" y2="606.62" stroke="#cfcfcf" stroke-width="0.3" stroke-opacity="0.7"/>
<line x1="623.5" y1="616.67" x2="639.6" y2="603.13" stroke="#cfcfcf" stroke-width="0.3" stroke-opacity="0.7"/>
<line x1="623.5" y1="607.99" x2="639.6" y2="610.10" stroke="#cfcfcf" stroke-width="0.3" stroke-opacity="0.7"/>
<line x1="623.5" y1="615.59" x2="639.6" y2="611.84" stroke="#cfcfcf" stroke-width="0.3" stroke-opacity="0.7"/>
<line x1="455.5" y1="629.4" x2="566" y2="629.4" stroke="#222" stroke-width="0.55" stroke-dasharray="1.6 1.2"/>
<circle cx="464.3" cy="552.65" r="1.05" fill="#8ba0c4"/>
<circle cx="464.3" cy="555.12" r="1.05" fill="#8ba0c4"/>
<circle cx="464.3" cy="571.15" r="1.05" fill="#8ba0c4"/>
<circle cx="464.3" cy="572.93" r="1.05" fill="#8ba0c4"/>
<circle cx="464.3" cy="574.71" r="1.05" fill="#8ba0c4"/>
<circle cx="464.3" cy="576.49" r="1.05" fill="#8ba0c4"/>
<circle cx="464.3" cy="578.27" r="1.05" fill="#8ba0c4"/>
<circle cx="464.3" cy="580.05" r="1.05" fill="#8ba0c4"/>
<circle cx="464.3" cy="581.84" r="1.05" fill="#8ba0c4"/>
<circle cx="464.3" cy="583.62" r="1.05" fill="#8ba0c4"/>
<circle cx="464.3" cy="585.40" r="1.05" fill="#8ba0c4"/>
<circle cx="464.3" cy="587.18" r="1.05" fill="#8ba0c4"/>
<circle cx="464.3" cy="588.96" r="1.05" fill="#8ba0c4"/>
<circle cx="464.3" cy="590.74" r="1.05" fill="#8ba0c4"/>
<circle cx="464.3" cy="592.52" r="1.05" fill="#8ba0c4"/>
<circle cx="464.3" cy="594.30" r="1.05" fill="#8ba0c4"/>
<circle cx="464.3" cy="596.08" r="1.05" fill="#8ba0c4"/>
<circle cx="464.3" cy="597.86" r="1.05" fill="#8ba0c4"/>
<circle cx="464.3" cy="599.64" r="1.05" fill="#8ba0c4"/>
<circle cx="464.3" cy="601.43" r="1.05" fill="#8ba0c4"/>
<circle cx="464.3" cy="603.21" r="1.05" fill="#8ba0c4"/>
<circle cx="464.3" cy="609.74" r="1.05" fill="#8ba0c4"/>
<circle cx="464.3" cy="613.07" r="1.05" fill="#8ba0c4"/>
<circle cx="480.40000000000003" cy="546.49" r="1.05" fill="#d0681c"/>
<circle cx="480.40000000000003" cy="572.38" r="1.05" fill="#d0681c"/>
<circle cx="480.40000000000003" cy="577.31" r="1.05" fill="#d0681c"/>
<circle cx="480.40000000000003" cy="582.25" r="1.05" fill="#d0681c"/>
<circle cx="480.40000000000003" cy="584.26" r="1.05" fill="#d0681c"/>
<circle cx="480.40000000000003" cy="586.27" r="1.05" fill="#d0681c"/>
<circle cx="480.40000000000003" cy="588.28" r="1.05" fill="#d0681c"/>
<circle cx="480.40000000000003" cy="590.29" r="1.05" fill="#d0681c"/>
<circle cx="480.40000000000003" cy="592.30" r="1.05" fill="#d0681c"/>
<circle cx="480.40000000000003" cy="594.32" r="1.05" fill="#d0681c"/>
<circle cx="480.40000000000003" cy="596.33" r="1.05" fill="#d0681c"/>
<circle cx="480.40000000000003" cy="598.34" r="1.05" fill="#d0681c"/>
<circle cx="480.40000000000003" cy="600.35" r="1.05" fill="#d0681c"/>
<circle cx="480.40000000000003" cy="602.36" r="1.05" fill="#d0681c"/>
<circle cx="480.40000000000003" cy="604.38" r="1.05" fill="#d0681c"/>
<circle cx="480.40000000000003" cy="606.39" r="1.05" fill="#d0681c"/>
<circle cx="480.40000000000003" cy="608.40" r="1.05" fill="#d0681c"/>
<circle cx="480.40000000000003" cy="610.41" r="1.05" fill="#d0681c"/>
<circle cx="480.40000000000003" cy="612.42" r="1.05" fill="#d0681c"/>
<circle cx="480.40000000000003" cy="614.43" r="1.05" fill="#d0681c"/>
<circle cx="480.40000000000003" cy="616.45" r="1.05" fill="#d0681c"/>
<circle cx="480.40000000000003" cy="618.46" r="1.05" fill="#d0681c"/>
<circle cx="480.40000000000003" cy="620.47" r="1.05" fill="#d0681c"/>
<circle cx="480.40000000000003" cy="629.10" r="1.05" fill="#d0681c"/>
<line x1="464.3" y1="571.15" x2="480.40000000000003" y2="629.10" stroke="#e8202a" stroke-width="0.9"/>
<line x1="464.3" y1="571.40" x2="480.40000000000003" y2="595.81" stroke="#e8202a" stroke-width="0.9"/>
<line x1="464.3" y1="579.78" x2="480.40000000000003" y2="600.74" stroke="#e8202a" stroke-width="0.9"/>
<line x1="464.3" y1="581.01" x2="480.40000000000003" y2="607.52" stroke="#e8202a" stroke-width="0.9"/>
<line x1="464.3" y1="582.25" x2="480.40000000000003" y2="593.96" stroke="#e8202a" stroke-width="0.9"/>
<line x1="464.3" y1="584.71" x2="480.40000000000003" y2="608.14" stroke="#e8202a" stroke-width="0.9"/>
<line x1="464.3" y1="593.96" x2="480.40000000000003" y2="599.51" stroke="#e8202a" stroke-width="0.9"/>
<line x1="464.3" y1="597.04" x2="480.40000000000003" y2="607.52" stroke="#e8202a" stroke-width="0.9"/>
<line x1="464.3" y1="601.97" x2="480.40000000000003" y2="593.34" stroke="#e8202a" stroke-width="0.9"/>
<line x1="464.3" y1="598.89" x2="480.40000000000003" y2="601.97" stroke="#e8202a" stroke-width="0.9"/>
<circle cx="504.0" cy="531.69" r="1.05" fill="#8ba0c4"/>
<circle cx="504.0" cy="540.32" r="1.05" fill="#8ba0c4"/>
<circle cx="504.0" cy="552.65" r="1.05" fill="#8ba0c4"/>
<circle cx="504.0" cy="555.12" r="1.05" fill="#8ba0c4"/>
<circle cx="504.0" cy="558.20" r="1.05" fill="#8ba0c4"/>
<circle cx="504.0" cy="560.67" r="1.05" fill="#8ba0c4"/>
<circle cx="504.0" cy="564.98" r="1.05" fill="#8ba0c4"/>
<circle cx="504.0" cy="566.83" r="1.05" fill="#8ba0c4"/>
<circle cx="504.0" cy="568.68" r="1.05" fill="#8ba0c4"/>
<circle cx="504.0" cy="571.15" r="1.05" fill="#8ba0c4"/>
<circle cx="504.0" cy="573.00" r="1.05" fill="#8ba0c4"/>
<circle cx="504.0" cy="574.85" r="1.05" fill="#8ba0c4"/>
<circle cx="504.0" cy="576.73" r="1.05" fill="#8ba0c4"/>
<circle cx="504.0" cy="578.61" r="1.05" fill="#8ba0c4"/>
<circle cx="504.0" cy="580.49" r="1.05" fill="#8ba0c4"/>
<circle cx="504.0" cy="582.38" r="1.05" fill="#8ba0c4"/>
<circle cx="504.0" cy="584.26" r="1.05" fill="#8ba0c4"/>
<circle cx="504.0" cy="586.14" r="1.05" fill="#8ba0c4"/>
<circle cx="504.0" cy="588.02" r="1.05" fill="#8ba0c4"/>
<circle cx="504.0" cy="589.90" r="1.05" fill="#8ba0c4"/>
<circle cx="504.0" cy="591.79" r="1.05" fill="#8ba0c4"/>
<circle cx="504.0" cy="593.67" r="1.05" fill="#8ba0c4"/>
<circle cx="504.0" cy="595.55" r="1.05" fill="#8ba0c4"/>
<circle cx="504.0" cy="597.43" r="1.05" fill="#8ba0c4"/>
<circle cx="504.0" cy="599.31" r="1.05" fill="#8ba0c4"/>
<circle cx="504.0" cy="601.20" r="1.05" fill="#8ba0c4"/>
<circle cx="504.0" cy="603.08" r="1.05" fill="#8ba0c4"/>
<circle cx="504.0" cy="604.96" r="1.05" fill="#8ba0c4"/>
<circle cx="504.0" cy="606.84" r="1.05" fill="#8ba0c4"/>
<circle cx="504.0" cy="608.72" r="1.05" fill="#8ba0c4"/>
<circle cx="504.0" cy="610.61" r="1.05" fill="#8ba0c4"/>
<circle cx="520.1" cy="552.65" r="1.05" fill="#d0681c"/>
<circle cx="520.1" cy="568.68" r="1.05" fill="#d0681c"/>
<circle cx="520.1" cy="579.78" r="1.05" fill="#d0681c"/>
<circle cx="520.1" cy="581.66" r="1.05" fill="#d0681c"/>
<circle cx="520.1" cy="583.54" r="1.05" fill="#d0681c"/>
<circle cx="520.1" cy="585.42" r="1.05" fill="#d0681c"/>
<circle cx="520.1" cy="587.30" r="1.05" fill="#d0681c"/>
<circle cx="520.1" cy="589.17" r="1.05" fill="#d0681c"/>
<circle cx="520.1" cy="591.05" r="1.05" fill="#d0681c"/>
<circle cx="520.1" cy="592.93" r="1.05" fill="#d0681c"/>
<circle cx="520.1" cy="594.81" r="1.05" fill="#d0681c"/>
<circle cx="520.1" cy="596.69" r="1.05" fill="#d0681c"/>
<circle cx="520.1" cy="598.57" r="1.05" fill="#d0681c"/>
<circle cx="520.1" cy="600.45" r="1.05" fill="#d0681c"/>
<circle cx="520.1" cy="602.33" r="1.05" fill="#d0681c"/>
<circle cx="520.1" cy="604.21" r="1.05" fill="#d0681c"/>
<circle cx="520.1" cy="606.08" r="1.05" fill="#d0681c"/>
<circle cx="520.1" cy="607.96" r="1.05" fill="#d0681c"/>
<circle cx="520.1" cy="609.84" r="1.05" fill="#d0681c"/>
<circle cx="520.1" cy="611.72" r="1.05" fill="#d0681c"/>
<circle cx="520.1" cy="613.60" r="1.05" fill="#d0681c"/>
<circle cx="520.1" cy="615.48" r="1.05" fill="#d0681c"/>
<circle cx="520.1" cy="617.36" r="1.05" fill="#d0681c"/>
<circle cx="520.1" cy="619.24" r="1.05" fill="#d0681c"/>
<circle cx="520.1" cy="629.10" r="1.05" fill="#d0681c"/>
<line x1="504.0" y1="581.01" x2="520.1" y2="600.74" stroke="#e8202a" stroke-width="0.9"/>
<line x1="504.0" y1="597.04" x2="520.1" y2="600.12" stroke="#e8202a" stroke-width="0.9"/>
<line x1="504.0" y1="598.89" x2="520.1" y2="603.21" stroke="#e8202a" stroke-width="0.9"/>
<line x1="504.0" y1="600.74" x2="520.1" y2="604.44" stroke="#e8202a" stroke-width="0.9"/>
<line x1="504.0" y1="603.21" x2="520.1" y2="629.10" stroke="#e8202a" stroke-width="0.9"/>
<circle cx="543.9" cy="574.85" r="1.05" fill="#8ba0c4"/>
<circle cx="543.9" cy="583.48" r="1.05" fill="#8ba0c4"/>
<circle cx="543.9" cy="585.12" r="1.05" fill="#8ba0c4"/>
<circle cx="543.9" cy="586.77" r="1.05" fill="#8ba0c4"/>
<circle cx="543.9" cy="588.41" r="1.05" fill="#8ba0c4"/>
<circle cx="543.9" cy="590.06" r="1.05" fill="#8ba0c4"/>
<circle cx="543.9" cy="591.70" r="1.05" fill="#8ba0c4"/>
<circle cx="543.9" cy="593.34" r="1.05" fill="#8ba0c4"/>
<circle cx="543.9" cy="594.99" r="1.05" fill="#8ba0c4"/>
<circle cx="543.9" cy="596.63" r="1.05" fill="#8ba0c4"/>
<circle cx="543.9" cy="598.27" r="1.05" fill="#8ba0c4"/>
<circle cx="543.9" cy="604.44" r="1.05" fill="#8ba0c4"/>
<circle cx="543.9" cy="605.92" r="1.05" fill="#8ba0c4"/>
<circle cx="543.9" cy="614.55" r="1.05" fill="#8ba0c4"/>
<circle cx="543.9" cy="618.37" r="1.05" fill="#8ba0c4"/>
<circle cx="560.0" cy="555.12" r="1.05" fill="#d0681c"/>
<circle cx="560.0" cy="556.97" r="1.05" fill="#d0681c"/>
<circle cx="560.0" cy="558.20" r="1.05" fill="#d0681c"/>
<circle cx="560.0" cy="573.86" r="1.05" fill="#d0681c"/>
<circle cx="560.0" cy="575.59" r="1.05" fill="#d0681c"/>
<circle cx="560.0" cy="577.31" r="1.05" fill="#d0681c"/>
<circle cx="560.0" cy="579.04" r="1.05" fill="#d0681c"/>
<circle cx="560.0" cy="580.77" r="1.05" fill="#d0681c"/>
<circle cx="560.0" cy="582.49" r="1.05" fill="#d0681c"/>
<circle cx="560.0" cy="584.22" r="1.05" fill="#d0681c"/>
<circle cx="560.0" cy="585.95" r="1.05" fill="#d0681c"/>
<circle cx="560.0" cy="590.88" r="1.05" fill="#d0681c"/>
<circle cx="560.0" cy="598.27" r="1.05" fill="#d0681c"/>
<circle cx="560.0" cy="604.44" r="1.05" fill="#d0681c"/>
<circle cx="560.0" cy="629.10" r="1.05" fill="#d0681c"/>
<line x1="543.9" y1="584.22" x2="560.0" y2="574.85" stroke="#e8202a" stroke-width="0.9"/>
<line x1="543.9" y1="585.95" x2="560.0" y2="576.45" stroke="#e8202a" stroke-width="0.9"/>
<line x1="543.9" y1="585.08" x2="560.0" y2="579.78" stroke="#e8202a" stroke-width="0.9"/>
<line x1="543.9" y1="597.29" x2="560.0" y2="629.10" stroke="#e8202a" stroke-width="0.9"/>
<circle cx="583.7" cy="576.08" r="1.05" fill="#8ba0c4"/>
<circle cx="583.7" cy="577.93" r="1.05" fill="#8ba0c4"/>
<circle cx="583.7" cy="580.27" r="1.05" fill="#8ba0c4"/>
<circle cx="583.7" cy="588.41" r="1.05" fill="#8ba0c4"/>
<circle cx="583.7" cy="589.97" r="1.05" fill="#8ba0c4"/>
<circle cx="583.7" cy="591.53" r="1.05" fill="#8ba0c4"/>
<circle cx="583.7" cy="593.08" r="1.05" fill="#8ba0c4"/>
<circle cx="583.7" cy="594.64" r="1.05" fill="#8ba0c4"/>
<circle cx="583.7" cy="596.20" r="1.05" fill="#8ba0c4"/>
<circle cx="583.7" cy="597.76" r="1.05" fill="#8ba0c4"/>
<circle cx="583.7" cy="599.31" r="1.05" fill="#8ba0c4"/>
<circle cx="583.7" cy="600.87" r="1.05" fill="#8ba0c4"/>
<circle cx="583.7" cy="602.43" r="1.05" fill="#8ba0c4"/>
<circle cx="583.7" cy="603.99" r="1.05" fill="#8ba0c4"/>
<circle cx="583.7" cy="605.54" r="1.05" fill="#8ba0c4"/>
<circle cx="583.7" cy="607.10" r="1.05" fill="#8ba0c4"/>
<circle cx="583.7" cy="608.66" r="1.05" fill="#8ba0c4"/>
<circle cx="583.7" cy="610.22" r="1.05" fill="#8ba0c4"/>
<circle cx="583.7" cy="611.77" r="1.05" fill="#8ba0c4"/>
<circle cx="583.7" cy="613.33" r="1.05" fill="#8ba0c4"/>
<circle cx="583.7" cy="614.89" r="1.05" fill="#8ba0c4"/>
<circle cx="583.7" cy="616.45" r="1.05" fill="#8ba0c4"/>
<circle cx="583.7" cy="618.00" r="1.05" fill="#8ba0c4"/>
<circle cx="583.7" cy="623.18" r="1.05" fill="#8ba0c4"/>
<circle cx="599.8000000000001" cy="568.68" r="1.05" fill="#d0681c"/>
<circle cx="599.8000000000001" cy="576.08" r="1.05" fill="#d0681c"/>
<circle cx="599.8000000000001" cy="583.48" r="1.05" fill="#d0681c"/>
<circle cx="599.8000000000001" cy="585.15" r="1.05" fill="#d0681c"/>
<circle cx="599.8000000000001" cy="586.82" r="1.05" fill="#d0681c"/>
<circle cx="599.8000000000001" cy="588.48" r="1.05" fill="#d0681c"/>
<circle cx="599.8000000000001" cy="590.15" r="1.05" fill="#d0681c"/>
<circle cx="599.8000000000001" cy="591.82" r="1.05" fill="#d0681c"/>
<circle cx="599.8000000000001" cy="593.49" r="1.05" fill="#d0681c"/>
<circle cx="599.8000000000001" cy="595.16" r="1.05" fill="#d0681c"/>
<circle cx="599.8000000000001" cy="596.82" r="1.05" fill="#d0681c"/>
<circle cx="599.8000000000001" cy="598.49" r="1.05" fill="#d0681c"/>
<circle cx="599.8000000000001" cy="600.16" r="1.05" fill="#d0681c"/>
<circle cx="599.8000000000001" cy="601.83" r="1.05" fill="#d0681c"/>
<circle cx="599.8000000000001" cy="603.50" r="1.05" fill="#d0681c"/>
<circle cx="599.8000000000001" cy="605.17" r="1.05" fill="#d0681c"/>
<circle cx="599.8000000000001" cy="606.83" r="1.05" fill="#d0681c"/>
<circle cx="599.8000000000001" cy="608.50" r="1.05" fill="#d0681c"/>
<circle cx="599.8000000000001" cy="610.17" r="1.05" fill="#d0681c"/>
<circle cx="599.8000000000001" cy="611.84" r="1.05" fill="#d0681c"/>
<circle cx="599.8000000000001" cy="617.14" r="1.05" fill="#d0681c"/>
<circle cx="599.8000000000001" cy="618.50" r="1.05" fill="#d0681c"/>
<line x1="583.7" y1="581.01" x2="599.8000000000001" y2="583.48" stroke="#e8202a" stroke-width="0.9"/>
<line x1="583.7" y1="593.71" x2="599.8000000000001" y2="585.95" stroke="#e8202a" stroke-width="0.9"/>
<line x1="583.7" y1="595.56" x2="599.8000000000001" y2="587.67" stroke="#e8202a" stroke-width="0.9"/>
<line x1="583.7" y1="598.27" x2="599.8000000000001" y2="590.88" stroke="#e8202a" stroke-width="0.9"/>
<line x1="583.7" y1="598.89" x2="599.8000000000001" y2="603.21" stroke="#e8202a" stroke-width="0.9"/>
<line x1="583.7" y1="600.74" x2="599.8000000000001" y2="618.00" stroke="#e8202a" stroke-width="0.9"/>
<line x1="583.7" y1="601.60" x2="599.8000000000001" y2="597.29" stroke="#e8202a" stroke-width="0.9"/>
<line x1="583.7" y1="603.21" x2="599.8000000000001" y2="604.44" stroke="#e8202a" stroke-width="0.9"/>
<line x1="583.7" y1="605.67" x2="599.8000000000001" y2="588.41" stroke="#e8202a" stroke-width="0.9"/>
<line x1="583.7" y1="607.65" x2="599.8000000000001" y2="603.21" stroke="#e8202a" stroke-width="0.9"/>
<line x1="583.7" y1="623.18" x2="599.8000000000001" y2="603.21" stroke="#e8202a" stroke-width="0.9"/>
<line x1="583.7" y1="592.11" x2="599.8000000000001" y2="614.30" stroke="#e8202a" stroke-width="0.9"/>
<circle cx="623.5" cy="599.51" r="1.05" fill="#8ba0c4"/>
<circle cx="623.5" cy="603.21" r="1.05" fill="#8ba0c4"/>
<circle cx="623.5" cy="606.91" r="1.05" fill="#8ba0c4"/>
<circle cx="623.5" cy="607.99" r="1.05" fill="#8ba0c4"/>
<circle cx="623.5" cy="609.08" r="1.05" fill="#8ba0c4"/>
<circle cx="623.5" cy="610.16" r="1.05" fill="#8ba0c4"/>
<circle cx="623.5" cy="611.25" r="1.05" fill="#8ba0c4"/>
<circle cx="623.5" cy="612.33" r="1.05" fill="#8ba0c4"/>
<circle cx="623.5" cy="613.42" r="1.05" fill="#8ba0c4"/>
<circle cx="623.5" cy="614.50" r="1.05" fill="#8ba0c4"/>
<circle cx="623.5" cy="615.59" r="1.05" fill="#8ba0c4"/>
<circle cx="623.5" cy="616.67" r="1.05" fill="#8ba0c4"/>
<circle cx="623.5" cy="617.76" r="1.05" fill="#8ba0c4"/>
<circle cx="623.5" cy="618.84" r="1.05" fill="#8ba0c4"/>
<circle cx="623.5" cy="619.93" r="1.05" fill="#8ba0c4"/>
<circle cx="623.5" cy="621.01" r="1.05" fill="#8ba0c4"/>
<circle cx="623.5" cy="622.10" r="1.05" fill="#8ba0c4"/>
<circle cx="623.5" cy="623.18" r="1.05" fill="#8ba0c4"/>
<circle cx="639.6" cy="561.29" r="1.05" fill="#d0681c"/>
<circle cx="639.6" cy="572.38" r="1.05" fill="#d0681c"/>
<circle cx="639.6" cy="582.25" r="1.05" fill="#d0681c"/>
<circle cx="639.6" cy="583.99" r="1.05" fill="#d0681c"/>
<circle cx="639.6" cy="585.73" r="1.05" fill="#d0681c"/>
<circle cx="639.6" cy="587.47" r="1.05" fill="#d0681c"/>
<circle cx="639.6" cy="589.21" r="1.05" fill="#d0681c"/>
<circle cx="639.6" cy="590.95" r="1.05" fill="#d0681c"/>
<circle cx="639.6" cy="592.69" r="1.05" fill="#d0681c"/>
<circle cx="639.6" cy="594.43" r="1.05" fill="#d0681c"/>
<circle cx="639.6" cy="596.17" r="1.05" fill="#d0681c"/>
<circle cx="639.6" cy="597.91" r="1.05" fill="#d0681c"/>
<circle cx="639.6" cy="599.65" r="1.05" fill="#d0681c"/>
<circle cx="639.6" cy="601.39" r="1.05" fill="#d0681c"/>
<circle cx="639.6" cy="603.13" r="1.05" fill="#d0681c"/>
<circle cx="639.6" cy="604.88" r="1.05" fill="#d0681c"/>
<circle cx="639.6" cy="606.62" r="1.05" fill="#d0681c"/>
<circle cx="639.6" cy="608.36" r="1.05" fill="#d0681c"/>
<circle cx="639.6" cy="610.10" r="1.05" fill="#d0681c"/>
<circle cx="639.6" cy="611.84" r="1.05" fill="#d0681c"/>
<circle cx="639.6" cy="615.78" r="1.05" fill="#d0681c"/>
<line x1="623.5" y1="614.55" x2="639.6" y2="585.08" stroke="#e8202a" stroke-width="0.9"/>
<line x1="623.5" y1="614.30" x2="639.6" y2="585.95" stroke="#e8202a" stroke-width="0.9"/>
<line x1="623.5" y1="614.80" x2="639.6" y2="599.88" stroke="#e8202a" stroke-width="0.9"/>
<line x1="623.5" y1="614.55" x2="639.6" y2="601.60" stroke="#e8202a" stroke-width="0.9"/>
<line x1="623.5" y1="615.04" x2="639.6" y2="604.44" stroke="#e8202a" stroke-width="0.9"/>
<line x1="623.5" y1="615.29" x2="639.6" y2="606.91" stroke="#e8202a" stroke-width="0.9"/>
<line x1="623.5" y1="615.54" x2="639.6" y2="608.51" stroke="#e8202a" stroke-width="0.9"/>
<line x1="623.5" y1="613.69" x2="639.6" y2="598.27" stroke="#e8202a" stroke-width="0.9"/>
<text x="485.20" y="628.20" font-size="5.1" fill="#000">CYP27B1</text>
<text x="485.20" y="635.40" font-size="5.1" fill="#000">G194E</text>
<text x="525.40" y="628.20" font-size="5.1" fill="#000">FNIP1</text>
<text x="525.40" y="635.40" font-size="5.1" fill="#000">T490M</text>
<text x="566.00" y="628.20" font-size="5.1" fill="#000">TCF12</text>
<text x="566.00" y="635.40" font-size="5.1" fill="#000">A605S</text>
<path d="M455.5,505.6 V629.1" stroke="#222" stroke-width="0.7" fill="none"/>
<line x1="452.8" y1="629.10" x2="455.5" y2="629.10" stroke="#222" stroke-width="0.7" fill="none"/>
<text x="450.80" y="632.20" font-size="8.7" text-anchor="end">0.0</text>
<line x1="452.8" y1="604.44" x2="455.5" y2="604.44" stroke="#222" stroke-width="0.7" fill="none"/>
<text x="450.80" y="607.54" font-size="8.7" text-anchor="end">0.2</text>
<line x1="452.8" y1="579.78" x2="455.5" y2="579.78" stroke="#222" stroke-width="0.7" fill="none"/>
<text x="450.80" y="582.88" font-size="8.7" text-anchor="end">0.4</text>
<line x1="452.8" y1="555.12" x2="455.5" y2="555.12" stroke="#222" stroke-width="0.7" fill="none"/>
<text x="450.80" y="558.22" font-size="8.7" text-anchor="end">0.6</text>
<line x1="452.8" y1="530.46" x2="455.5" y2="530.46" stroke="#222" stroke-width="0.7" fill="none"/>
<text x="450.80" y="533.56" font-size="8.7" text-anchor="end">0.8</text>
<line x1="452.8" y1="505.80" x2="455.5" y2="505.80" stroke="#222" stroke-width="0.7" fill="none"/>
<text x="450.80" y="508.90" font-size="8.7" text-anchor="end">1.0</text>
<text transform="translate(429.80,568.00) rotate(-90)" font-size="8.7" text-anchor="middle">Allele frequency</text>
<path d="M464.3,636.8 V634.5 H480.40000000000003 V636.8" stroke="#222" stroke-width="0.85" fill="none"/>
<text transform="translate(466.90,644.60) rotate(-45)" font-size="7.5" text-anchor="end">Pre</text>
<text transform="translate(483.00,644.60) rotate(-45)" font-size="7.5" text-anchor="end">Post</text>
<text x="473.30" y="666.00" font-size="7.4" text-anchor="middle">Patient 55</text>
<path d="M504.0,636.8 V634.5 H520.1 V636.8" stroke="#222" stroke-width="0.85" fill="none"/>
<text transform="translate(506.60,644.60) rotate(-45)" font-size="7.5" text-anchor="end">Pre</text>
<text transform="translate(522.70,644.60) rotate(-45)" font-size="7.5" text-anchor="end">Post</text>
<text x="513.50" y="666.00" font-size="7.4" text-anchor="middle">Patient 71</text>
<path d="M543.9,636.8 V634.5 H560.0 V636.8" stroke="#222" stroke-width="0.85" fill="none"/>
<text transform="translate(546.50,644.60) rotate(-45)" font-size="7.5" text-anchor="end">Pre</text>
<text transform="translate(562.60,644.60) rotate(-45)" font-size="7.5" text-anchor="end">Post</text>
<text x="555.00" y="666.00" font-size="7.4" text-anchor="middle">Patient 101</text>
<path d="M583.7,636.8 V634.5 H599.8000000000001 V636.8" stroke="#222" stroke-width="0.85" fill="none"/>
<text transform="translate(586.30,644.60) rotate(-45)" font-size="7.5" text-anchor="end">Pre</text>
<text transform="translate(602.40,644.60) rotate(-45)" font-size="7.5" text-anchor="end">Post</text>
<text x="597.00" y="666.00" font-size="7.4" text-anchor="middle">Patient 20</text>
<path d="M623.5,636.8 V634.5 H639.6 V636.8" stroke="#222" stroke-width="0.85" fill="none"/>
<text transform="translate(626.10,644.60) rotate(-45)" font-size="7.5" text-anchor="end">Pre</text>
<text transform="translate(642.20,644.60) rotate(-45)" font-size="7.5" text-anchor="end">Post</text>
<text x="638.00" y="666.00" font-size="7.4" text-anchor="middle">Patient 53</text>
</svg>
</body>
</html>
